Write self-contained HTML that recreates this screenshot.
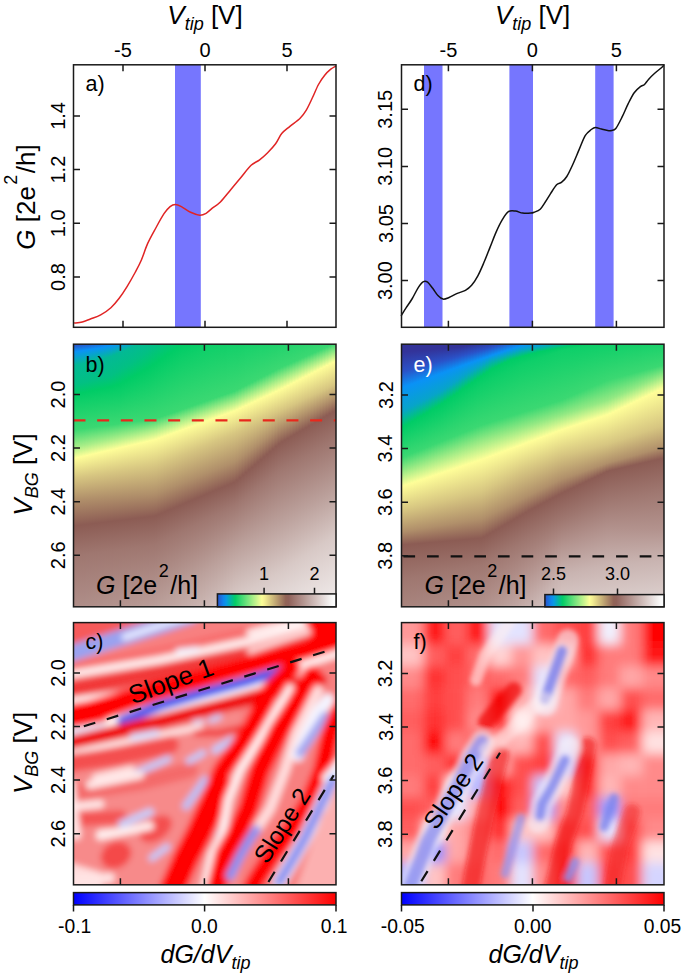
<!DOCTYPE html><html><head><meta charset="utf-8"><style>html,body{margin:0;padding:0;background:#fff;}svg{display:block;}</style></head><body><svg width="685" height="977" viewBox="0 0 685 977" font-family='"Liberation Sans", sans-serif'><defs><linearGradient id="g1" gradientUnits="userSpaceOnUse" x1="0" y1="344.2" x2="0" y2="606.8"><stop offset="0.0000" stop-color="#2a52c8"/><stop offset="0.0021" stop-color="#2a52c8"/><stop offset="0.0286" stop-color="#0a92f6"/><stop offset="0.0812" stop-color="#03b995"/><stop offset="0.1535" stop-color="#02c083"/><stop offset="0.1905" stop-color="#00cc66"/><stop offset="0.2188" stop-color="#0ecf69"/><stop offset="0.3257" stop-color="#3bd872"/><stop offset="0.3936" stop-color="#a9ee88"/><stop offset="0.4343" stop-color="#ffff99"/><stop offset="0.4354" stop-color="#fefd98"/><stop offset="0.5084" stop-color="#d7c681"/><stop offset="0.5927" stop-color="#b08f6a"/><stop offset="0.6914" stop-color="#8c5c54"/><stop offset="0.8055" stop-color="#9f7770"/><stop offset="1.0000" stop-color="#ae8d88"/></linearGradient><linearGradient id="g2" gradientUnits="userSpaceOnUse" x1="0" y1="344.2" x2="0" y2="606.8"><stop offset="0.0000" stop-color="#2a52c8"/><stop offset="0.0008" stop-color="#2a52c8"/><stop offset="0.0269" stop-color="#0a92f6"/><stop offset="0.0784" stop-color="#03b995"/><stop offset="0.1507" stop-color="#02c083"/><stop offset="0.1882" stop-color="#00cc66"/><stop offset="0.2169" stop-color="#0ecf69"/><stop offset="0.3242" stop-color="#3bd872"/><stop offset="0.3911" stop-color="#a9ee88"/><stop offset="0.4317" stop-color="#ffff99"/><stop offset="0.4327" stop-color="#fefd98"/><stop offset="0.5067" stop-color="#d7c681"/><stop offset="0.5919" stop-color="#b08f6a"/><stop offset="0.6900" stop-color="#8c5c54"/><stop offset="0.8040" stop-color="#9f7770"/><stop offset="1.0000" stop-color="#af8e88"/></linearGradient><linearGradient id="g3" gradientUnits="userSpaceOnUse" x1="0" y1="344.2" x2="0" y2="606.8"><stop offset="0.0000" stop-color="#2953c9"/><stop offset="0.0252" stop-color="#0a92f6"/><stop offset="0.0756" stop-color="#03b995"/><stop offset="0.1479" stop-color="#02c083"/><stop offset="0.1859" stop-color="#00cc66"/><stop offset="0.2149" stop-color="#0ecf69"/><stop offset="0.3227" stop-color="#3bd872"/><stop offset="0.3886" stop-color="#a9ee88"/><stop offset="0.4291" stop-color="#ffff99"/><stop offset="0.4301" stop-color="#fefd98"/><stop offset="0.5051" stop-color="#d7c681"/><stop offset="0.5911" stop-color="#b08f6a"/><stop offset="0.6886" stop-color="#8c5c54"/><stop offset="0.8025" stop-color="#9f7770"/><stop offset="1.0000" stop-color="#af8e89"/></linearGradient><linearGradient id="g4" gradientUnits="userSpaceOnUse" x1="0" y1="344.2" x2="0" y2="606.8"><stop offset="0.0000" stop-color="#2857cb"/><stop offset="0.0235" stop-color="#0a92f6"/><stop offset="0.0728" stop-color="#03b995"/><stop offset="0.1452" stop-color="#02c083"/><stop offset="0.1836" stop-color="#00cc66"/><stop offset="0.2130" stop-color="#0ecf69"/><stop offset="0.3211" stop-color="#3ad872"/><stop offset="0.3861" stop-color="#a9ee88"/><stop offset="0.4264" stop-color="#ffff99"/><stop offset="0.4275" stop-color="#fefd98"/><stop offset="0.5034" stop-color="#d7c681"/><stop offset="0.5903" stop-color="#b08f6a"/><stop offset="0.6872" stop-color="#8c5c54"/><stop offset="0.8009" stop-color="#9f7770"/><stop offset="1.0000" stop-color="#af8e89"/></linearGradient><linearGradient id="g5" gradientUnits="userSpaceOnUse" x1="0" y1="344.2" x2="0" y2="606.8"><stop offset="0.0000" stop-color="#265ace"/><stop offset="0.0218" stop-color="#0a92f6"/><stop offset="0.0700" stop-color="#03b995"/><stop offset="0.1424" stop-color="#02c083"/><stop offset="0.1813" stop-color="#00cc66"/><stop offset="0.2110" stop-color="#0ecf69"/><stop offset="0.3196" stop-color="#3bd872"/><stop offset="0.3836" stop-color="#a9ee88"/><stop offset="0.4238" stop-color="#ffff99"/><stop offset="0.4248" stop-color="#fefd98"/><stop offset="0.5017" stop-color="#d7c681"/><stop offset="0.5894" stop-color="#b08f6a"/><stop offset="0.6858" stop-color="#8c5c54"/><stop offset="0.7994" stop-color="#9f7770"/><stop offset="1.0000" stop-color="#af8f8a"/></linearGradient><linearGradient id="g6" gradientUnits="userSpaceOnUse" x1="0" y1="344.2" x2="0" y2="606.8"><stop offset="0.0000" stop-color="#245ed1"/><stop offset="0.0201" stop-color="#0a92f6"/><stop offset="0.0673" stop-color="#03b995"/><stop offset="0.1396" stop-color="#02c083"/><stop offset="0.1790" stop-color="#00cc66"/><stop offset="0.2091" stop-color="#0ecf69"/><stop offset="0.3181" stop-color="#3bd872"/><stop offset="0.3811" stop-color="#a9ee88"/><stop offset="0.4211" stop-color="#ffff99"/><stop offset="0.4222" stop-color="#fefd98"/><stop offset="0.5000" stop-color="#d7c681"/><stop offset="0.5886" stop-color="#b08f6a"/><stop offset="0.6844" stop-color="#8c5c54"/><stop offset="0.7979" stop-color="#9f7770"/><stop offset="1.0000" stop-color="#b08f8a"/></linearGradient><linearGradient id="g7" gradientUnits="userSpaceOnUse" x1="0" y1="344.2" x2="0" y2="606.8"><stop offset="0.0000" stop-color="#2164d5"/><stop offset="0.0184" stop-color="#0a92f6"/><stop offset="0.0645" stop-color="#03b995"/><stop offset="0.1369" stop-color="#02c083"/><stop offset="0.1767" stop-color="#00cc66"/><stop offset="0.2072" stop-color="#0ecf69"/><stop offset="0.3165" stop-color="#3bd872"/><stop offset="0.3786" stop-color="#a9ee88"/><stop offset="0.4185" stop-color="#ffff99"/><stop offset="0.4195" stop-color="#fefd98"/><stop offset="0.4984" stop-color="#d7c681"/><stop offset="0.5877" stop-color="#b08f6a"/><stop offset="0.6830" stop-color="#8c5c54"/><stop offset="0.7963" stop-color="#9f7770"/><stop offset="1.0000" stop-color="#b0908b"/></linearGradient><linearGradient id="g8" gradientUnits="userSpaceOnUse" x1="0" y1="344.2" x2="0" y2="606.8"><stop offset="0.0000" stop-color="#1e6ada"/><stop offset="0.0167" stop-color="#0a92f6"/><stop offset="0.0617" stop-color="#03b995"/><stop offset="0.1341" stop-color="#02c083"/><stop offset="0.1744" stop-color="#00cc66"/><stop offset="0.2052" stop-color="#0ecf69"/><stop offset="0.3150" stop-color="#3ad872"/><stop offset="0.3760" stop-color="#a9ee88"/><stop offset="0.4158" stop-color="#ffff99"/><stop offset="0.4169" stop-color="#fefd98"/><stop offset="0.4967" stop-color="#d7c681"/><stop offset="0.5869" stop-color="#b08f6a"/><stop offset="0.6816" stop-color="#8c5c54"/><stop offset="0.7948" stop-color="#9f7770"/><stop offset="1.0000" stop-color="#b1908b"/></linearGradient><linearGradient id="g9" gradientUnits="userSpaceOnUse" x1="0" y1="344.2" x2="0" y2="606.8"><stop offset="0.0000" stop-color="#1b70dd"/><stop offset="0.0150" stop-color="#0a92f6"/><stop offset="0.0589" stop-color="#03b995"/><stop offset="0.1313" stop-color="#02c083"/><stop offset="0.1720" stop-color="#00cc66"/><stop offset="0.2032" stop-color="#0ecf69"/><stop offset="0.3134" stop-color="#3bd872"/><stop offset="0.3735" stop-color="#a9ee88"/><stop offset="0.4132" stop-color="#ffff99"/><stop offset="0.4142" stop-color="#fefd98"/><stop offset="0.4950" stop-color="#d7c681"/><stop offset="0.5861" stop-color="#b08f6a"/><stop offset="0.6802" stop-color="#8c5c54"/><stop offset="0.7933" stop-color="#9f7770"/><stop offset="1.0000" stop-color="#b1918c"/></linearGradient><linearGradient id="g10" gradientUnits="userSpaceOnUse" x1="0" y1="344.2" x2="0" y2="606.8"><stop offset="0.0000" stop-color="#1876e2"/><stop offset="0.0125" stop-color="#0a92f6"/><stop offset="0.0562" stop-color="#03b995"/><stop offset="0.1285" stop-color="#02c083"/><stop offset="0.1698" stop-color="#00cc66"/><stop offset="0.2013" stop-color="#0ecf69"/><stop offset="0.3119" stop-color="#3bd872"/><stop offset="0.3710" stop-color="#a9ee88"/><stop offset="0.4105" stop-color="#ffff99"/><stop offset="0.4116" stop-color="#fefd98"/><stop offset="0.4934" stop-color="#d7c681"/><stop offset="0.5852" stop-color="#b08f6a"/><stop offset="0.6788" stop-color="#8c5c54"/><stop offset="0.7917" stop-color="#9f7770"/><stop offset="1.0000" stop-color="#b1918c"/></linearGradient><linearGradient id="g11" gradientUnits="userSpaceOnUse" x1="0" y1="344.2" x2="0" y2="606.8"><stop offset="0.0000" stop-color="#157de7"/><stop offset="0.0094" stop-color="#0a92f6"/><stop offset="0.0534" stop-color="#03b995"/><stop offset="0.1257" stop-color="#02c083"/><stop offset="0.1674" stop-color="#00cc66"/><stop offset="0.1994" stop-color="#0ecf69"/><stop offset="0.3104" stop-color="#3bd872"/><stop offset="0.3685" stop-color="#a9ee88"/><stop offset="0.4079" stop-color="#ffff99"/><stop offset="0.4089" stop-color="#fefd98"/><stop offset="0.4917" stop-color="#d7c681"/><stop offset="0.5844" stop-color="#b08f6a"/><stop offset="0.6775" stop-color="#8c5c54"/><stop offset="0.7902" stop-color="#9f7770"/><stop offset="1.0000" stop-color="#b2928d"/></linearGradient><linearGradient id="g12" gradientUnits="userSpaceOnUse" x1="0" y1="344.2" x2="0" y2="606.8"><stop offset="0.0000" stop-color="#1184ec"/><stop offset="0.0064" stop-color="#0a92f6"/><stop offset="0.0506" stop-color="#03b995"/><stop offset="0.1230" stop-color="#02c083"/><stop offset="0.1652" stop-color="#00cc66"/><stop offset="0.1974" stop-color="#0ecf69"/><stop offset="0.3088" stop-color="#3ad872"/><stop offset="0.3660" stop-color="#a9ee88"/><stop offset="0.4053" stop-color="#ffff99"/><stop offset="0.4063" stop-color="#fefd98"/><stop offset="0.4900" stop-color="#d7c681"/><stop offset="0.5835" stop-color="#b08f6a"/><stop offset="0.6760" stop-color="#8c5c54"/><stop offset="0.7887" stop-color="#9f7770"/><stop offset="1.0000" stop-color="#b2938d"/></linearGradient><linearGradient id="g13" gradientUnits="userSpaceOnUse" x1="0" y1="344.2" x2="0" y2="606.8"><stop offset="0.0000" stop-color="#0e8af1"/><stop offset="0.0033" stop-color="#0a92f6"/><stop offset="0.0470" stop-color="#03b995"/><stop offset="0.1188" stop-color="#02c083"/><stop offset="0.1623" stop-color="#00cc66"/><stop offset="0.1955" stop-color="#0ecf69"/><stop offset="0.3073" stop-color="#3bd872"/><stop offset="0.3635" stop-color="#a9ee88"/><stop offset="0.4026" stop-color="#ffff99"/><stop offset="0.4037" stop-color="#fefd98"/><stop offset="0.4883" stop-color="#d7c681"/><stop offset="0.5827" stop-color="#b08f6a"/><stop offset="0.6747" stop-color="#8c5c54"/><stop offset="0.7871" stop-color="#9f7770"/><stop offset="1.0000" stop-color="#b2938e"/></linearGradient><linearGradient id="g14" gradientUnits="userSpaceOnUse" x1="0" y1="344.2" x2="0" y2="606.8"><stop offset="0.0000" stop-color="#0a91f6"/><stop offset="0.0003" stop-color="#0a92f6"/><stop offset="0.0419" stop-color="#03b995"/><stop offset="0.1120" stop-color="#02c083"/><stop offset="0.1582" stop-color="#00cc66"/><stop offset="0.1935" stop-color="#0ecf69"/><stop offset="0.3058" stop-color="#3bd872"/><stop offset="0.3610" stop-color="#a9ee88"/><stop offset="0.4000" stop-color="#ffff99"/><stop offset="0.4010" stop-color="#fefd98"/><stop offset="0.4867" stop-color="#d7c681"/><stop offset="0.5819" stop-color="#b08f6a"/><stop offset="0.6733" stop-color="#8c5c54"/><stop offset="0.7856" stop-color="#9f7770"/><stop offset="1.0000" stop-color="#b3948f"/></linearGradient><linearGradient id="g15" gradientUnits="userSpaceOnUse" x1="0" y1="344.2" x2="0" y2="606.8"><stop offset="0.0000" stop-color="#0a95ef"/><stop offset="0.0367" stop-color="#03b995"/><stop offset="0.1051" stop-color="#02c083"/><stop offset="0.1541" stop-color="#00cc66"/><stop offset="0.1916" stop-color="#0ecf69"/><stop offset="0.3043" stop-color="#3bd872"/><stop offset="0.3585" stop-color="#a9ee88"/><stop offset="0.3973" stop-color="#ffff99"/><stop offset="0.3983" stop-color="#fefd98"/><stop offset="0.4850" stop-color="#d7c681"/><stop offset="0.5810" stop-color="#b08f6a"/><stop offset="0.6719" stop-color="#8c5c54"/><stop offset="0.7841" stop-color="#9f7770"/><stop offset="1.0000" stop-color="#b3948f"/></linearGradient><linearGradient id="g16" gradientUnits="userSpaceOnUse" x1="0" y1="344.2" x2="0" y2="606.8"><stop offset="0.0000" stop-color="#0998e7"/><stop offset="0.0316" stop-color="#03b995"/><stop offset="0.0982" stop-color="#02c083"/><stop offset="0.1500" stop-color="#00cc66"/><stop offset="0.1896" stop-color="#0ecf69"/><stop offset="0.3027" stop-color="#3bd872"/><stop offset="0.3560" stop-color="#a9ee88"/><stop offset="0.3947" stop-color="#ffff99"/><stop offset="0.3957" stop-color="#fefd98"/><stop offset="0.4833" stop-color="#d7c681"/><stop offset="0.5802" stop-color="#b08f6a"/><stop offset="0.6705" stop-color="#8c5c54"/><stop offset="0.7826" stop-color="#9f7770"/><stop offset="1.0000" stop-color="#b49590"/></linearGradient><linearGradient id="g17" gradientUnits="userSpaceOnUse" x1="0" y1="344.2" x2="0" y2="606.8"><stop offset="0.0000" stop-color="#089cde"/><stop offset="0.0265" stop-color="#03b995"/><stop offset="0.0914" stop-color="#02c083"/><stop offset="0.1441" stop-color="#00cc66"/><stop offset="0.1843" stop-color="#0ecf69"/><stop offset="0.3012" stop-color="#3bd872"/><stop offset="0.3535" stop-color="#a9ee88"/><stop offset="0.3920" stop-color="#ffff99"/><stop offset="0.3930" stop-color="#fefd98"/><stop offset="0.4816" stop-color="#d7c681"/><stop offset="0.5794" stop-color="#b08f6a"/><stop offset="0.6691" stop-color="#8c5c54"/><stop offset="0.7810" stop-color="#9f7770"/><stop offset="1.0000" stop-color="#b49691"/></linearGradient><linearGradient id="g18" gradientUnits="userSpaceOnUse" x1="0" y1="344.2" x2="0" y2="606.8"><stop offset="0.0000" stop-color="#08a0d3"/><stop offset="0.0213" stop-color="#03b995"/><stop offset="0.0845" stop-color="#02c083"/><stop offset="0.1380" stop-color="#00cc66"/><stop offset="0.1790" stop-color="#0ecf69"/><stop offset="0.2997" stop-color="#3bd872"/><stop offset="0.3510" stop-color="#a9ee88"/><stop offset="0.3894" stop-color="#ffff99"/><stop offset="0.3904" stop-color="#fefd98"/><stop offset="0.4800" stop-color="#d7c681"/><stop offset="0.5785" stop-color="#b08f6a"/><stop offset="0.6677" stop-color="#8c5c54"/><stop offset="0.7795" stop-color="#9f7770"/><stop offset="1.0000" stop-color="#b59691"/></linearGradient><linearGradient id="g19" gradientUnits="userSpaceOnUse" x1="0" y1="344.2" x2="0" y2="606.8"><stop offset="0.0000" stop-color="#07a5c7"/><stop offset="0.0162" stop-color="#03b995"/><stop offset="0.0777" stop-color="#02c083"/><stop offset="0.1321" stop-color="#00cc66"/><stop offset="0.1736" stop-color="#0ecf69"/><stop offset="0.2981" stop-color="#3bd872"/><stop offset="0.3485" stop-color="#a9ee88"/><stop offset="0.3868" stop-color="#ffff99"/><stop offset="0.3877" stop-color="#fefd98"/><stop offset="0.4783" stop-color="#d7c681"/><stop offset="0.5777" stop-color="#b08f6a"/><stop offset="0.6663" stop-color="#8c5c54"/><stop offset="0.7780" stop-color="#9f7770"/><stop offset="1.0000" stop-color="#b59792"/></linearGradient><linearGradient id="g20" gradientUnits="userSpaceOnUse" x1="0" y1="344.2" x2="0" y2="606.8"><stop offset="0.0000" stop-color="#06acb6"/><stop offset="0.0095" stop-color="#03b995"/><stop offset="0.0701" stop-color="#02c083"/><stop offset="0.1257" stop-color="#00cc66"/><stop offset="0.1683" stop-color="#0ecf69"/><stop offset="0.2966" stop-color="#3bd872"/><stop offset="0.3460" stop-color="#a9ee88"/><stop offset="0.3841" stop-color="#ffff99"/><stop offset="0.3851" stop-color="#fefd98"/><stop offset="0.4767" stop-color="#d7c681"/><stop offset="0.5768" stop-color="#b08f6a"/><stop offset="0.6649" stop-color="#8c5c54"/><stop offset="0.7764" stop-color="#9f7770"/><stop offset="1.0000" stop-color="#b69893"/></linearGradient><linearGradient id="g21" gradientUnits="userSpaceOnUse" x1="0" y1="344.2" x2="0" y2="606.8"><stop offset="0.0000" stop-color="#04b69e"/><stop offset="0.0021" stop-color="#03b995"/><stop offset="0.0621" stop-color="#02c083"/><stop offset="0.1193" stop-color="#00cc66"/><stop offset="0.1630" stop-color="#0ecf69"/><stop offset="0.2950" stop-color="#3bd872"/><stop offset="0.3435" stop-color="#a9ee88"/><stop offset="0.3815" stop-color="#ffff99"/><stop offset="0.3824" stop-color="#fefd98"/><stop offset="0.4750" stop-color="#d7c681"/><stop offset="0.5760" stop-color="#b08f6a"/><stop offset="0.6635" stop-color="#8c5c54"/><stop offset="0.7749" stop-color="#9f7770"/><stop offset="1.0000" stop-color="#b69893"/></linearGradient><linearGradient id="g22" gradientUnits="userSpaceOnUse" x1="0" y1="344.2" x2="0" y2="606.8"><stop offset="0.0000" stop-color="#03ba93"/><stop offset="0.0541" stop-color="#02c083"/><stop offset="0.1128" stop-color="#00cc66"/><stop offset="0.1577" stop-color="#0ecf69"/><stop offset="0.2935" stop-color="#3bd872"/><stop offset="0.3409" stop-color="#a9ee88"/><stop offset="0.3788" stop-color="#ffff99"/><stop offset="0.3798" stop-color="#fefd98"/><stop offset="0.4733" stop-color="#d7c681"/><stop offset="0.5752" stop-color="#b08f6a"/><stop offset="0.6621" stop-color="#8c5c54"/><stop offset="0.7733" stop-color="#9f7770"/><stop offset="1.0000" stop-color="#b79994"/></linearGradient><linearGradient id="g23" gradientUnits="userSpaceOnUse" x1="0" y1="344.2" x2="0" y2="606.8"><stop offset="0.0000" stop-color="#03bb91"/><stop offset="0.0461" stop-color="#02c083"/><stop offset="0.1063" stop-color="#00cc66"/><stop offset="0.1523" stop-color="#0ecf69"/><stop offset="0.2920" stop-color="#3bd872"/><stop offset="0.3384" stop-color="#a9ee88"/><stop offset="0.3762" stop-color="#ffff99"/><stop offset="0.3772" stop-color="#fefd98"/><stop offset="0.4716" stop-color="#d7c681"/><stop offset="0.5743" stop-color="#b08f6a"/><stop offset="0.6607" stop-color="#8c5c54"/><stop offset="0.7718" stop-color="#9f7770"/><stop offset="1.0000" stop-color="#b79a95"/></linearGradient><linearGradient id="g24" gradientUnits="userSpaceOnUse" x1="0" y1="344.2" x2="0" y2="606.8"><stop offset="0.0000" stop-color="#03bc8f"/><stop offset="0.0381" stop-color="#02c083"/><stop offset="0.0998" stop-color="#00cc66"/><stop offset="0.1470" stop-color="#0ecf69"/><stop offset="0.2905" stop-color="#3bd872"/><stop offset="0.3359" stop-color="#a9ee88"/><stop offset="0.3736" stop-color="#ffff99"/><stop offset="0.3745" stop-color="#fefd98"/><stop offset="0.4700" stop-color="#d7c681"/><stop offset="0.5735" stop-color="#b08f6a"/><stop offset="0.6593" stop-color="#8c5c54"/><stop offset="0.7703" stop-color="#9f7770"/><stop offset="1.0000" stop-color="#b89b96"/></linearGradient><linearGradient id="g25" gradientUnits="userSpaceOnUse" x1="0" y1="344.2" x2="0" y2="606.8"><stop offset="0.0000" stop-color="#03bc8d"/><stop offset="0.0301" stop-color="#02c083"/><stop offset="0.0933" stop-color="#00cc66"/><stop offset="0.1417" stop-color="#0ecf69"/><stop offset="0.2889" stop-color="#3bd872"/><stop offset="0.3334" stop-color="#a9ee88"/><stop offset="0.3709" stop-color="#ffff99"/><stop offset="0.3719" stop-color="#fefd98"/><stop offset="0.4683" stop-color="#d7c681"/><stop offset="0.5727" stop-color="#b08f6a"/><stop offset="0.6580" stop-color="#8c5c54"/><stop offset="0.7687" stop-color="#9f7770"/><stop offset="1.0000" stop-color="#b89b97"/></linearGradient><linearGradient id="g26" gradientUnits="userSpaceOnUse" x1="0" y1="344.2" x2="0" y2="606.8"><stop offset="0.0000" stop-color="#03bd8a"/><stop offset="0.0221" stop-color="#02c083"/><stop offset="0.0868" stop-color="#00cc66"/><stop offset="0.1363" stop-color="#0ecf69"/><stop offset="0.2874" stop-color="#3bd872"/><stop offset="0.3309" stop-color="#a9ee88"/><stop offset="0.3683" stop-color="#ffff99"/><stop offset="0.3692" stop-color="#fefd98"/><stop offset="0.4666" stop-color="#d7c681"/><stop offset="0.5719" stop-color="#b08f6a"/><stop offset="0.6565" stop-color="#8c5c54"/><stop offset="0.7672" stop-color="#9f7770"/><stop offset="1.0000" stop-color="#b99c98"/></linearGradient><linearGradient id="g27" gradientUnits="userSpaceOnUse" x1="0" y1="344.2" x2="0" y2="606.8"><stop offset="0.0000" stop-color="#02be88"/><stop offset="0.0135" stop-color="#02c083"/><stop offset="0.0788" stop-color="#00cc66"/><stop offset="0.1287" stop-color="#0ecf69"/><stop offset="0.2859" stop-color="#3bd872"/><stop offset="0.3284" stop-color="#a9ee88"/><stop offset="0.3656" stop-color="#ffff99"/><stop offset="0.3666" stop-color="#fefd98"/><stop offset="0.4649" stop-color="#d7c681"/><stop offset="0.5710" stop-color="#b08f6a"/><stop offset="0.6551" stop-color="#8c5c54"/><stop offset="0.7657" stop-color="#9f7770"/><stop offset="1.0000" stop-color="#b99d98"/></linearGradient><linearGradient id="g28" gradientUnits="userSpaceOnUse" x1="0" y1="344.2" x2="0" y2="606.8"><stop offset="0.0000" stop-color="#02bf85"/><stop offset="0.0050" stop-color="#02c083"/><stop offset="0.0708" stop-color="#00cc66"/><stop offset="0.1211" stop-color="#0ecf69"/><stop offset="0.2835" stop-color="#3bd872"/><stop offset="0.3254" stop-color="#a9ee88"/><stop offset="0.3625" stop-color="#ffff99"/><stop offset="0.3634" stop-color="#fefd98"/><stop offset="0.4623" stop-color="#d7c681"/><stop offset="0.5689" stop-color="#b08f6a"/><stop offset="0.6526" stop-color="#8c5c54"/><stop offset="0.7628" stop-color="#9f7770"/><stop offset="1.0000" stop-color="#ba9e9a"/></linearGradient><linearGradient id="g29" gradientUnits="userSpaceOnUse" x1="0" y1="344.2" x2="0" y2="606.8"><stop offset="0.0000" stop-color="#02c182"/><stop offset="0.0628" stop-color="#00cc66"/><stop offset="0.1135" stop-color="#0ecf69"/><stop offset="0.2795" stop-color="#3bd872"/><stop offset="0.3214" stop-color="#a9ee88"/><stop offset="0.3583" stop-color="#ffff99"/><stop offset="0.3593" stop-color="#fefd98"/><stop offset="0.4575" stop-color="#d7c681"/><stop offset="0.5644" stop-color="#b08f6a"/><stop offset="0.6478" stop-color="#8c5c54"/><stop offset="0.7570" stop-color="#9f7770"/><stop offset="1.0000" stop-color="#bba09b"/></linearGradient><linearGradient id="g30" gradientUnits="userSpaceOnUse" x1="0" y1="344.2" x2="0" y2="606.8"><stop offset="0.0000" stop-color="#02c27e"/><stop offset="0.0547" stop-color="#00cc66"/><stop offset="0.1059" stop-color="#0ecf69"/><stop offset="0.2755" stop-color="#3bd872"/><stop offset="0.3174" stop-color="#a9ee88"/><stop offset="0.3542" stop-color="#ffff99"/><stop offset="0.3551" stop-color="#fefd98"/><stop offset="0.4528" stop-color="#d7c681"/><stop offset="0.5598" stop-color="#b08f6a"/><stop offset="0.6429" stop-color="#8c5c54"/><stop offset="0.7513" stop-color="#9f7770"/><stop offset="0.9915" stop-color="#bba09b"/><stop offset="1.0000" stop-color="#bca19c"/></linearGradient><linearGradient id="g31" gradientUnits="userSpaceOnUse" x1="0" y1="344.2" x2="0" y2="606.8"><stop offset="0.0000" stop-color="#01c47a"/><stop offset="0.0467" stop-color="#00cc66"/><stop offset="0.0982" stop-color="#0ecf69"/><stop offset="0.2715" stop-color="#3bd872"/><stop offset="0.3134" stop-color="#a9ee88"/><stop offset="0.3501" stop-color="#ffff99"/><stop offset="0.3510" stop-color="#fefd98"/><stop offset="0.4481" stop-color="#d7c681"/><stop offset="0.5552" stop-color="#b08f6a"/><stop offset="0.6380" stop-color="#8c5c54"/><stop offset="0.7456" stop-color="#9f7770"/><stop offset="0.9827" stop-color="#bba09b"/><stop offset="1.0000" stop-color="#bda29e"/></linearGradient><linearGradient id="g32" gradientUnits="userSpaceOnUse" x1="0" y1="344.2" x2="0" y2="606.8"><stop offset="0.0000" stop-color="#01c577"/><stop offset="0.0387" stop-color="#00cc66"/><stop offset="0.0906" stop-color="#0ecf69"/><stop offset="0.2675" stop-color="#3bd872"/><stop offset="0.3094" stop-color="#a9ee88"/><stop offset="0.3459" stop-color="#ffff99"/><stop offset="0.3469" stop-color="#fefd98"/><stop offset="0.4434" stop-color="#d7c681"/><stop offset="0.5506" stop-color="#b08f6a"/><stop offset="0.6332" stop-color="#8c5c54"/><stop offset="0.7399" stop-color="#9f7770"/><stop offset="0.9738" stop-color="#bba09b"/><stop offset="1.0000" stop-color="#bea39f"/></linearGradient><linearGradient id="g33" gradientUnits="userSpaceOnUse" x1="0" y1="344.2" x2="0" y2="606.8"><stop offset="0.0000" stop-color="#01c773"/><stop offset="0.0306" stop-color="#00cc66"/><stop offset="0.0830" stop-color="#0ecf69"/><stop offset="0.2635" stop-color="#3bd872"/><stop offset="0.3054" stop-color="#a9ee88"/><stop offset="0.3418" stop-color="#ffff99"/><stop offset="0.3427" stop-color="#fefd98"/><stop offset="0.4387" stop-color="#d7c681"/><stop offset="0.5461" stop-color="#b08f6a"/><stop offset="0.6283" stop-color="#8c5c54"/><stop offset="0.7342" stop-color="#9f7770"/><stop offset="0.9650" stop-color="#bba09b"/><stop offset="1.0000" stop-color="#bfa5a1"/></linearGradient><linearGradient id="g34" gradientUnits="userSpaceOnUse" x1="0" y1="344.2" x2="0" y2="606.8"><stop offset="0.0000" stop-color="#01c870"/><stop offset="0.0226" stop-color="#00cc66"/><stop offset="0.0754" stop-color="#0ecf69"/><stop offset="0.2595" stop-color="#3bd872"/><stop offset="0.3014" stop-color="#a9ee88"/><stop offset="0.3377" stop-color="#ffff99"/><stop offset="0.3386" stop-color="#fefd98"/><stop offset="0.4340" stop-color="#d7c681"/><stop offset="0.5415" stop-color="#b08f6a"/><stop offset="0.6235" stop-color="#8c5c54"/><stop offset="0.7285" stop-color="#9f7770"/><stop offset="0.9561" stop-color="#bba09b"/><stop offset="1.0000" stop-color="#c0a6a2"/></linearGradient><linearGradient id="g35" gradientUnits="userSpaceOnUse" x1="0" y1="344.2" x2="0" y2="606.8"><stop offset="0.0000" stop-color="#00ca6c"/><stop offset="0.0145" stop-color="#00cc66"/><stop offset="0.0678" stop-color="#0ecf69"/><stop offset="0.2555" stop-color="#3bd872"/><stop offset="0.2974" stop-color="#a9ee88"/><stop offset="0.3335" stop-color="#ffff99"/><stop offset="0.3344" stop-color="#fefd98"/><stop offset="0.4293" stop-color="#d7c681"/><stop offset="0.5369" stop-color="#b08f6a"/><stop offset="0.6186" stop-color="#8c5c54"/><stop offset="0.7228" stop-color="#9f7770"/><stop offset="0.9473" stop-color="#bba09b"/><stop offset="1.0000" stop-color="#c1a8a3"/></linearGradient><linearGradient id="g36" gradientUnits="userSpaceOnUse" x1="0" y1="344.2" x2="0" y2="606.8"><stop offset="0.0000" stop-color="#00cb69"/><stop offset="0.0065" stop-color="#00cc66"/><stop offset="0.0602" stop-color="#0ecf69"/><stop offset="0.2515" stop-color="#3bd872"/><stop offset="0.2934" stop-color="#a9ee88"/><stop offset="0.3294" stop-color="#ffff99"/><stop offset="0.3303" stop-color="#fefd98"/><stop offset="0.4246" stop-color="#d7c681"/><stop offset="0.5324" stop-color="#b08f6a"/><stop offset="0.6138" stop-color="#8c5c54"/><stop offset="0.7171" stop-color="#9f7770"/><stop offset="0.9384" stop-color="#bba09b"/><stop offset="1.0000" stop-color="#c2a9a5"/></linearGradient><linearGradient id="g37" gradientUnits="userSpaceOnUse" x1="0" y1="344.2" x2="0" y2="606.8"><stop offset="0.0000" stop-color="#00cc66"/><stop offset="0.0006" stop-color="#00cc66"/><stop offset="0.0545" stop-color="#0ecf69"/><stop offset="0.2475" stop-color="#3bd872"/><stop offset="0.2894" stop-color="#a9ee88"/><stop offset="0.3252" stop-color="#ffff99"/><stop offset="0.3262" stop-color="#fefd98"/><stop offset="0.4198" stop-color="#d7c681"/><stop offset="0.5278" stop-color="#b08f6a"/><stop offset="0.6089" stop-color="#8c5c54"/><stop offset="0.7113" stop-color="#9f7770"/><stop offset="0.9296" stop-color="#bba09b"/><stop offset="1.0000" stop-color="#c3aba7"/></linearGradient><linearGradient id="g38" gradientUnits="userSpaceOnUse" x1="0" y1="344.2" x2="0" y2="606.8"><stop offset="0.0000" stop-color="#01cc66"/><stop offset="0.0487" stop-color="#0ecf69"/><stop offset="0.2435" stop-color="#3bd872"/><stop offset="0.2854" stop-color="#a9ee88"/><stop offset="0.3211" stop-color="#ffff99"/><stop offset="0.3220" stop-color="#fefd98"/><stop offset="0.4151" stop-color="#d7c681"/><stop offset="0.5232" stop-color="#b08f6a"/><stop offset="0.6040" stop-color="#8c5c54"/><stop offset="0.7056" stop-color="#9f7770"/><stop offset="0.9207" stop-color="#bba09b"/><stop offset="1.0000" stop-color="#c4aca8"/></linearGradient><linearGradient id="g39" gradientUnits="userSpaceOnUse" x1="0" y1="344.2" x2="0" y2="606.8"><stop offset="0.0000" stop-color="#02cc66"/><stop offset="0.0430" stop-color="#0ecf69"/><stop offset="0.2395" stop-color="#3bd872"/><stop offset="0.2814" stop-color="#a9ee88"/><stop offset="0.3170" stop-color="#ffff99"/><stop offset="0.3179" stop-color="#fefd98"/><stop offset="0.4104" stop-color="#d7c681"/><stop offset="0.5187" stop-color="#b08f6a"/><stop offset="0.5992" stop-color="#8c5c54"/><stop offset="0.6999" stop-color="#9f7770"/><stop offset="0.9118" stop-color="#bba09b"/><stop offset="1.0000" stop-color="#c5aeaa"/></linearGradient><linearGradient id="g40" gradientUnits="userSpaceOnUse" x1="0" y1="344.2" x2="0" y2="606.8"><stop offset="0.0000" stop-color="#04cd67"/><stop offset="0.0373" stop-color="#0ecf69"/><stop offset="0.2355" stop-color="#3bd872"/><stop offset="0.2774" stop-color="#a9ee88"/><stop offset="0.3128" stop-color="#ffff99"/><stop offset="0.3137" stop-color="#fefd98"/><stop offset="0.4057" stop-color="#d7c681"/><stop offset="0.5141" stop-color="#b08f6a"/><stop offset="0.5943" stop-color="#8c5c54"/><stop offset="0.6942" stop-color="#9f7770"/><stop offset="0.9030" stop-color="#bba09b"/><stop offset="1.0000" stop-color="#c6b0ac"/></linearGradient><linearGradient id="g41" gradientUnits="userSpaceOnUse" x1="0" y1="344.2" x2="0" y2="606.8"><stop offset="0.0000" stop-color="#05cd67"/><stop offset="0.0316" stop-color="#0ecf69"/><stop offset="0.2315" stop-color="#3bd872"/><stop offset="0.2734" stop-color="#a9ee88"/><stop offset="0.3087" stop-color="#ffff99"/><stop offset="0.3096" stop-color="#fefd98"/><stop offset="0.4010" stop-color="#d7c681"/><stop offset="0.5095" stop-color="#b08f6a"/><stop offset="0.5895" stop-color="#8c5c54"/><stop offset="0.6885" stop-color="#9f7770"/><stop offset="0.8941" stop-color="#bba09b"/><stop offset="1.0000" stop-color="#c7b1ae"/></linearGradient><linearGradient id="g42" gradientUnits="userSpaceOnUse" x1="0" y1="344.2" x2="0" y2="606.8"><stop offset="0.0000" stop-color="#07cd67"/><stop offset="0.0259" stop-color="#0ecf69"/><stop offset="0.2275" stop-color="#3bd872"/><stop offset="0.2694" stop-color="#a9ee88"/><stop offset="0.3046" stop-color="#ffff99"/><stop offset="0.3054" stop-color="#fefd98"/><stop offset="0.3963" stop-color="#d7c681"/><stop offset="0.5050" stop-color="#b08f6a"/><stop offset="0.5847" stop-color="#8c5c54"/><stop offset="0.6828" stop-color="#9f7770"/><stop offset="0.8853" stop-color="#bba09b"/><stop offset="1.0000" stop-color="#c9b3af"/></linearGradient><linearGradient id="g43" gradientUnits="userSpaceOnUse" x1="0" y1="344.2" x2="0" y2="606.8"><stop offset="0.0000" stop-color="#08ce68"/><stop offset="0.0202" stop-color="#0ecf69"/><stop offset="0.2235" stop-color="#3bd872"/><stop offset="0.2654" stop-color="#a9ee88"/><stop offset="0.3004" stop-color="#ffff99"/><stop offset="0.3013" stop-color="#fefd98"/><stop offset="0.3915" stop-color="#d7c681"/><stop offset="0.5004" stop-color="#b08f6a"/><stop offset="0.5798" stop-color="#8c5c54"/><stop offset="0.6771" stop-color="#9f7770"/><stop offset="0.8764" stop-color="#bba09b"/><stop offset="1.0000" stop-color="#cab5b1"/></linearGradient><linearGradient id="g44" gradientUnits="userSpaceOnUse" x1="0" y1="344.2" x2="0" y2="606.8"><stop offset="0.0000" stop-color="#0ace68"/><stop offset="0.0145" stop-color="#0ecf69"/><stop offset="0.2195" stop-color="#3bd872"/><stop offset="0.2614" stop-color="#a9ee88"/><stop offset="0.2963" stop-color="#ffff99"/><stop offset="0.2972" stop-color="#fefd98"/><stop offset="0.3869" stop-color="#d7c681"/><stop offset="0.4958" stop-color="#b08f6a"/><stop offset="0.5749" stop-color="#8c5c54"/><stop offset="0.6714" stop-color="#9f7770"/><stop offset="0.8676" stop-color="#bba09b"/><stop offset="1.0000" stop-color="#cbb7b3"/></linearGradient><linearGradient id="g45" gradientUnits="userSpaceOnUse" x1="0" y1="344.2" x2="0" y2="606.8"><stop offset="0.0000" stop-color="#0cce68"/><stop offset="0.0088" stop-color="#0ecf69"/><stop offset="0.2155" stop-color="#3bd872"/><stop offset="0.2574" stop-color="#a9ee88"/><stop offset="0.2922" stop-color="#ffff99"/><stop offset="0.2930" stop-color="#fefd98"/><stop offset="0.3821" stop-color="#d7c681"/><stop offset="0.4912" stop-color="#b08f6a"/><stop offset="0.5701" stop-color="#8c5c54"/><stop offset="0.6657" stop-color="#9f7770"/><stop offset="0.8587" stop-color="#bba09b"/><stop offset="1.0000" stop-color="#cdb9b6"/></linearGradient><linearGradient id="g46" gradientUnits="userSpaceOnUse" x1="0" y1="344.2" x2="0" y2="606.8"><stop offset="0.0000" stop-color="#0dcf69"/><stop offset="0.0030" stop-color="#0ecf69"/><stop offset="0.2115" stop-color="#3bd872"/><stop offset="0.2534" stop-color="#a9ee88"/><stop offset="0.2880" stop-color="#ffff99"/><stop offset="0.2889" stop-color="#fefd98"/><stop offset="0.3774" stop-color="#d7c681"/><stop offset="0.4867" stop-color="#b08f6a"/><stop offset="0.5652" stop-color="#8c5c54"/><stop offset="0.6599" stop-color="#9f7770"/><stop offset="0.8499" stop-color="#bba09b"/><stop offset="1.0000" stop-color="#cebbb8"/></linearGradient><linearGradient id="g47" gradientUnits="userSpaceOnUse" x1="0" y1="344.2" x2="0" y2="606.8"><stop offset="0.0000" stop-color="#0ecf69"/><stop offset="0.2075" stop-color="#3bd872"/><stop offset="0.2494" stop-color="#a9ee88"/><stop offset="0.2839" stop-color="#ffff99"/><stop offset="0.2848" stop-color="#fefd98"/><stop offset="0.3727" stop-color="#d7c681"/><stop offset="0.4821" stop-color="#b08f6a"/><stop offset="0.5604" stop-color="#8c5c54"/><stop offset="0.6542" stop-color="#9f7770"/><stop offset="0.8410" stop-color="#bba09b"/><stop offset="1.0000" stop-color="#d0bdba"/></linearGradient><linearGradient id="g48" gradientUnits="userSpaceOnUse" x1="0" y1="344.2" x2="0" y2="606.8"><stop offset="0.0000" stop-color="#0fcf69"/><stop offset="0.2035" stop-color="#3bd872"/><stop offset="0.2454" stop-color="#a9ee88"/><stop offset="0.2797" stop-color="#ffff99"/><stop offset="0.2806" stop-color="#fefd98"/><stop offset="0.3680" stop-color="#d7c681"/><stop offset="0.4775" stop-color="#b08f6a"/><stop offset="0.5555" stop-color="#8c5c54"/><stop offset="0.6485" stop-color="#9f7770"/><stop offset="0.8322" stop-color="#bba09b"/><stop offset="1.0000" stop-color="#d1bfbc"/></linearGradient><linearGradient id="g49" gradientUnits="userSpaceOnUse" x1="0" y1="344.2" x2="0" y2="606.8"><stop offset="0.0000" stop-color="#10cf69"/><stop offset="0.1995" stop-color="#3bd872"/><stop offset="0.2414" stop-color="#a9ee88"/><stop offset="0.2756" stop-color="#ffff99"/><stop offset="0.2765" stop-color="#fefd98"/><stop offset="0.3633" stop-color="#d7c681"/><stop offset="0.4730" stop-color="#b08f6a"/><stop offset="0.5506" stop-color="#8c5c54"/><stop offset="0.6428" stop-color="#9f7770"/><stop offset="0.8233" stop-color="#bba09b"/><stop offset="1.0000" stop-color="#d3c2bf"/></linearGradient><linearGradient id="g50" gradientUnits="userSpaceOnUse" x1="0" y1="344.2" x2="0" y2="606.8"><stop offset="0.0000" stop-color="#11cf69"/><stop offset="0.1955" stop-color="#3bd872"/><stop offset="0.2374" stop-color="#a9ee88"/><stop offset="0.2714" stop-color="#ffff99"/><stop offset="0.2723" stop-color="#fefd98"/><stop offset="0.3586" stop-color="#d7c681"/><stop offset="0.4684" stop-color="#b08f6a"/><stop offset="0.5458" stop-color="#8c5c54"/><stop offset="0.6371" stop-color="#9f7770"/><stop offset="0.8145" stop-color="#bba09b"/><stop offset="1.0000" stop-color="#d5c4c1"/></linearGradient><linearGradient id="g51" gradientUnits="userSpaceOnUse" x1="0" y1="344.2" x2="0" y2="606.8"><stop offset="0.0000" stop-color="#11cf69"/><stop offset="0.1915" stop-color="#3bd872"/><stop offset="0.2334" stop-color="#a9ee88"/><stop offset="0.2673" stop-color="#ffff99"/><stop offset="0.2682" stop-color="#fefd98"/><stop offset="0.3538" stop-color="#d7c681"/><stop offset="0.4638" stop-color="#b08f6a"/><stop offset="0.5409" stop-color="#8c5c54"/><stop offset="0.6314" stop-color="#9f7770"/><stop offset="0.8056" stop-color="#bba09b"/><stop offset="1.0000" stop-color="#d6c7c4"/></linearGradient><linearGradient id="g52" gradientUnits="userSpaceOnUse" x1="0" y1="344.2" x2="0" y2="606.8"><stop offset="0.0000" stop-color="#12d06a"/><stop offset="0.1875" stop-color="#3bd872"/><stop offset="0.2294" stop-color="#a9ee88"/><stop offset="0.2632" stop-color="#ffff99"/><stop offset="0.2641" stop-color="#fefd98"/><stop offset="0.3492" stop-color="#d7c681"/><stop offset="0.4593" stop-color="#b08f6a"/><stop offset="0.5361" stop-color="#8c5c54"/><stop offset="0.6257" stop-color="#9f7770"/><stop offset="0.7967" stop-color="#bba09b"/><stop offset="0.9971" stop-color="#d8c9c6"/><stop offset="1.0000" stop-color="#d8c9c7"/></linearGradient><linearGradient id="g53" gradientUnits="userSpaceOnUse" x1="0" y1="344.2" x2="0" y2="606.8"><stop offset="0.0000" stop-color="#13d06a"/><stop offset="0.1835" stop-color="#3bd872"/><stop offset="0.2254" stop-color="#a9ee88"/><stop offset="0.2590" stop-color="#ffff99"/><stop offset="0.2599" stop-color="#fefd98"/><stop offset="0.3444" stop-color="#d7c681"/><stop offset="0.4547" stop-color="#b08f6a"/><stop offset="0.5312" stop-color="#8c5c54"/><stop offset="0.6200" stop-color="#9f7770"/><stop offset="0.7879" stop-color="#bba09b"/><stop offset="0.9840" stop-color="#d8c9c6"/><stop offset="1.0000" stop-color="#d9cbc9"/></linearGradient><linearGradient id="g54" gradientUnits="userSpaceOnUse" x1="0" y1="344.2" x2="0" y2="606.8"><stop offset="0.0000" stop-color="#14d06a"/><stop offset="0.1796" stop-color="#3bd872"/><stop offset="0.2214" stop-color="#a9ee88"/><stop offset="0.2549" stop-color="#ffff99"/><stop offset="0.2558" stop-color="#fefd98"/><stop offset="0.3397" stop-color="#d7c681"/><stop offset="0.4501" stop-color="#b08f6a"/><stop offset="0.5264" stop-color="#8c5c54"/><stop offset="0.6142" stop-color="#9f7770"/><stop offset="0.7790" stop-color="#bba09b"/><stop offset="0.9709" stop-color="#d8c9c6"/><stop offset="1.0000" stop-color="#dbcdcb"/></linearGradient><linearGradient id="g55" gradientUnits="userSpaceOnUse" x1="0" y1="344.2" x2="0" y2="606.8"><stop offset="0.0000" stop-color="#14d06a"/><stop offset="0.1743" stop-color="#3bd872"/><stop offset="0.2164" stop-color="#a9ee88"/><stop offset="0.2500" stop-color="#ffff99"/><stop offset="0.2508" stop-color="#fefd98"/><stop offset="0.3344" stop-color="#d7c681"/><stop offset="0.4428" stop-color="#b08f6a"/><stop offset="0.5182" stop-color="#8c5c54"/><stop offset="0.6064" stop-color="#9f7770"/><stop offset="0.7717" stop-color="#bba09b"/><stop offset="0.9621" stop-color="#d8c9c6"/><stop offset="1.0000" stop-color="#dccfcd"/></linearGradient><linearGradient id="g56" gradientUnits="userSpaceOnUse" x1="0" y1="344.2" x2="0" y2="606.8"><stop offset="0.0000" stop-color="#15d06a"/><stop offset="0.1685" stop-color="#3bd872"/><stop offset="0.2108" stop-color="#a9ee88"/><stop offset="0.2446" stop-color="#ffff99"/><stop offset="0.2455" stop-color="#fefd98"/><stop offset="0.3289" stop-color="#d7c681"/><stop offset="0.4342" stop-color="#b08f6a"/><stop offset="0.5083" stop-color="#8c5c54"/><stop offset="0.5975" stop-color="#9f7770"/><stop offset="0.7651" stop-color="#bba09b"/><stop offset="0.9555" stop-color="#d8c9c6"/><stop offset="1.0000" stop-color="#ddd0ce"/></linearGradient><linearGradient id="g57" gradientUnits="userSpaceOnUse" x1="0" y1="344.2" x2="0" y2="606.8"><stop offset="0.0000" stop-color="#16d06a"/><stop offset="0.1626" stop-color="#3bd872"/><stop offset="0.2052" stop-color="#a9ee88"/><stop offset="0.2393" stop-color="#ffff99"/><stop offset="0.2402" stop-color="#fefd98"/><stop offset="0.3233" stop-color="#d7c681"/><stop offset="0.4256" stop-color="#b08f6a"/><stop offset="0.4984" stop-color="#8c5c54"/><stop offset="0.5887" stop-color="#9f7770"/><stop offset="0.7585" stop-color="#bba09b"/><stop offset="0.9489" stop-color="#d8c9c6"/><stop offset="1.0000" stop-color="#ddd1cf"/></linearGradient><linearGradient id="g58" gradientUnits="userSpaceOnUse" x1="0" y1="344.2" x2="0" y2="606.8"><stop offset="0.0000" stop-color="#17d16b"/><stop offset="0.1568" stop-color="#3bd872"/><stop offset="0.1996" stop-color="#a9ee88"/><stop offset="0.2340" stop-color="#ffff99"/><stop offset="0.2348" stop-color="#fefd98"/><stop offset="0.3177" stop-color="#d7c681"/><stop offset="0.4169" stop-color="#b08f6a"/><stop offset="0.4885" stop-color="#8c5c54"/><stop offset="0.5797" stop-color="#9f7770"/><stop offset="0.7519" stop-color="#bba09b"/><stop offset="0.9423" stop-color="#d8c9c6"/><stop offset="1.0000" stop-color="#ded2d0"/></linearGradient><linearGradient id="g59" gradientUnits="userSpaceOnUse" x1="0" y1="344.2" x2="0" y2="606.8"><stop offset="0.0000" stop-color="#18d16b"/><stop offset="0.1510" stop-color="#3bd872"/><stop offset="0.1941" stop-color="#a9ee88"/><stop offset="0.2286" stop-color="#ffff99"/><stop offset="0.2295" stop-color="#fefd98"/><stop offset="0.3121" stop-color="#d7c681"/><stop offset="0.4083" stop-color="#b08f6a"/><stop offset="0.4786" stop-color="#8c5c54"/><stop offset="0.5709" stop-color="#9f7770"/><stop offset="0.7453" stop-color="#bba09b"/><stop offset="0.9357" stop-color="#d8c9c6"/><stop offset="1.0000" stop-color="#dfd3d1"/></linearGradient><linearGradient id="g60" gradientUnits="userSpaceOnUse" x1="0" y1="344.2" x2="0" y2="606.8"><stop offset="0.0000" stop-color="#19d16b"/><stop offset="0.1451" stop-color="#3bd872"/><stop offset="0.1885" stop-color="#a9ee88"/><stop offset="0.2233" stop-color="#ffff99"/><stop offset="0.2242" stop-color="#fefd98"/><stop offset="0.3065" stop-color="#d7c681"/><stop offset="0.3997" stop-color="#b08f6a"/><stop offset="0.4687" stop-color="#8c5c54"/><stop offset="0.5620" stop-color="#9f7770"/><stop offset="0.7387" stop-color="#bba09b"/><stop offset="0.9291" stop-color="#d8c9c6"/><stop offset="1.0000" stop-color="#e0d4d2"/></linearGradient><linearGradient id="g61" gradientUnits="userSpaceOnUse" x1="0" y1="344.2" x2="0" y2="606.8"><stop offset="0.0000" stop-color="#1ad16b"/><stop offset="0.1393" stop-color="#3bd872"/><stop offset="0.1829" stop-color="#a9ee88"/><stop offset="0.2179" stop-color="#ffff99"/><stop offset="0.2188" stop-color="#fefd98"/><stop offset="0.3009" stop-color="#d7c681"/><stop offset="0.3911" stop-color="#b08f6a"/><stop offset="0.4588" stop-color="#8c5c54"/><stop offset="0.5531" stop-color="#9f7770"/><stop offset="0.7321" stop-color="#bba09b"/><stop offset="0.9225" stop-color="#d8c9c6"/><stop offset="1.0000" stop-color="#e0d5d3"/></linearGradient><linearGradient id="g62" gradientUnits="userSpaceOnUse" x1="0" y1="344.2" x2="0" y2="606.8"><stop offset="0.0000" stop-color="#1bd16b"/><stop offset="0.1334" stop-color="#3bd872"/><stop offset="0.1773" stop-color="#a9ee88"/><stop offset="0.2126" stop-color="#ffff99"/><stop offset="0.2135" stop-color="#fefd98"/><stop offset="0.2954" stop-color="#d7c681"/><stop offset="0.3824" stop-color="#b08f6a"/><stop offset="0.4489" stop-color="#8c5c54"/><stop offset="0.5442" stop-color="#9f7770"/><stop offset="0.7255" stop-color="#bba09b"/><stop offset="0.9159" stop-color="#d8c9c6"/><stop offset="1.0000" stop-color="#e1d6d4"/></linearGradient><linearGradient id="g63" gradientUnits="userSpaceOnUse" x1="0" y1="344.2" x2="0" y2="606.8"><stop offset="0.0000" stop-color="#1cd26c"/><stop offset="0.1276" stop-color="#3bd872"/><stop offset="0.1717" stop-color="#a9ee88"/><stop offset="0.2073" stop-color="#ffff99"/><stop offset="0.2082" stop-color="#fefd98"/><stop offset="0.2898" stop-color="#d7c681"/><stop offset="0.3738" stop-color="#b08f6a"/><stop offset="0.4390" stop-color="#8c5c54"/><stop offset="0.5353" stop-color="#9f7770"/><stop offset="0.7189" stop-color="#bba09b"/><stop offset="0.9093" stop-color="#d8c9c6"/><stop offset="1.0000" stop-color="#e2d7d5"/></linearGradient><linearGradient id="g64" gradientUnits="userSpaceOnUse" x1="0" y1="344.2" x2="0" y2="606.8"><stop offset="0.0000" stop-color="#1cd26c"/><stop offset="0.1218" stop-color="#3bd872"/><stop offset="0.1661" stop-color="#a9ee88"/><stop offset="0.2019" stop-color="#ffff99"/><stop offset="0.2029" stop-color="#fefd98"/><stop offset="0.2842" stop-color="#d7c681"/><stop offset="0.3652" stop-color="#b08f6a"/><stop offset="0.4291" stop-color="#8c5c54"/><stop offset="0.5264" stop-color="#9f7770"/><stop offset="0.7123" stop-color="#bba09b"/><stop offset="0.9027" stop-color="#d8c9c6"/><stop offset="1.0000" stop-color="#e2d8d6"/></linearGradient><linearGradient id="g65" gradientUnits="userSpaceOnUse" x1="0" y1="344.2" x2="0" y2="606.8"><stop offset="0.0000" stop-color="#1dd26c"/><stop offset="0.1159" stop-color="#3bd872"/><stop offset="0.1605" stop-color="#a9ee88"/><stop offset="0.1966" stop-color="#ffff99"/><stop offset="0.1975" stop-color="#fefd98"/><stop offset="0.2786" stop-color="#d7c681"/><stop offset="0.3565" stop-color="#b08f6a"/><stop offset="0.4192" stop-color="#8c5c54"/><stop offset="0.5176" stop-color="#9f7770"/><stop offset="0.7057" stop-color="#bba09b"/><stop offset="0.8961" stop-color="#d8c9c6"/><stop offset="1.0000" stop-color="#e3d9d8"/></linearGradient><linearGradient id="g66" gradientUnits="userSpaceOnUse" x1="0" y1="344.2" x2="0" y2="606.8"><stop offset="0.0000" stop-color="#1ed26c"/><stop offset="0.1101" stop-color="#3bd872"/><stop offset="0.1550" stop-color="#a9ee88"/><stop offset="0.1912" stop-color="#ffff99"/><stop offset="0.1922" stop-color="#fefd98"/><stop offset="0.2730" stop-color="#d7c681"/><stop offset="0.3479" stop-color="#b08f6a"/><stop offset="0.4093" stop-color="#8c5c54"/><stop offset="0.5087" stop-color="#9f7770"/><stop offset="0.6991" stop-color="#bba09b"/><stop offset="0.8895" stop-color="#d8c9c6"/><stop offset="1.0000" stop-color="#e4dad9"/></linearGradient><linearGradient id="g67" gradientUnits="userSpaceOnUse" x1="0" y1="344.2" x2="0" y2="606.8"><stop offset="0.0000" stop-color="#1fd26c"/><stop offset="0.1043" stop-color="#3bd872"/><stop offset="0.1494" stop-color="#a9ee88"/><stop offset="0.1859" stop-color="#ffff99"/><stop offset="0.1869" stop-color="#fefd98"/><stop offset="0.2674" stop-color="#d7c681"/><stop offset="0.3393" stop-color="#b08f6a"/><stop offset="0.3994" stop-color="#8c5c54"/><stop offset="0.4998" stop-color="#9f7770"/><stop offset="0.6925" stop-color="#bba09b"/><stop offset="0.8829" stop-color="#d8c9c6"/><stop offset="1.0000" stop-color="#e5dbda"/></linearGradient><linearGradient id="g68" gradientUnits="userSpaceOnUse" x1="0" y1="344.2" x2="0" y2="606.8"><stop offset="0.0000" stop-color="#20d26c"/><stop offset="0.0984" stop-color="#3bd872"/><stop offset="0.1438" stop-color="#a9ee88"/><stop offset="0.1806" stop-color="#ffff99"/><stop offset="0.1815" stop-color="#fefd98"/><stop offset="0.2618" stop-color="#d7c681"/><stop offset="0.3306" stop-color="#b08f6a"/><stop offset="0.3895" stop-color="#8c5c54"/><stop offset="0.4909" stop-color="#9f7770"/><stop offset="0.6859" stop-color="#bba09b"/><stop offset="0.8763" stop-color="#d8c9c6"/><stop offset="1.0000" stop-color="#e5dcdb"/></linearGradient><linearGradient id="g69" gradientUnits="userSpaceOnUse" x1="0" y1="344.2" x2="0" y2="606.8"><stop offset="0.0000" stop-color="#21d36d"/><stop offset="0.0926" stop-color="#3bd872"/><stop offset="0.1382" stop-color="#a9ee88"/><stop offset="0.1752" stop-color="#ffff99"/><stop offset="0.1762" stop-color="#fefd98"/><stop offset="0.2562" stop-color="#d7c681"/><stop offset="0.3220" stop-color="#b08f6a"/><stop offset="0.3796" stop-color="#8c5c54"/><stop offset="0.4820" stop-color="#9f7770"/><stop offset="0.6793" stop-color="#bba09b"/><stop offset="0.8697" stop-color="#d8c9c6"/><stop offset="1.0000" stop-color="#e6dddc"/></linearGradient><linearGradient id="g70" gradientUnits="userSpaceOnUse" x1="0" y1="344.2" x2="0" y2="606.8"><stop offset="0.0000" stop-color="#22d36d"/><stop offset="0.0872" stop-color="#3bd872"/><stop offset="0.1327" stop-color="#a9ee88"/><stop offset="0.1695" stop-color="#ffff99"/><stop offset="0.1704" stop-color="#fefd98"/><stop offset="0.2507" stop-color="#d7c681"/><stop offset="0.3150" stop-color="#b08f6a"/><stop offset="0.3717" stop-color="#8c5c54"/><stop offset="0.4750" stop-color="#9f7770"/><stop offset="0.6727" stop-color="#bba09b"/><stop offset="0.8625" stop-color="#d8c9c6"/><stop offset="1.0000" stop-color="#e7dedd"/></linearGradient><linearGradient id="g71" gradientUnits="userSpaceOnUse" x1="0" y1="344.2" x2="0" y2="606.8"><stop offset="0.0000" stop-color="#23d36d"/><stop offset="0.0821" stop-color="#3bd872"/><stop offset="0.1272" stop-color="#a9ee88"/><stop offset="0.1636" stop-color="#ffff99"/><stop offset="0.1645" stop-color="#fefd98"/><stop offset="0.2452" stop-color="#d7c681"/><stop offset="0.3089" stop-color="#b08f6a"/><stop offset="0.3650" stop-color="#8c5c54"/><stop offset="0.4688" stop-color="#9f7770"/><stop offset="0.6662" stop-color="#bba09b"/><stop offset="0.8549" stop-color="#d8c9c6"/><stop offset="1.0000" stop-color="#e7dfde"/></linearGradient><linearGradient id="g72" gradientUnits="userSpaceOnUse" x1="0" y1="344.2" x2="0" y2="606.8"><stop offset="0.0000" stop-color="#24d36d"/><stop offset="0.0770" stop-color="#3bd872"/><stop offset="0.1216" stop-color="#a9ee88"/><stop offset="0.1577" stop-color="#ffff99"/><stop offset="0.1586" stop-color="#fefd98"/><stop offset="0.2397" stop-color="#d7c681"/><stop offset="0.3028" stop-color="#b08f6a"/><stop offset="0.3583" stop-color="#8c5c54"/><stop offset="0.4627" stop-color="#9f7770"/><stop offset="0.6597" stop-color="#bba09b"/><stop offset="0.8473" stop-color="#d8c9c6"/><stop offset="1.0000" stop-color="#e8e0df"/></linearGradient><linearGradient id="g73" gradientUnits="userSpaceOnUse" x1="0" y1="344.2" x2="0" y2="606.8"><stop offset="0.0000" stop-color="#25d36d"/><stop offset="0.0719" stop-color="#3bd872"/><stop offset="0.1161" stop-color="#a9ee88"/><stop offset="0.1518" stop-color="#ffff99"/><stop offset="0.1527" stop-color="#fefd98"/><stop offset="0.2342" stop-color="#d7c681"/><stop offset="0.2967" stop-color="#b08f6a"/><stop offset="0.3516" stop-color="#8c5c54"/><stop offset="0.4566" stop-color="#9f7770"/><stop offset="0.6531" stop-color="#bba09b"/><stop offset="0.8398" stop-color="#d8c9c6"/><stop offset="1.0000" stop-color="#e9e1e0"/></linearGradient><linearGradient id="g74" gradientUnits="userSpaceOnUse" x1="0" y1="344.2" x2="0" y2="606.8"><stop offset="0.0000" stop-color="#26d46e"/><stop offset="0.0668" stop-color="#3bd872"/><stop offset="0.1106" stop-color="#a9ee88"/><stop offset="0.1459" stop-color="#ffff99"/><stop offset="0.1468" stop-color="#fefd98"/><stop offset="0.2287" stop-color="#d7c681"/><stop offset="0.2906" stop-color="#b08f6a"/><stop offset="0.3448" stop-color="#8c5c54"/><stop offset="0.4505" stop-color="#9f7770"/><stop offset="0.6466" stop-color="#bba09b"/><stop offset="0.8323" stop-color="#d8c9c6"/><stop offset="1.0000" stop-color="#e9e2e1"/></linearGradient><linearGradient id="g75" gradientUnits="userSpaceOnUse" x1="0" y1="344.2" x2="0" y2="606.8"><stop offset="0.0000" stop-color="#28d46e"/><stop offset="0.0617" stop-color="#3bd872"/><stop offset="0.1051" stop-color="#a9ee88"/><stop offset="0.1400" stop-color="#ffff99"/><stop offset="0.1409" stop-color="#fefd98"/><stop offset="0.2232" stop-color="#d7c681"/><stop offset="0.2844" stop-color="#b08f6a"/><stop offset="0.3381" stop-color="#8c5c54"/><stop offset="0.4444" stop-color="#9f7770"/><stop offset="0.6401" stop-color="#bba09b"/><stop offset="0.8247" stop-color="#d8c9c6"/><stop offset="1.0000" stop-color="#eae3e2"/></linearGradient><linearGradient id="g76" gradientUnits="userSpaceOnUse" x1="0" y1="344.2" x2="0" y2="606.8"><stop offset="0.0000" stop-color="#29d46e"/><stop offset="0.0566" stop-color="#3bd872"/><stop offset="0.0996" stop-color="#a9ee88"/><stop offset="0.1341" stop-color="#ffff99"/><stop offset="0.1350" stop-color="#fefd98"/><stop offset="0.2177" stop-color="#d7c681"/><stop offset="0.2783" stop-color="#b08f6a"/><stop offset="0.3313" stop-color="#8c5c54"/><stop offset="0.4383" stop-color="#9f7770"/><stop offset="0.6335" stop-color="#bba09b"/><stop offset="0.8172" stop-color="#d8c9c6"/><stop offset="1.0000" stop-color="#ebe4e3"/></linearGradient><linearGradient id="g77" gradientUnits="userSpaceOnUse" x1="0" y1="344.2" x2="0" y2="606.8"><stop offset="0.0000" stop-color="#2ad46e"/><stop offset="0.0515" stop-color="#3bd872"/><stop offset="0.0941" stop-color="#a9ee88"/><stop offset="0.1282" stop-color="#ffff99"/><stop offset="0.1291" stop-color="#fefd98"/><stop offset="0.2121" stop-color="#d7c681"/><stop offset="0.2722" stop-color="#b08f6a"/><stop offset="0.3246" stop-color="#8c5c54"/><stop offset="0.4321" stop-color="#9f7770"/><stop offset="0.6270" stop-color="#bba09b"/><stop offset="0.8096" stop-color="#d8c9c6"/><stop offset="1.0000" stop-color="#ebe5e4"/></linearGradient><linearGradient id="g78" gradientUnits="userSpaceOnUse" x1="0" y1="344.2" x2="0" y2="606.8"><stop offset="0.0000" stop-color="#2bd56f"/><stop offset="0.0464" stop-color="#3bd872"/><stop offset="0.0886" stop-color="#a9ee88"/><stop offset="0.1223" stop-color="#ffff99"/><stop offset="0.1232" stop-color="#fefd98"/><stop offset="0.2066" stop-color="#d7c681"/><stop offset="0.2661" stop-color="#b08f6a"/><stop offset="0.3179" stop-color="#8c5c54"/><stop offset="0.4260" stop-color="#9f7770"/><stop offset="0.6205" stop-color="#bba09b"/><stop offset="0.8021" stop-color="#d8c9c6"/><stop offset="0.9972" stop-color="#ece5e4"/><stop offset="1.0000" stop-color="#ece5e4"/></linearGradient><linearGradient id="g79" gradientUnits="userSpaceOnUse" x1="0" y1="344.2" x2="0" y2="606.8"><stop offset="0.0000" stop-color="#2dd56f"/><stop offset="0.0413" stop-color="#3bd872"/><stop offset="0.0831" stop-color="#a9ee88"/><stop offset="0.1164" stop-color="#ffff99"/><stop offset="0.1172" stop-color="#fefd98"/><stop offset="0.2011" stop-color="#d7c681"/><stop offset="0.2599" stop-color="#b08f6a"/><stop offset="0.3112" stop-color="#8c5c54"/><stop offset="0.4199" stop-color="#9f7770"/><stop offset="0.6140" stop-color="#bba09b"/><stop offset="0.7945" stop-color="#d8c9c6"/><stop offset="0.9911" stop-color="#ece5e4"/><stop offset="1.0000" stop-color="#ece5e4"/></linearGradient><linearGradient id="g80" gradientUnits="userSpaceOnUse" x1="0" y1="344.2" x2="0" y2="606.8"><stop offset="0.0000" stop-color="#2ed56f"/><stop offset="0.0362" stop-color="#3bd872"/><stop offset="0.0776" stop-color="#a9ee88"/><stop offset="0.1105" stop-color="#ffff99"/><stop offset="0.1113" stop-color="#fefd98"/><stop offset="0.1956" stop-color="#d7c681"/><stop offset="0.2538" stop-color="#b08f6a"/><stop offset="0.3044" stop-color="#8c5c54"/><stop offset="0.4138" stop-color="#9f7770"/><stop offset="0.6074" stop-color="#bba09b"/><stop offset="0.7870" stop-color="#d8c9c6"/><stop offset="0.9850" stop-color="#ece5e4"/><stop offset="1.0000" stop-color="#ece5e4"/></linearGradient><linearGradient id="g81" gradientUnits="userSpaceOnUse" x1="0" y1="344.2" x2="0" y2="606.8"><stop offset="0.0000" stop-color="#30d670"/><stop offset="0.0312" stop-color="#3bd872"/><stop offset="0.0720" stop-color="#a9ee88"/><stop offset="0.1046" stop-color="#ffff99"/><stop offset="0.1054" stop-color="#fefd98"/><stop offset="0.1901" stop-color="#d7c681"/><stop offset="0.2477" stop-color="#b08f6a"/><stop offset="0.2977" stop-color="#8c5c54"/><stop offset="0.4077" stop-color="#9f7770"/><stop offset="0.6009" stop-color="#bba09b"/><stop offset="0.7794" stop-color="#d8c9c6"/><stop offset="0.9789" stop-color="#ece5e4"/><stop offset="1.0000" stop-color="#ece5e4"/></linearGradient><linearGradient id="g82" gradientUnits="userSpaceOnUse" x1="0" y1="344.2" x2="0" y2="606.8"><stop offset="0.0000" stop-color="#31d670"/><stop offset="0.0260" stop-color="#3bd872"/><stop offset="0.0666" stop-color="#a9ee88"/><stop offset="0.0987" stop-color="#ffff99"/><stop offset="0.0995" stop-color="#fefd98"/><stop offset="0.1846" stop-color="#d7c681"/><stop offset="0.2416" stop-color="#b08f6a"/><stop offset="0.2910" stop-color="#8c5c54"/><stop offset="0.4015" stop-color="#9f7770"/><stop offset="0.5944" stop-color="#bba09b"/><stop offset="0.7719" stop-color="#d8c9c6"/><stop offset="0.9727" stop-color="#ece5e4"/><stop offset="1.0000" stop-color="#ece5e4"/></linearGradient><linearGradient id="g83" gradientUnits="userSpaceOnUse" x1="0" y1="344.2" x2="0" y2="606.8"><stop offset="0.0000" stop-color="#33d670"/><stop offset="0.0209" stop-color="#3bd872"/><stop offset="0.0610" stop-color="#a9ee88"/><stop offset="0.0927" stop-color="#ffff99"/><stop offset="0.0936" stop-color="#fefd98"/><stop offset="0.1791" stop-color="#d7c681"/><stop offset="0.2355" stop-color="#b08f6a"/><stop offset="0.2842" stop-color="#8c5c54"/><stop offset="0.3954" stop-color="#9f7770"/><stop offset="0.5879" stop-color="#bba09b"/><stop offset="0.7643" stop-color="#d8c9c6"/><stop offset="0.9666" stop-color="#ece5e4"/><stop offset="1.0000" stop-color="#ece5e4"/></linearGradient><linearGradient id="g84" gradientUnits="userSpaceOnUse" x1="0" y1="344.2" x2="0" y2="606.8"><stop offset="0.0000" stop-color="#35d771"/><stop offset="0.0158" stop-color="#3bd872"/><stop offset="0.0556" stop-color="#a9ee88"/><stop offset="0.0868" stop-color="#ffff99"/><stop offset="0.0876" stop-color="#fefd98"/><stop offset="0.1736" stop-color="#d7c681"/><stop offset="0.2294" stop-color="#b08f6a"/><stop offset="0.2775" stop-color="#8c5c54"/><stop offset="0.3893" stop-color="#9f7770"/><stop offset="0.5813" stop-color="#bba09b"/><stop offset="0.7568" stop-color="#d8c9c6"/><stop offset="0.9605" stop-color="#ece5e4"/><stop offset="1.0000" stop-color="#ece5e4"/></linearGradient><linearGradient id="g85" gradientUnits="userSpaceOnUse" x1="0" y1="344.2" x2="0" y2="606.8"><stop offset="0.0000" stop-color="#36d771"/><stop offset="0.0107" stop-color="#3bd872"/><stop offset="0.0500" stop-color="#a9ee88"/><stop offset="0.0809" stop-color="#ffff99"/><stop offset="0.0817" stop-color="#fefd98"/><stop offset="0.1681" stop-color="#d7c681"/><stop offset="0.2232" stop-color="#b08f6a"/><stop offset="0.2708" stop-color="#8c5c54"/><stop offset="0.3832" stop-color="#9f7770"/><stop offset="0.5748" stop-color="#bba09b"/><stop offset="0.7492" stop-color="#d8c9c6"/><stop offset="0.9544" stop-color="#ece5e4"/><stop offset="1.0000" stop-color="#ece5e4"/></linearGradient><linearGradient id="g86" gradientUnits="userSpaceOnUse" x1="0" y1="344.2" x2="0" y2="606.8"><stop offset="0.0000" stop-color="#38d771"/><stop offset="0.0056" stop-color="#3bd872"/><stop offset="0.0445" stop-color="#a9ee88"/><stop offset="0.0750" stop-color="#ffff99"/><stop offset="0.0758" stop-color="#fefd98"/><stop offset="0.1626" stop-color="#d7c681"/><stop offset="0.2171" stop-color="#b08f6a"/><stop offset="0.2641" stop-color="#8c5c54"/><stop offset="0.3770" stop-color="#9f7770"/><stop offset="0.5683" stop-color="#bba09b"/><stop offset="0.7417" stop-color="#d8c9c6"/><stop offset="0.9482" stop-color="#ece5e4"/><stop offset="1.0000" stop-color="#ece5e4"/></linearGradient><linearGradient id="g87" gradientUnits="userSpaceOnUse" x1="0" y1="344.2" x2="0" y2="606.8"><stop offset="0.0000" stop-color="#3ad872"/><stop offset="0.0005" stop-color="#3bd872"/><stop offset="0.0390" stop-color="#a9ee88"/><stop offset="0.0691" stop-color="#ffff99"/><stop offset="0.0699" stop-color="#fefd98"/><stop offset="0.1571" stop-color="#d7c681"/><stop offset="0.2110" stop-color="#b08f6a"/><stop offset="0.2573" stop-color="#8c5c54"/><stop offset="0.3709" stop-color="#9f7770"/><stop offset="0.5617" stop-color="#bba09b"/><stop offset="0.7341" stop-color="#d8c9c6"/><stop offset="0.9422" stop-color="#ece5e4"/><stop offset="1.0000" stop-color="#ece5e4"/></linearGradient><linearGradient id="g88" gradientUnits="userSpaceOnUse" x1="0" y1="344.2" x2="0" y2="606.8"><stop offset="0.0000" stop-color="#44da74"/><stop offset="0.0349" stop-color="#a9ee88"/><stop offset="0.0647" stop-color="#ffff99"/><stop offset="0.0655" stop-color="#fefd98"/><stop offset="0.1529" stop-color="#d7c681"/><stop offset="0.2064" stop-color="#b08f6a"/><stop offset="0.2522" stop-color="#8c5c54"/><stop offset="0.3663" stop-color="#9f7770"/><stop offset="0.5569" stop-color="#bba09b"/><stop offset="0.7285" stop-color="#d8c9c6"/><stop offset="0.9375" stop-color="#ece5e4"/><stop offset="1.0000" stop-color="#ece5e4"/></linearGradient><linearGradient id="g89" gradientUnits="userSpaceOnUse" x1="0" y1="344.2" x2="0" y2="606.8"><stop offset="0.0000" stop-color="#333399"/><stop offset="0.0291" stop-color="#333399"/><stop offset="0.1038" stop-color="#2a52c8"/><stop offset="0.1640" stop-color="#0a92f6"/><stop offset="0.2543" stop-color="#07a4c9"/><stop offset="0.3146" stop-color="#00cc66"/><stop offset="0.3419" stop-color="#0ecf69"/><stop offset="0.4303" stop-color="#3bd872"/><stop offset="0.4799" stop-color="#93e983"/><stop offset="0.5400" stop-color="#ffff99"/><stop offset="0.5412" stop-color="#fefd98"/><stop offset="0.6334" stop-color="#d7c681"/><stop offset="0.7139" stop-color="#b08f6a"/><stop offset="0.7640" stop-color="#8c5c54"/><stop offset="0.8965" stop-color="#9f7770"/><stop offset="1.0000" stop-color="#a8847e"/></linearGradient><linearGradient id="g90" gradientUnits="userSpaceOnUse" x1="0" y1="344.2" x2="0" y2="606.8"><stop offset="0.0000" stop-color="#333399"/><stop offset="0.0281" stop-color="#333399"/><stop offset="0.1008" stop-color="#2a52c8"/><stop offset="0.1598" stop-color="#0a92f6"/><stop offset="0.2484" stop-color="#07a4c9"/><stop offset="0.3079" stop-color="#00cc66"/><stop offset="0.3360" stop-color="#0ecf69"/><stop offset="0.4256" stop-color="#3bd872"/><stop offset="0.4756" stop-color="#93e983"/><stop offset="0.5362" stop-color="#ffff99"/><stop offset="0.5374" stop-color="#fefd98"/><stop offset="0.6307" stop-color="#d7c681"/><stop offset="0.7121" stop-color="#b08f6a"/><stop offset="0.7630" stop-color="#8c5c54"/><stop offset="0.8944" stop-color="#9f7770"/><stop offset="1.0000" stop-color="#a8847e"/></linearGradient><linearGradient id="g91" gradientUnits="userSpaceOnUse" x1="0" y1="344.2" x2="0" y2="606.8"><stop offset="0.0000" stop-color="#333399"/><stop offset="0.0272" stop-color="#333399"/><stop offset="0.0978" stop-color="#2a52c8"/><stop offset="0.1556" stop-color="#0a92f6"/><stop offset="0.2426" stop-color="#07a4c9"/><stop offset="0.3011" stop-color="#00cc66"/><stop offset="0.3302" stop-color="#0ecf69"/><stop offset="0.4209" stop-color="#3bd872"/><stop offset="0.4712" stop-color="#93e983"/><stop offset="0.5324" stop-color="#ffff99"/><stop offset="0.5336" stop-color="#fefd98"/><stop offset="0.6280" stop-color="#d7c681"/><stop offset="0.7103" stop-color="#b08f6a"/><stop offset="0.7620" stop-color="#8c5c54"/><stop offset="0.8923" stop-color="#9f7770"/><stop offset="1.0000" stop-color="#a8857f"/></linearGradient><linearGradient id="g92" gradientUnits="userSpaceOnUse" x1="0" y1="344.2" x2="0" y2="606.8"><stop offset="0.0000" stop-color="#333399"/><stop offset="0.0262" stop-color="#333399"/><stop offset="0.0947" stop-color="#2a52c8"/><stop offset="0.1514" stop-color="#0a92f6"/><stop offset="0.2367" stop-color="#07a4c9"/><stop offset="0.2944" stop-color="#00cc66"/><stop offset="0.3243" stop-color="#0ecf69"/><stop offset="0.4163" stop-color="#3bd872"/><stop offset="0.4668" stop-color="#93e983"/><stop offset="0.5286" stop-color="#ffff99"/><stop offset="0.5298" stop-color="#fefd98"/><stop offset="0.6254" stop-color="#d7c681"/><stop offset="0.7084" stop-color="#b08f6a"/><stop offset="0.7610" stop-color="#8c5c54"/><stop offset="0.8902" stop-color="#9f7770"/><stop offset="1.0000" stop-color="#a9857f"/></linearGradient><linearGradient id="g93" gradientUnits="userSpaceOnUse" x1="0" y1="344.2" x2="0" y2="606.8"><stop offset="0.0000" stop-color="#333399"/><stop offset="0.0252" stop-color="#333399"/><stop offset="0.0917" stop-color="#2a52c8"/><stop offset="0.1473" stop-color="#0a92f6"/><stop offset="0.2308" stop-color="#07a4c9"/><stop offset="0.2877" stop-color="#00cc66"/><stop offset="0.3184" stop-color="#0ecf69"/><stop offset="0.4117" stop-color="#3bd872"/><stop offset="0.4625" stop-color="#93e983"/><stop offset="0.5248" stop-color="#ffff99"/><stop offset="0.5260" stop-color="#fefd98"/><stop offset="0.6227" stop-color="#d7c681"/><stop offset="0.7066" stop-color="#b08f6a"/><stop offset="0.7601" stop-color="#8c5c54"/><stop offset="0.8881" stop-color="#9f7770"/><stop offset="1.0000" stop-color="#a9857f"/></linearGradient><linearGradient id="g94" gradientUnits="userSpaceOnUse" x1="0" y1="344.2" x2="0" y2="606.8"><stop offset="0.0000" stop-color="#333399"/><stop offset="0.0243" stop-color="#333399"/><stop offset="0.0886" stop-color="#2a52c8"/><stop offset="0.1431" stop-color="#0a92f6"/><stop offset="0.2250" stop-color="#07a4c9"/><stop offset="0.2809" stop-color="#00cc66"/><stop offset="0.3126" stop-color="#0ecf69"/><stop offset="0.4070" stop-color="#3ad872"/><stop offset="0.4581" stop-color="#93e983"/><stop offset="0.5209" stop-color="#ffff99"/><stop offset="0.5222" stop-color="#fefd98"/><stop offset="0.6200" stop-color="#d7c681"/><stop offset="0.7048" stop-color="#b08f6a"/><stop offset="0.7591" stop-color="#8c5c54"/><stop offset="0.8859" stop-color="#9f7770"/><stop offset="1.0000" stop-color="#a98680"/></linearGradient><linearGradient id="g95" gradientUnits="userSpaceOnUse" x1="0" y1="344.2" x2="0" y2="606.8"><stop offset="0.0000" stop-color="#333399"/><stop offset="0.0233" stop-color="#333399"/><stop offset="0.0856" stop-color="#2a52c8"/><stop offset="0.1389" stop-color="#0a92f6"/><stop offset="0.2191" stop-color="#07a4c9"/><stop offset="0.2742" stop-color="#00cc66"/><stop offset="0.3067" stop-color="#0ecf69"/><stop offset="0.4023" stop-color="#3bd872"/><stop offset="0.4537" stop-color="#93e983"/><stop offset="0.5171" stop-color="#ffff99"/><stop offset="0.5184" stop-color="#fefd98"/><stop offset="0.6173" stop-color="#d7c681"/><stop offset="0.7029" stop-color="#b08f6a"/><stop offset="0.7581" stop-color="#8c5c54"/><stop offset="0.8839" stop-color="#9f7770"/><stop offset="1.0000" stop-color="#a98680"/></linearGradient><linearGradient id="g96" gradientUnits="userSpaceOnUse" x1="0" y1="344.2" x2="0" y2="606.8"><stop offset="0.0000" stop-color="#333399"/><stop offset="0.0224" stop-color="#333399"/><stop offset="0.0825" stop-color="#2a52c8"/><stop offset="0.1347" stop-color="#0a92f6"/><stop offset="0.2133" stop-color="#07a4c9"/><stop offset="0.2675" stop-color="#00cc66"/><stop offset="0.3009" stop-color="#0ecf69"/><stop offset="0.3977" stop-color="#3bd872"/><stop offset="0.4494" stop-color="#93e983"/><stop offset="0.5133" stop-color="#ffff99"/><stop offset="0.5146" stop-color="#fefd98"/><stop offset="0.6146" stop-color="#d7c681"/><stop offset="0.7011" stop-color="#b08f6a"/><stop offset="0.7571" stop-color="#8c5c54"/><stop offset="0.8817" stop-color="#9f7770"/><stop offset="1.0000" stop-color="#aa8781"/></linearGradient><linearGradient id="g97" gradientUnits="userSpaceOnUse" x1="0" y1="344.2" x2="0" y2="606.8"><stop offset="0.0000" stop-color="#333399"/><stop offset="0.0214" stop-color="#333399"/><stop offset="0.0795" stop-color="#2a52c8"/><stop offset="0.1305" stop-color="#0a92f6"/><stop offset="0.2074" stop-color="#07a4c9"/><stop offset="0.2607" stop-color="#00cc66"/><stop offset="0.2950" stop-color="#0ecf69"/><stop offset="0.3930" stop-color="#3bd872"/><stop offset="0.4450" stop-color="#93e983"/><stop offset="0.5095" stop-color="#ffff99"/><stop offset="0.5108" stop-color="#fefd98"/><stop offset="0.6120" stop-color="#d7c681"/><stop offset="0.6993" stop-color="#b08f6a"/><stop offset="0.7561" stop-color="#8c5c54"/><stop offset="0.8796" stop-color="#9f7770"/><stop offset="1.0000" stop-color="#aa8781"/></linearGradient><linearGradient id="g98" gradientUnits="userSpaceOnUse" x1="0" y1="344.2" x2="0" y2="606.8"><stop offset="0.0000" stop-color="#333399"/><stop offset="0.0205" stop-color="#333399"/><stop offset="0.0764" stop-color="#2a52c8"/><stop offset="0.1263" stop-color="#0a92f6"/><stop offset="0.2016" stop-color="#07a4c9"/><stop offset="0.2540" stop-color="#00cc66"/><stop offset="0.2891" stop-color="#0ecf69"/><stop offset="0.3884" stop-color="#3bd872"/><stop offset="0.4406" stop-color="#93e983"/><stop offset="0.5056" stop-color="#ffff99"/><stop offset="0.5070" stop-color="#fefd98"/><stop offset="0.6093" stop-color="#d7c681"/><stop offset="0.6974" stop-color="#b08f6a"/><stop offset="0.7551" stop-color="#8c5c54"/><stop offset="0.8775" stop-color="#9f7770"/><stop offset="1.0000" stop-color="#aa8882"/></linearGradient><linearGradient id="g99" gradientUnits="userSpaceOnUse" x1="0" y1="344.2" x2="0" y2="606.8"><stop offset="0.0000" stop-color="#333399"/><stop offset="0.0195" stop-color="#333399"/><stop offset="0.0734" stop-color="#2a52c8"/><stop offset="0.1221" stop-color="#0a92f6"/><stop offset="0.1957" stop-color="#07a4c9"/><stop offset="0.2473" stop-color="#00cc66"/><stop offset="0.2833" stop-color="#0ecf69"/><stop offset="0.3837" stop-color="#3bd872"/><stop offset="0.4362" stop-color="#93e983"/><stop offset="0.5018" stop-color="#ffff99"/><stop offset="0.5032" stop-color="#fefd98"/><stop offset="0.6066" stop-color="#d7c681"/><stop offset="0.6956" stop-color="#b08f6a"/><stop offset="0.7541" stop-color="#8c5c54"/><stop offset="0.8754" stop-color="#9f7770"/><stop offset="1.0000" stop-color="#ab8882"/></linearGradient><linearGradient id="g100" gradientUnits="userSpaceOnUse" x1="0" y1="344.2" x2="0" y2="606.8"><stop offset="0.0000" stop-color="#333399"/><stop offset="0.0186" stop-color="#333399"/><stop offset="0.0703" stop-color="#2a52c8"/><stop offset="0.1179" stop-color="#0a92f6"/><stop offset="0.1898" stop-color="#07a4c9"/><stop offset="0.2405" stop-color="#00cc66"/><stop offset="0.2774" stop-color="#0ecf69"/><stop offset="0.3791" stop-color="#3bd872"/><stop offset="0.4318" stop-color="#93e983"/><stop offset="0.4980" stop-color="#ffff99"/><stop offset="0.4994" stop-color="#fefd98"/><stop offset="0.6039" stop-color="#d7c681"/><stop offset="0.6938" stop-color="#b08f6a"/><stop offset="0.7532" stop-color="#8c5c54"/><stop offset="0.8733" stop-color="#9f7770"/><stop offset="1.0000" stop-color="#ab8983"/></linearGradient><linearGradient id="g101" gradientUnits="userSpaceOnUse" x1="0" y1="344.2" x2="0" y2="606.8"><stop offset="0.0000" stop-color="#333399"/><stop offset="0.0176" stop-color="#333399"/><stop offset="0.0673" stop-color="#2a52c8"/><stop offset="0.1137" stop-color="#0a92f6"/><stop offset="0.1840" stop-color="#07a4c9"/><stop offset="0.2338" stop-color="#00cc66"/><stop offset="0.2716" stop-color="#0ecf69"/><stop offset="0.3744" stop-color="#3bd872"/><stop offset="0.4275" stop-color="#93e983"/><stop offset="0.4942" stop-color="#ffff99"/><stop offset="0.4955" stop-color="#fefd98"/><stop offset="0.6013" stop-color="#d7c681"/><stop offset="0.6919" stop-color="#b08f6a"/><stop offset="0.7522" stop-color="#8c5c54"/><stop offset="0.8711" stop-color="#9f7770"/><stop offset="1.0000" stop-color="#ab8983"/></linearGradient><linearGradient id="g102" gradientUnits="userSpaceOnUse" x1="0" y1="344.2" x2="0" y2="606.8"><stop offset="0.0000" stop-color="#333399"/><stop offset="0.0167" stop-color="#333399"/><stop offset="0.0642" stop-color="#2a52c8"/><stop offset="0.1096" stop-color="#0a92f6"/><stop offset="0.1770" stop-color="#07a4c9"/><stop offset="0.2262" stop-color="#00cc66"/><stop offset="0.2642" stop-color="#0ecf69"/><stop offset="0.3698" stop-color="#3bd872"/><stop offset="0.4231" stop-color="#93e983"/><stop offset="0.4904" stop-color="#ffff99"/><stop offset="0.4917" stop-color="#fefd98"/><stop offset="0.5986" stop-color="#d7c681"/><stop offset="0.6901" stop-color="#b08f6a"/><stop offset="0.7512" stop-color="#8c5c54"/><stop offset="0.8690" stop-color="#9f7770"/><stop offset="1.0000" stop-color="#ac8a84"/></linearGradient><linearGradient id="g103" gradientUnits="userSpaceOnUse" x1="0" y1="344.2" x2="0" y2="606.8"><stop offset="0.0000" stop-color="#333399"/><stop offset="0.0157" stop-color="#333399"/><stop offset="0.0612" stop-color="#2a52c8"/><stop offset="0.1054" stop-color="#0a92f6"/><stop offset="0.1693" stop-color="#07a4c9"/><stop offset="0.2182" stop-color="#00cc66"/><stop offset="0.2560" stop-color="#0ecf69"/><stop offset="0.3651" stop-color="#3bd872"/><stop offset="0.4187" stop-color="#93e983"/><stop offset="0.4866" stop-color="#ffff99"/><stop offset="0.4879" stop-color="#fefd98"/><stop offset="0.5959" stop-color="#d7c681"/><stop offset="0.6883" stop-color="#b08f6a"/><stop offset="0.7502" stop-color="#8c5c54"/><stop offset="0.8669" stop-color="#9f7770"/><stop offset="1.0000" stop-color="#ac8a84"/></linearGradient><linearGradient id="g104" gradientUnits="userSpaceOnUse" x1="0" y1="344.2" x2="0" y2="606.8"><stop offset="0.0000" stop-color="#333399"/><stop offset="0.0148" stop-color="#333399"/><stop offset="0.0581" stop-color="#2a52c8"/><stop offset="0.1012" stop-color="#0a92f6"/><stop offset="0.1617" stop-color="#07a4c9"/><stop offset="0.2102" stop-color="#00cc66"/><stop offset="0.2479" stop-color="#0ecf69"/><stop offset="0.3604" stop-color="#3bd872"/><stop offset="0.4144" stop-color="#93e983"/><stop offset="0.4827" stop-color="#ffff99"/><stop offset="0.4841" stop-color="#fefd98"/><stop offset="0.5932" stop-color="#d7c681"/><stop offset="0.6864" stop-color="#b08f6a"/><stop offset="0.7492" stop-color="#8c5c54"/><stop offset="0.8648" stop-color="#9f7770"/><stop offset="1.0000" stop-color="#ac8b85"/></linearGradient><linearGradient id="g105" gradientUnits="userSpaceOnUse" x1="0" y1="344.2" x2="0" y2="606.8"><stop offset="0.0000" stop-color="#333399"/><stop offset="0.0138" stop-color="#333399"/><stop offset="0.0551" stop-color="#2a52c8"/><stop offset="0.0970" stop-color="#0a92f6"/><stop offset="0.1541" stop-color="#07a4c9"/><stop offset="0.2022" stop-color="#00cc66"/><stop offset="0.2397" stop-color="#0ecf69"/><stop offset="0.3558" stop-color="#3bd872"/><stop offset="0.4100" stop-color="#93e983"/><stop offset="0.4789" stop-color="#ffff99"/><stop offset="0.4803" stop-color="#fefd98"/><stop offset="0.5905" stop-color="#d7c681"/><stop offset="0.6846" stop-color="#b08f6a"/><stop offset="0.7482" stop-color="#8c5c54"/><stop offset="0.8627" stop-color="#9f7770"/><stop offset="1.0000" stop-color="#ad8b85"/></linearGradient><linearGradient id="g106" gradientUnits="userSpaceOnUse" x1="0" y1="344.2" x2="0" y2="606.8"><stop offset="0.0000" stop-color="#333399"/><stop offset="0.0129" stop-color="#333399"/><stop offset="0.0521" stop-color="#2a52c8"/><stop offset="0.0928" stop-color="#0a92f6"/><stop offset="0.1465" stop-color="#07a4c9"/><stop offset="0.1942" stop-color="#00cc66"/><stop offset="0.2315" stop-color="#0ecf69"/><stop offset="0.3511" stop-color="#3bd872"/><stop offset="0.4056" stop-color="#93e983"/><stop offset="0.4751" stop-color="#ffff99"/><stop offset="0.4765" stop-color="#fefd98"/><stop offset="0.5879" stop-color="#d7c681"/><stop offset="0.6827" stop-color="#b08f6a"/><stop offset="0.7472" stop-color="#8c5c54"/><stop offset="0.8606" stop-color="#9f7770"/><stop offset="1.0000" stop-color="#ad8c86"/></linearGradient><linearGradient id="g107" gradientUnits="userSpaceOnUse" x1="0" y1="344.2" x2="0" y2="606.8"><stop offset="0.0000" stop-color="#333399"/><stop offset="0.0119" stop-color="#333399"/><stop offset="0.0490" stop-color="#2a52c8"/><stop offset="0.0886" stop-color="#0a92f6"/><stop offset="0.1389" stop-color="#07a4c9"/><stop offset="0.1862" stop-color="#00cc66"/><stop offset="0.2234" stop-color="#0ecf69"/><stop offset="0.3465" stop-color="#3bd872"/><stop offset="0.4013" stop-color="#93e983"/><stop offset="0.4713" stop-color="#ffff99"/><stop offset="0.4727" stop-color="#fefd98"/><stop offset="0.5851" stop-color="#d7c681"/><stop offset="0.6809" stop-color="#b08f6a"/><stop offset="0.7462" stop-color="#8c5c54"/><stop offset="0.8585" stop-color="#9f7770"/><stop offset="1.0000" stop-color="#ae8c87"/></linearGradient><linearGradient id="g108" gradientUnits="userSpaceOnUse" x1="0" y1="344.2" x2="0" y2="606.8"><stop offset="0.0000" stop-color="#333399"/><stop offset="0.0110" stop-color="#333399"/><stop offset="0.0460" stop-color="#2a52c8"/><stop offset="0.0844" stop-color="#0a92f6"/><stop offset="0.1313" stop-color="#07a4c9"/><stop offset="0.1782" stop-color="#00cc66"/><stop offset="0.2152" stop-color="#0ecf69"/><stop offset="0.3418" stop-color="#3bd872"/><stop offset="0.3969" stop-color="#93e983"/><stop offset="0.4675" stop-color="#ffff99"/><stop offset="0.4689" stop-color="#fefd98"/><stop offset="0.5825" stop-color="#d7c681"/><stop offset="0.6791" stop-color="#b08f6a"/><stop offset="0.7452" stop-color="#8c5c54"/><stop offset="0.8563" stop-color="#9f7770"/><stop offset="1.0000" stop-color="#ae8d87"/></linearGradient><linearGradient id="g109" gradientUnits="userSpaceOnUse" x1="0" y1="344.2" x2="0" y2="606.8"><stop offset="0.0000" stop-color="#333399"/><stop offset="0.0088" stop-color="#333399"/><stop offset="0.0428" stop-color="#2a52c8"/><stop offset="0.0804" stop-color="#0a92f6"/><stop offset="0.1236" stop-color="#07a4c9"/><stop offset="0.1702" stop-color="#00cc66"/><stop offset="0.2070" stop-color="#0ecf69"/><stop offset="0.3372" stop-color="#3bd872"/><stop offset="0.3925" stop-color="#93e983"/><stop offset="0.4636" stop-color="#ffff99"/><stop offset="0.4651" stop-color="#fefd98"/><stop offset="0.5798" stop-color="#d7c681"/><stop offset="0.6773" stop-color="#b08f6a"/><stop offset="0.7442" stop-color="#8c5c54"/><stop offset="0.8542" stop-color="#9f7770"/><stop offset="1.0000" stop-color="#ae8d88"/></linearGradient><linearGradient id="g110" gradientUnits="userSpaceOnUse" x1="0" y1="344.2" x2="0" y2="606.8"><stop offset="0.0000" stop-color="#333399"/><stop offset="0.0061" stop-color="#333399"/><stop offset="0.0397" stop-color="#2a52c8"/><stop offset="0.0765" stop-color="#0a92f6"/><stop offset="0.1160" stop-color="#07a4c9"/><stop offset="0.1622" stop-color="#00cc66"/><stop offset="0.1989" stop-color="#0ecf69"/><stop offset="0.3325" stop-color="#3bd872"/><stop offset="0.3881" stop-color="#93e983"/><stop offset="0.4598" stop-color="#ffff99"/><stop offset="0.4613" stop-color="#fefd98"/><stop offset="0.5771" stop-color="#d7c681"/><stop offset="0.6754" stop-color="#b08f6a"/><stop offset="0.7433" stop-color="#8c5c54"/><stop offset="0.8521" stop-color="#9f7770"/><stop offset="1.0000" stop-color="#af8e88"/></linearGradient><linearGradient id="g111" gradientUnits="userSpaceOnUse" x1="0" y1="344.2" x2="0" y2="606.8"><stop offset="0.0000" stop-color="#333399"/><stop offset="0.0033" stop-color="#333399"/><stop offset="0.0365" stop-color="#2a52c8"/><stop offset="0.0725" stop-color="#0a92f6"/><stop offset="0.1084" stop-color="#07a4c9"/><stop offset="0.1542" stop-color="#00cc66"/><stop offset="0.1907" stop-color="#0ecf69"/><stop offset="0.3279" stop-color="#3bd872"/><stop offset="0.3838" stop-color="#93e983"/><stop offset="0.4560" stop-color="#ffff99"/><stop offset="0.4575" stop-color="#fefd98"/><stop offset="0.5744" stop-color="#d7c681"/><stop offset="0.6736" stop-color="#b08f6a"/><stop offset="0.7423" stop-color="#8c5c54"/><stop offset="0.8500" stop-color="#9f7770"/><stop offset="1.0000" stop-color="#af8f89"/></linearGradient><linearGradient id="g112" gradientUnits="userSpaceOnUse" x1="0" y1="344.2" x2="0" y2="606.8"><stop offset="0.0000" stop-color="#333399"/><stop offset="0.0005" stop-color="#333399"/><stop offset="0.0334" stop-color="#2a52c8"/><stop offset="0.0686" stop-color="#0a92f6"/><stop offset="0.1013" stop-color="#07a4c9"/><stop offset="0.1462" stop-color="#00cc66"/><stop offset="0.1826" stop-color="#0ecf69"/><stop offset="0.3232" stop-color="#3bd872"/><stop offset="0.3794" stop-color="#93e983"/><stop offset="0.4522" stop-color="#ffff99"/><stop offset="0.4537" stop-color="#fefd98"/><stop offset="0.5718" stop-color="#d7c681"/><stop offset="0.6717" stop-color="#b08f6a"/><stop offset="0.7413" stop-color="#8c5c54"/><stop offset="0.8479" stop-color="#9f7770"/><stop offset="1.0000" stop-color="#b08f8a"/></linearGradient><linearGradient id="g113" gradientUnits="userSpaceOnUse" x1="0" y1="344.2" x2="0" y2="606.8"><stop offset="0.0000" stop-color="#32359c"/><stop offset="0.0302" stop-color="#2a52c8"/><stop offset="0.0646" stop-color="#0a92f6"/><stop offset="0.0944" stop-color="#07a4c9"/><stop offset="0.1382" stop-color="#00cc66"/><stop offset="0.1744" stop-color="#0ecf69"/><stop offset="0.3185" stop-color="#3bd872"/><stop offset="0.3750" stop-color="#93e983"/><stop offset="0.4484" stop-color="#ffff99"/><stop offset="0.4498" stop-color="#fefd98"/><stop offset="0.5691" stop-color="#d7c681"/><stop offset="0.6699" stop-color="#b08f6a"/><stop offset="0.7403" stop-color="#8c5c54"/><stop offset="0.8458" stop-color="#9f7770"/><stop offset="1.0000" stop-color="#b0908a"/></linearGradient><linearGradient id="g114" gradientUnits="userSpaceOnUse" x1="0" y1="344.2" x2="0" y2="606.8"><stop offset="0.0000" stop-color="#3238a0"/><stop offset="0.0271" stop-color="#2a52c8"/><stop offset="0.0607" stop-color="#0a92f6"/><stop offset="0.0876" stop-color="#07a4c9"/><stop offset="0.1302" stop-color="#00cc66"/><stop offset="0.1663" stop-color="#0ecf69"/><stop offset="0.3139" stop-color="#3bd872"/><stop offset="0.3706" stop-color="#93e983"/><stop offset="0.4446" stop-color="#ffff99"/><stop offset="0.4460" stop-color="#fefd98"/><stop offset="0.5664" stop-color="#d7c681"/><stop offset="0.6681" stop-color="#b08f6a"/><stop offset="0.7393" stop-color="#8c5c54"/><stop offset="0.8436" stop-color="#9f7770"/><stop offset="1.0000" stop-color="#b1908b"/></linearGradient><linearGradient id="g115" gradientUnits="userSpaceOnUse" x1="0" y1="344.2" x2="0" y2="606.8"><stop offset="0.0000" stop-color="#313ba4"/><stop offset="0.0239" stop-color="#2a52c8"/><stop offset="0.0567" stop-color="#0a92f6"/><stop offset="0.0807" stop-color="#07a4c9"/><stop offset="0.1222" stop-color="#00cc66"/><stop offset="0.1581" stop-color="#0ecf69"/><stop offset="0.3093" stop-color="#3bd872"/><stop offset="0.3663" stop-color="#93e983"/><stop offset="0.4407" stop-color="#ffff99"/><stop offset="0.4422" stop-color="#fefd98"/><stop offset="0.5637" stop-color="#d7c681"/><stop offset="0.6663" stop-color="#b08f6a"/><stop offset="0.7383" stop-color="#8c5c54"/><stop offset="0.8415" stop-color="#9f7770"/><stop offset="1.0000" stop-color="#b1918c"/></linearGradient><linearGradient id="g116" gradientUnits="userSpaceOnUse" x1="0" y1="344.2" x2="0" y2="606.8"><stop offset="0.0000" stop-color="#303da9"/><stop offset="0.0208" stop-color="#2a52c8"/><stop offset="0.0528" stop-color="#0a92f6"/><stop offset="0.0739" stop-color="#07a4c9"/><stop offset="0.1142" stop-color="#00cc66"/><stop offset="0.1514" stop-color="#0ecf69"/><stop offset="0.3053" stop-color="#3bd872"/><stop offset="0.3625" stop-color="#93e983"/><stop offset="0.4366" stop-color="#ffff99"/><stop offset="0.4381" stop-color="#fefd98"/><stop offset="0.5588" stop-color="#d7c681"/><stop offset="0.6618" stop-color="#b08f6a"/><stop offset="0.7335" stop-color="#8c5c54"/><stop offset="0.8366" stop-color="#9f7770"/><stop offset="1.0000" stop-color="#b2928d"/></linearGradient><linearGradient id="g117" gradientUnits="userSpaceOnUse" x1="0" y1="344.2" x2="0" y2="606.8"><stop offset="0.0000" stop-color="#2f40ad"/><stop offset="0.0176" stop-color="#2a52c8"/><stop offset="0.0489" stop-color="#0a92f6"/><stop offset="0.0670" stop-color="#07a4c9"/><stop offset="0.1062" stop-color="#00cc66"/><stop offset="0.1454" stop-color="#0ecf69"/><stop offset="0.3018" stop-color="#3bd872"/><stop offset="0.3589" stop-color="#93e983"/><stop offset="0.4323" stop-color="#ffff99"/><stop offset="0.4338" stop-color="#fefd98"/><stop offset="0.5528" stop-color="#d7c681"/><stop offset="0.6561" stop-color="#b08f6a"/><stop offset="0.7269" stop-color="#8c5c54"/><stop offset="0.8301" stop-color="#9f7770"/><stop offset="0.9967" stop-color="#b3938e"/><stop offset="1.0000" stop-color="#b3948f"/></linearGradient><linearGradient id="g118" gradientUnits="userSpaceOnUse" x1="0" y1="344.2" x2="0" y2="606.8"><stop offset="0.0000" stop-color="#2e43b2"/><stop offset="0.0145" stop-color="#2a52c8"/><stop offset="0.0449" stop-color="#0a92f6"/><stop offset="0.0602" stop-color="#07a4c9"/><stop offset="0.0982" stop-color="#00cc66"/><stop offset="0.1393" stop-color="#0ecf69"/><stop offset="0.2982" stop-color="#3bd872"/><stop offset="0.3553" stop-color="#93e983"/><stop offset="0.4281" stop-color="#ffff99"/><stop offset="0.4296" stop-color="#fefd98"/><stop offset="0.5468" stop-color="#d7c681"/><stop offset="0.6504" stop-color="#b08f6a"/><stop offset="0.7202" stop-color="#8c5c54"/><stop offset="0.8237" stop-color="#9f7770"/><stop offset="0.9874" stop-color="#b3938e"/><stop offset="1.0000" stop-color="#b49691"/></linearGradient><linearGradient id="g119" gradientUnits="userSpaceOnUse" x1="0" y1="344.2" x2="0" y2="606.8"><stop offset="0.0000" stop-color="#2d47b7"/><stop offset="0.0107" stop-color="#2a52c8"/><stop offset="0.0411" stop-color="#0a92f6"/><stop offset="0.0564" stop-color="#07a4c9"/><stop offset="0.0925" stop-color="#00cc66"/><stop offset="0.1333" stop-color="#0ecf69"/><stop offset="0.2946" stop-color="#3bd872"/><stop offset="0.3517" stop-color="#93e983"/><stop offset="0.4238" stop-color="#ffff99"/><stop offset="0.4253" stop-color="#fefd98"/><stop offset="0.5408" stop-color="#d7c681"/><stop offset="0.6447" stop-color="#b08f6a"/><stop offset="0.7136" stop-color="#8c5c54"/><stop offset="0.8173" stop-color="#9f7770"/><stop offset="0.9781" stop-color="#b3938e"/><stop offset="1.0000" stop-color="#b59792"/></linearGradient><linearGradient id="g120" gradientUnits="userSpaceOnUse" x1="0" y1="344.2" x2="0" y2="606.8"><stop offset="0.0000" stop-color="#2c4bbd"/><stop offset="0.0069" stop-color="#2a52c8"/><stop offset="0.0373" stop-color="#0a92f6"/><stop offset="0.0526" stop-color="#07a4c9"/><stop offset="0.0868" stop-color="#00cc66"/><stop offset="0.1273" stop-color="#0ecf69"/><stop offset="0.2910" stop-color="#3bd872"/><stop offset="0.3481" stop-color="#93e983"/><stop offset="0.4195" stop-color="#ffff99"/><stop offset="0.4210" stop-color="#fefd98"/><stop offset="0.5348" stop-color="#d7c681"/><stop offset="0.6390" stop-color="#b08f6a"/><stop offset="0.7069" stop-color="#8c5c54"/><stop offset="0.8108" stop-color="#9f7770"/><stop offset="0.9688" stop-color="#b3938e"/><stop offset="1.0000" stop-color="#b79994"/></linearGradient><linearGradient id="g121" gradientUnits="userSpaceOnUse" x1="0" y1="344.2" x2="0" y2="606.8"><stop offset="0.0000" stop-color="#2b4fc3"/><stop offset="0.0030" stop-color="#2a52c8"/><stop offset="0.0335" stop-color="#0a92f6"/><stop offset="0.0487" stop-color="#07a4c9"/><stop offset="0.0811" stop-color="#00cc66"/><stop offset="0.1213" stop-color="#0ecf69"/><stop offset="0.2875" stop-color="#3bd872"/><stop offset="0.3446" stop-color="#93e983"/><stop offset="0.4153" stop-color="#ffff99"/><stop offset="0.4167" stop-color="#fefd98"/><stop offset="0.5288" stop-color="#d7c681"/><stop offset="0.6333" stop-color="#b08f6a"/><stop offset="0.7002" stop-color="#8c5c54"/><stop offset="0.8044" stop-color="#9f7770"/><stop offset="0.9596" stop-color="#b3938e"/><stop offset="1.0000" stop-color="#b89b96"/></linearGradient><linearGradient id="g122" gradientUnits="userSpaceOnUse" x1="0" y1="344.2" x2="0" y2="606.8"><stop offset="0.0000" stop-color="#2954c9"/><stop offset="0.0297" stop-color="#0a92f6"/><stop offset="0.0449" stop-color="#07a4c9"/><stop offset="0.0754" stop-color="#00cc66"/><stop offset="0.1153" stop-color="#0ecf69"/><stop offset="0.2839" stop-color="#3bd872"/><stop offset="0.3410" stop-color="#93e983"/><stop offset="0.4110" stop-color="#ffff99"/><stop offset="0.4124" stop-color="#fefd98"/><stop offset="0.5227" stop-color="#d7c681"/><stop offset="0.6276" stop-color="#b08f6a"/><stop offset="0.6936" stop-color="#8c5c54"/><stop offset="0.7980" stop-color="#9f7770"/><stop offset="0.9503" stop-color="#b3938e"/><stop offset="1.0000" stop-color="#b99d98"/></linearGradient><linearGradient id="g123" gradientUnits="userSpaceOnUse" x1="0" y1="344.2" x2="0" y2="606.8"><stop offset="0.0000" stop-color="#255ccf"/><stop offset="0.0259" stop-color="#0a92f6"/><stop offset="0.0411" stop-color="#07a4c9"/><stop offset="0.0697" stop-color="#00cc66"/><stop offset="0.1093" stop-color="#0ecf69"/><stop offset="0.2803" stop-color="#3bd872"/><stop offset="0.3374" stop-color="#93e983"/><stop offset="0.4067" stop-color="#ffff99"/><stop offset="0.4081" stop-color="#fefd98"/><stop offset="0.5167" stop-color="#d7c681"/><stop offset="0.6219" stop-color="#b08f6a"/><stop offset="0.6869" stop-color="#8c5c54"/><stop offset="0.7915" stop-color="#9f7770"/><stop offset="0.9410" stop-color="#b3938e"/><stop offset="1.0000" stop-color="#bb9f9a"/></linearGradient><linearGradient id="g124" gradientUnits="userSpaceOnUse" x1="0" y1="344.2" x2="0" y2="606.8"><stop offset="0.0000" stop-color="#2164d5"/><stop offset="0.0221" stop-color="#0a92f6"/><stop offset="0.0373" stop-color="#07a4c9"/><stop offset="0.0640" stop-color="#00cc66"/><stop offset="0.1033" stop-color="#0ecf69"/><stop offset="0.2768" stop-color="#3bd872"/><stop offset="0.3339" stop-color="#93e983"/><stop offset="0.4024" stop-color="#ffff99"/><stop offset="0.4038" stop-color="#fefd98"/><stop offset="0.5107" stop-color="#d7c681"/><stop offset="0.6161" stop-color="#b08f6a"/><stop offset="0.6802" stop-color="#8c5c54"/><stop offset="0.7851" stop-color="#9f7770"/><stop offset="0.9318" stop-color="#b3938e"/><stop offset="1.0000" stop-color="#bca19c"/></linearGradient><linearGradient id="g125" gradientUnits="userSpaceOnUse" x1="0" y1="344.2" x2="0" y2="606.8"><stop offset="0.0000" stop-color="#1d6cda"/><stop offset="0.0183" stop-color="#0a92f6"/><stop offset="0.0335" stop-color="#07a4c9"/><stop offset="0.0591" stop-color="#00cc66"/><stop offset="0.0973" stop-color="#0ecf69"/><stop offset="0.2732" stop-color="#3bd872"/><stop offset="0.3303" stop-color="#93e983"/><stop offset="0.3982" stop-color="#ffff99"/><stop offset="0.3995" stop-color="#fefd98"/><stop offset="0.5047" stop-color="#d7c681"/><stop offset="0.6104" stop-color="#b08f6a"/><stop offset="0.6736" stop-color="#8c5c54"/><stop offset="0.7787" stop-color="#9f7770"/><stop offset="0.9225" stop-color="#b3938e"/><stop offset="1.0000" stop-color="#bda39f"/></linearGradient><linearGradient id="g126" gradientUnits="userSpaceOnUse" x1="0" y1="344.2" x2="0" y2="606.8"><stop offset="0.0000" stop-color="#1974e0"/><stop offset="0.0145" stop-color="#0a92f6"/><stop offset="0.0297" stop-color="#07a4c9"/><stop offset="0.0558" stop-color="#00cc66"/><stop offset="0.0912" stop-color="#0ecf69"/><stop offset="0.2696" stop-color="#3bd872"/><stop offset="0.3267" stop-color="#93e983"/><stop offset="0.3939" stop-color="#ffff99"/><stop offset="0.3953" stop-color="#fefd98"/><stop offset="0.4987" stop-color="#d7c681"/><stop offset="0.6047" stop-color="#b08f6a"/><stop offset="0.6669" stop-color="#8c5c54"/><stop offset="0.7723" stop-color="#9f7770"/><stop offset="0.9132" stop-color="#b3938e"/><stop offset="1.0000" stop-color="#bfa5a1"/></linearGradient><linearGradient id="g127" gradientUnits="userSpaceOnUse" x1="0" y1="344.2" x2="0" y2="606.8"><stop offset="0.0000" stop-color="#157ce6"/><stop offset="0.0107" stop-color="#0a92f6"/><stop offset="0.0259" stop-color="#07a4c9"/><stop offset="0.0526" stop-color="#00cc66"/><stop offset="0.0852" stop-color="#0ecf69"/><stop offset="0.2660" stop-color="#3bd872"/><stop offset="0.3232" stop-color="#93e983"/><stop offset="0.3896" stop-color="#ffff99"/><stop offset="0.3910" stop-color="#fefd98"/><stop offset="0.4927" stop-color="#d7c681"/><stop offset="0.5990" stop-color="#b08f6a"/><stop offset="0.6602" stop-color="#8c5c54"/><stop offset="0.7658" stop-color="#9f7770"/><stop offset="0.9039" stop-color="#b3938e"/><stop offset="1.0000" stop-color="#c1a7a3"/></linearGradient><linearGradient id="g128" gradientUnits="userSpaceOnUse" x1="0" y1="344.2" x2="0" y2="606.8"><stop offset="0.0000" stop-color="#1184ec"/><stop offset="0.0069" stop-color="#0a92f6"/><stop offset="0.0221" stop-color="#07a4c9"/><stop offset="0.0493" stop-color="#00cc66"/><stop offset="0.0792" stop-color="#0ecf69"/><stop offset="0.2625" stop-color="#3bd872"/><stop offset="0.3196" stop-color="#93e983"/><stop offset="0.3854" stop-color="#ffff99"/><stop offset="0.3867" stop-color="#fefd98"/><stop offset="0.4867" stop-color="#d7c681"/><stop offset="0.5933" stop-color="#b08f6a"/><stop offset="0.6536" stop-color="#8c5c54"/><stop offset="0.7594" stop-color="#9f7770"/><stop offset="0.8946" stop-color="#b3938e"/><stop offset="1.0000" stop-color="#c2aaa6"/></linearGradient><linearGradient id="g129" gradientUnits="userSpaceOnUse" x1="0" y1="344.2" x2="0" y2="606.8"><stop offset="0.0000" stop-color="#0e8af0"/><stop offset="0.0040" stop-color="#0a92f6"/><stop offset="0.0198" stop-color="#07a4c9"/><stop offset="0.0460" stop-color="#00cc66"/><stop offset="0.0751" stop-color="#0ecf69"/><stop offset="0.2589" stop-color="#3bd872"/><stop offset="0.3160" stop-color="#93e983"/><stop offset="0.3811" stop-color="#ffff99"/><stop offset="0.3824" stop-color="#fefd98"/><stop offset="0.4821" stop-color="#d7c681"/><stop offset="0.5876" stop-color="#b08f6a"/><stop offset="0.6469" stop-color="#8c5c54"/><stop offset="0.7530" stop-color="#9f7770"/><stop offset="0.8853" stop-color="#b3938e"/><stop offset="1.0000" stop-color="#c4aca8"/></linearGradient><linearGradient id="g130" gradientUnits="userSpaceOnUse" x1="0" y1="344.2" x2="0" y2="606.8"><stop offset="0.0000" stop-color="#0b90f4"/><stop offset="0.0011" stop-color="#0a92f6"/><stop offset="0.0175" stop-color="#07a4c9"/><stop offset="0.0428" stop-color="#00cc66"/><stop offset="0.0711" stop-color="#0ecf69"/><stop offset="0.2553" stop-color="#3bd872"/><stop offset="0.3125" stop-color="#93e983"/><stop offset="0.3768" stop-color="#ffff99"/><stop offset="0.3781" stop-color="#fefd98"/><stop offset="0.4774" stop-color="#d7c681"/><stop offset="0.5819" stop-color="#b08f6a"/><stop offset="0.6403" stop-color="#8c5c54"/><stop offset="0.7466" stop-color="#9f7770"/><stop offset="0.8760" stop-color="#b3938e"/><stop offset="1.0000" stop-color="#c6afab"/></linearGradient><linearGradient id="g131" gradientUnits="userSpaceOnUse" x1="0" y1="344.2" x2="0" y2="606.8"><stop offset="0.0000" stop-color="#0a94f1"/><stop offset="0.0152" stop-color="#07a4c9"/><stop offset="0.0395" stop-color="#00cc66"/><stop offset="0.0670" stop-color="#0ecf69"/><stop offset="0.2518" stop-color="#3bd872"/><stop offset="0.3089" stop-color="#93e983"/><stop offset="0.3725" stop-color="#ffff99"/><stop offset="0.3739" stop-color="#fefd98"/><stop offset="0.4728" stop-color="#d7c681"/><stop offset="0.5762" stop-color="#b08f6a"/><stop offset="0.6336" stop-color="#8c5c54"/><stop offset="0.7401" stop-color="#9f7770"/><stop offset="0.8668" stop-color="#b3938e"/><stop offset="1.0000" stop-color="#c7b1ae"/></linearGradient><linearGradient id="g132" gradientUnits="userSpaceOnUse" x1="0" y1="344.2" x2="0" y2="606.8"><stop offset="0.0000" stop-color="#0997ea"/><stop offset="0.0129" stop-color="#07a4c9"/><stop offset="0.0362" stop-color="#00cc66"/><stop offset="0.0629" stop-color="#0ecf69"/><stop offset="0.2482" stop-color="#3bd872"/><stop offset="0.3053" stop-color="#93e983"/><stop offset="0.3683" stop-color="#ffff99"/><stop offset="0.3696" stop-color="#fefd98"/><stop offset="0.4682" stop-color="#d7c681"/><stop offset="0.5704" stop-color="#b08f6a"/><stop offset="0.6273" stop-color="#8c5c54"/><stop offset="0.7337" stop-color="#9f7770"/><stop offset="0.8575" stop-color="#b3938e"/><stop offset="1.0000" stop-color="#c9b4b1"/></linearGradient><linearGradient id="g133" gradientUnits="userSpaceOnUse" x1="0" y1="344.2" x2="0" y2="606.8"><stop offset="0.0000" stop-color="#0999e3"/><stop offset="0.0107" stop-color="#07a4c9"/><stop offset="0.0330" stop-color="#00cc66"/><stop offset="0.0588" stop-color="#0ecf69"/><stop offset="0.2446" stop-color="#3bd872"/><stop offset="0.3018" stop-color="#93e983"/><stop offset="0.3640" stop-color="#ffff99"/><stop offset="0.3653" stop-color="#fefd98"/><stop offset="0.4636" stop-color="#d7c681"/><stop offset="0.5647" stop-color="#b08f6a"/><stop offset="0.6212" stop-color="#8c5c54"/><stop offset="0.7273" stop-color="#9f7770"/><stop offset="0.8482" stop-color="#b3938e"/><stop offset="0.9882" stop-color="#c9b4b1"/><stop offset="1.0000" stop-color="#cbb6b3"/></linearGradient><linearGradient id="g134" gradientUnits="userSpaceOnUse" x1="0" y1="344.2" x2="0" y2="606.8"><stop offset="0.0000" stop-color="#089cdd"/><stop offset="0.0084" stop-color="#07a4c9"/><stop offset="0.0297" stop-color="#00cc66"/><stop offset="0.0547" stop-color="#0ecf69"/><stop offset="0.2411" stop-color="#3bd872"/><stop offset="0.2982" stop-color="#93e983"/><stop offset="0.3597" stop-color="#ffff99"/><stop offset="0.3610" stop-color="#fefd98"/><stop offset="0.4589" stop-color="#d7c681"/><stop offset="0.5590" stop-color="#b08f6a"/><stop offset="0.6152" stop-color="#8c5c54"/><stop offset="0.7209" stop-color="#9f7770"/><stop offset="0.8389" stop-color="#b3938e"/><stop offset="0.9760" stop-color="#c9b4b1"/><stop offset="1.0000" stop-color="#ccb8b5"/></linearGradient><linearGradient id="g135" gradientUnits="userSpaceOnUse" x1="0" y1="344.2" x2="0" y2="606.8"><stop offset="0.0000" stop-color="#089ed7"/><stop offset="0.0061" stop-color="#07a4c9"/><stop offset="0.0276" stop-color="#00cc66"/><stop offset="0.0506" stop-color="#0ecf69"/><stop offset="0.2375" stop-color="#3bd872"/><stop offset="0.2946" stop-color="#93e983"/><stop offset="0.3555" stop-color="#ffff99"/><stop offset="0.3567" stop-color="#fefd98"/><stop offset="0.4543" stop-color="#d7c681"/><stop offset="0.5533" stop-color="#b08f6a"/><stop offset="0.6091" stop-color="#8c5c54"/><stop offset="0.7144" stop-color="#9f7770"/><stop offset="0.8296" stop-color="#b3938e"/><stop offset="0.9639" stop-color="#c9b4b1"/><stop offset="1.0000" stop-color="#cebbb7"/></linearGradient><linearGradient id="g136" gradientUnits="userSpaceOnUse" x1="0" y1="344.2" x2="0" y2="606.8"><stop offset="0.0000" stop-color="#07a1d2"/><stop offset="0.0038" stop-color="#07a4c9"/><stop offset="0.0254" stop-color="#00cc66"/><stop offset="0.0466" stop-color="#0ecf69"/><stop offset="0.2339" stop-color="#3bd872"/><stop offset="0.2910" stop-color="#93e983"/><stop offset="0.3512" stop-color="#ffff99"/><stop offset="0.3524" stop-color="#fefd98"/><stop offset="0.4497" stop-color="#d7c681"/><stop offset="0.5476" stop-color="#b08f6a"/><stop offset="0.6030" stop-color="#8c5c54"/><stop offset="0.7080" stop-color="#9f7770"/><stop offset="0.8203" stop-color="#b3938e"/><stop offset="0.9517" stop-color="#c9b4b1"/><stop offset="1.0000" stop-color="#cfbdba"/></linearGradient><linearGradient id="g137" gradientUnits="userSpaceOnUse" x1="0" y1="344.2" x2="0" y2="606.8"><stop offset="0.0000" stop-color="#07a3cc"/><stop offset="0.0015" stop-color="#07a4c9"/><stop offset="0.0233" stop-color="#00cc66"/><stop offset="0.0425" stop-color="#0ecf69"/><stop offset="0.2304" stop-color="#3bd872"/><stop offset="0.2875" stop-color="#93e983"/><stop offset="0.3470" stop-color="#ffff99"/><stop offset="0.3481" stop-color="#fefd98"/><stop offset="0.4450" stop-color="#d7c681"/><stop offset="0.5419" stop-color="#b08f6a"/><stop offset="0.5970" stop-color="#8c5c54"/><stop offset="0.7016" stop-color="#9f7770"/><stop offset="0.8111" stop-color="#b3938e"/><stop offset="0.9396" stop-color="#c9b4b1"/><stop offset="1.0000" stop-color="#d1bfbc"/></linearGradient><linearGradient id="g138" gradientUnits="userSpaceOnUse" x1="0" y1="344.2" x2="0" y2="606.8"><stop offset="0.0000" stop-color="#07a6c5"/><stop offset="0.0211" stop-color="#00cc66"/><stop offset="0.0384" stop-color="#0ecf69"/><stop offset="0.2268" stop-color="#3bd872"/><stop offset="0.2839" stop-color="#93e983"/><stop offset="0.3427" stop-color="#ffff99"/><stop offset="0.3439" stop-color="#fefd98"/><stop offset="0.4404" stop-color="#d7c681"/><stop offset="0.5362" stop-color="#b08f6a"/><stop offset="0.5909" stop-color="#8c5c54"/><stop offset="0.6952" stop-color="#9f7770"/><stop offset="0.8018" stop-color="#b3938e"/><stop offset="0.9275" stop-color="#c9b4b1"/><stop offset="1.0000" stop-color="#d3c1bf"/></linearGradient><linearGradient id="g139" gradientUnits="userSpaceOnUse" x1="0" y1="344.2" x2="0" y2="606.8"><stop offset="0.0000" stop-color="#06aabb"/><stop offset="0.0190" stop-color="#00cc66"/><stop offset="0.0343" stop-color="#0ecf69"/><stop offset="0.2232" stop-color="#3bd872"/><stop offset="0.2803" stop-color="#93e983"/><stop offset="0.3384" stop-color="#ffff99"/><stop offset="0.3396" stop-color="#fefd98"/><stop offset="0.4358" stop-color="#d7c681"/><stop offset="0.5305" stop-color="#b08f6a"/><stop offset="0.5848" stop-color="#8c5c54"/><stop offset="0.6887" stop-color="#9f7770"/><stop offset="0.7925" stop-color="#b3938e"/><stop offset="0.9153" stop-color="#c9b4b1"/><stop offset="1.0000" stop-color="#d4c4c1"/></linearGradient><linearGradient id="g140" gradientUnits="userSpaceOnUse" x1="0" y1="344.2" x2="0" y2="606.8"><stop offset="0.0000" stop-color="#05aeb1"/><stop offset="0.0168" stop-color="#00cc66"/><stop offset="0.0302" stop-color="#0ecf69"/><stop offset="0.2196" stop-color="#3bd872"/><stop offset="0.2768" stop-color="#93e983"/><stop offset="0.3341" stop-color="#ffff99"/><stop offset="0.3353" stop-color="#fefd98"/><stop offset="0.4312" stop-color="#d7c681"/><stop offset="0.5248" stop-color="#b08f6a"/><stop offset="0.5788" stop-color="#8c5c54"/><stop offset="0.6823" stop-color="#9f7770"/><stop offset="0.7832" stop-color="#b3938e"/><stop offset="0.9032" stop-color="#c9b4b1"/><stop offset="1.0000" stop-color="#d6c6c4"/></linearGradient><linearGradient id="g141" gradientUnits="userSpaceOnUse" x1="0" y1="344.2" x2="0" y2="606.8"><stop offset="0.0000" stop-color="#05b2a7"/><stop offset="0.0147" stop-color="#00cc66"/><stop offset="0.0262" stop-color="#0ecf69"/><stop offset="0.2161" stop-color="#3bd872"/><stop offset="0.2732" stop-color="#93e983"/><stop offset="0.3299" stop-color="#ffff99"/><stop offset="0.3310" stop-color="#fefd98"/><stop offset="0.4265" stop-color="#d7c681"/><stop offset="0.5190" stop-color="#b08f6a"/><stop offset="0.5727" stop-color="#8c5c54"/><stop offset="0.6759" stop-color="#9f7770"/><stop offset="0.7740" stop-color="#b3938e"/><stop offset="0.8911" stop-color="#c9b4b1"/><stop offset="1.0000" stop-color="#d8c9c6"/></linearGradient><linearGradient id="g142" gradientUnits="userSpaceOnUse" x1="0" y1="344.2" x2="0" y2="606.8"><stop offset="0.0000" stop-color="#04b59e"/><stop offset="0.0126" stop-color="#00cc66"/><stop offset="0.0221" stop-color="#0ecf69"/><stop offset="0.2125" stop-color="#3bd872"/><stop offset="0.2696" stop-color="#93e983"/><stop offset="0.3256" stop-color="#ffff99"/><stop offset="0.3267" stop-color="#fefd98"/><stop offset="0.4219" stop-color="#d7c681"/><stop offset="0.5133" stop-color="#b08f6a"/><stop offset="0.5666" stop-color="#8c5c54"/><stop offset="0.6695" stop-color="#9f7770"/><stop offset="0.7647" stop-color="#b3938e"/><stop offset="0.8789" stop-color="#c9b4b1"/><stop offset="1.0000" stop-color="#dacbc9"/></linearGradient><linearGradient id="g143" gradientUnits="userSpaceOnUse" x1="0" y1="344.2" x2="0" y2="606.8"><stop offset="0.0000" stop-color="#03b996"/><stop offset="0.0104" stop-color="#00cc66"/><stop offset="0.0203" stop-color="#0ecf69"/><stop offset="0.2075" stop-color="#3bd872"/><stop offset="0.2659" stop-color="#93e983"/><stop offset="0.3219" stop-color="#ffff99"/><stop offset="0.3230" stop-color="#fefd98"/><stop offset="0.4192" stop-color="#d7c681"/><stop offset="0.5094" stop-color="#b08f6a"/><stop offset="0.5612" stop-color="#8c5c54"/><stop offset="0.6645" stop-color="#9f7770"/><stop offset="0.7609" stop-color="#b3938e"/><stop offset="0.8764" stop-color="#c9b4b1"/><stop offset="1.0000" stop-color="#daccc9"/></linearGradient><linearGradient id="g144" gradientUnits="userSpaceOnUse" x1="0" y1="344.2" x2="0" y2="606.8"><stop offset="0.0000" stop-color="#03bc8d"/><stop offset="0.0083" stop-color="#00cc66"/><stop offset="0.0185" stop-color="#0ecf69"/><stop offset="0.2026" stop-color="#3bd872"/><stop offset="0.2621" stop-color="#93e983"/><stop offset="0.3181" stop-color="#ffff99"/><stop offset="0.3193" stop-color="#fefd98"/><stop offset="0.4165" stop-color="#d7c681"/><stop offset="0.5054" stop-color="#b08f6a"/><stop offset="0.5557" stop-color="#8c5c54"/><stop offset="0.6595" stop-color="#9f7770"/><stop offset="0.7572" stop-color="#b3938e"/><stop offset="0.8740" stop-color="#c9b4b1"/><stop offset="1.0000" stop-color="#daccca"/></linearGradient><linearGradient id="g145" gradientUnits="userSpaceOnUse" x1="0" y1="344.2" x2="0" y2="606.8"><stop offset="0.0000" stop-color="#02c084"/><stop offset="0.0063" stop-color="#00cc66"/><stop offset="0.0167" stop-color="#0ecf69"/><stop offset="0.1976" stop-color="#3bd872"/><stop offset="0.2585" stop-color="#93e983"/><stop offset="0.3144" stop-color="#ffff99"/><stop offset="0.3156" stop-color="#fefd98"/><stop offset="0.4137" stop-color="#d7c681"/><stop offset="0.5014" stop-color="#b08f6a"/><stop offset="0.5503" stop-color="#8c5c54"/><stop offset="0.6546" stop-color="#9f7770"/><stop offset="0.7535" stop-color="#b3938e"/><stop offset="0.8714" stop-color="#c9b4b1"/><stop offset="1.0000" stop-color="#dacdca"/></linearGradient><linearGradient id="g146" gradientUnits="userSpaceOnUse" x1="0" y1="344.2" x2="0" y2="606.8"><stop offset="0.0000" stop-color="#01c37c"/><stop offset="0.0046" stop-color="#00cc66"/><stop offset="0.0149" stop-color="#0ecf69"/><stop offset="0.1926" stop-color="#3bd872"/><stop offset="0.2547" stop-color="#93e983"/><stop offset="0.3107" stop-color="#ffff99"/><stop offset="0.3118" stop-color="#fefd98"/><stop offset="0.4110" stop-color="#d7c681"/><stop offset="0.4974" stop-color="#b08f6a"/><stop offset="0.5448" stop-color="#8c5c54"/><stop offset="0.6496" stop-color="#9f7770"/><stop offset="0.7498" stop-color="#b3938e"/><stop offset="0.8690" stop-color="#c9b4b1"/><stop offset="1.0000" stop-color="#dbcdcb"/></linearGradient><linearGradient id="g147" gradientUnits="userSpaceOnUse" x1="0" y1="344.2" x2="0" y2="606.8"><stop offset="0.0000" stop-color="#01c773"/><stop offset="0.0029" stop-color="#00cc66"/><stop offset="0.0131" stop-color="#0ecf69"/><stop offset="0.1877" stop-color="#3bd872"/><stop offset="0.2510" stop-color="#93e983"/><stop offset="0.3070" stop-color="#ffff99"/><stop offset="0.3081" stop-color="#fefd98"/><stop offset="0.4083" stop-color="#d7c681"/><stop offset="0.4935" stop-color="#b08f6a"/><stop offset="0.5393" stop-color="#8c5c54"/><stop offset="0.6446" stop-color="#9f7770"/><stop offset="0.7460" stop-color="#b3938e"/><stop offset="0.8665" stop-color="#c9b4b1"/><stop offset="1.0000" stop-color="#dbcdcb"/></linearGradient><linearGradient id="g148" gradientUnits="userSpaceOnUse" x1="0" y1="344.2" x2="0" y2="606.8"><stop offset="0.0000" stop-color="#00ca6b"/><stop offset="0.0011" stop-color="#00cc66"/><stop offset="0.0113" stop-color="#0ecf69"/><stop offset="0.1827" stop-color="#3bd872"/><stop offset="0.2473" stop-color="#93e983"/><stop offset="0.3032" stop-color="#ffff99"/><stop offset="0.3044" stop-color="#fefd98"/><stop offset="0.4056" stop-color="#d7c681"/><stop offset="0.4895" stop-color="#b08f6a"/><stop offset="0.5339" stop-color="#8c5c54"/><stop offset="0.6396" stop-color="#9f7770"/><stop offset="0.7423" stop-color="#b3938e"/><stop offset="0.8640" stop-color="#c9b4b1"/><stop offset="1.0000" stop-color="#dbcecb"/></linearGradient><linearGradient id="g149" gradientUnits="userSpaceOnUse" x1="0" y1="344.2" x2="0" y2="606.8"><stop offset="0.0000" stop-color="#01cc66"/><stop offset="0.0094" stop-color="#0ecf69"/><stop offset="0.1777" stop-color="#3bd872"/><stop offset="0.2435" stop-color="#93e983"/><stop offset="0.2995" stop-color="#ffff99"/><stop offset="0.3006" stop-color="#fefd98"/><stop offset="0.4028" stop-color="#d7c681"/><stop offset="0.4855" stop-color="#b08f6a"/><stop offset="0.5284" stop-color="#8c5c54"/><stop offset="0.6347" stop-color="#9f7770"/><stop offset="0.7386" stop-color="#b3938e"/><stop offset="0.8615" stop-color="#c9b4b1"/><stop offset="1.0000" stop-color="#dbcecc"/></linearGradient><linearGradient id="g150" gradientUnits="userSpaceOnUse" x1="0" y1="344.2" x2="0" y2="606.8"><stop offset="0.0000" stop-color="#03cd67"/><stop offset="0.0077" stop-color="#0ecf69"/><stop offset="0.1728" stop-color="#3bd872"/><stop offset="0.2398" stop-color="#93e983"/><stop offset="0.2958" stop-color="#ffff99"/><stop offset="0.2969" stop-color="#fefd98"/><stop offset="0.4001" stop-color="#d7c681"/><stop offset="0.4815" stop-color="#b08f6a"/><stop offset="0.5229" stop-color="#8c5c54"/><stop offset="0.6297" stop-color="#9f7770"/><stop offset="0.7348" stop-color="#b3938e"/><stop offset="0.8590" stop-color="#c9b4b1"/><stop offset="1.0000" stop-color="#dccecc"/></linearGradient><linearGradient id="g151" gradientUnits="userSpaceOnUse" x1="0" y1="344.2" x2="0" y2="606.8"><stop offset="0.0000" stop-color="#06cd67"/><stop offset="0.0059" stop-color="#0ecf69"/><stop offset="0.1678" stop-color="#3bd872"/><stop offset="0.2361" stop-color="#93e983"/><stop offset="0.2921" stop-color="#ffff99"/><stop offset="0.2932" stop-color="#fefd98"/><stop offset="0.3973" stop-color="#d7c681"/><stop offset="0.4776" stop-color="#b08f6a"/><stop offset="0.5175" stop-color="#8c5c54"/><stop offset="0.6248" stop-color="#9f7770"/><stop offset="0.7312" stop-color="#b3938e"/><stop offset="0.8565" stop-color="#c9b4b1"/><stop offset="1.0000" stop-color="#dccfcc"/></linearGradient><linearGradient id="g152" gradientUnits="userSpaceOnUse" x1="0" y1="344.2" x2="0" y2="606.8"><stop offset="0.0000" stop-color="#08ce68"/><stop offset="0.0040" stop-color="#0ecf69"/><stop offset="0.1628" stop-color="#3bd872"/><stop offset="0.2324" stop-color="#93e983"/><stop offset="0.2883" stop-color="#ffff99"/><stop offset="0.2895" stop-color="#fefd98"/><stop offset="0.3946" stop-color="#d7c681"/><stop offset="0.4736" stop-color="#b08f6a"/><stop offset="0.5120" stop-color="#8c5c54"/><stop offset="0.6198" stop-color="#9f7770"/><stop offset="0.7274" stop-color="#b3938e"/><stop offset="0.8541" stop-color="#c9b4b1"/><stop offset="1.0000" stop-color="#dccfcd"/></linearGradient><linearGradient id="g153" gradientUnits="userSpaceOnUse" x1="0" y1="344.2" x2="0" y2="606.8"><stop offset="0.0000" stop-color="#0bce68"/><stop offset="0.0022" stop-color="#0ecf69"/><stop offset="0.1578" stop-color="#3bd872"/><stop offset="0.2286" stop-color="#93e983"/><stop offset="0.2846" stop-color="#ffff99"/><stop offset="0.2858" stop-color="#fefd98"/><stop offset="0.3919" stop-color="#d7c681"/><stop offset="0.4696" stop-color="#b08f6a"/><stop offset="0.5065" stop-color="#8c5c54"/><stop offset="0.6148" stop-color="#9f7770"/><stop offset="0.7237" stop-color="#b3938e"/><stop offset="0.8516" stop-color="#c9b4b1"/><stop offset="1.0000" stop-color="#dccfcd"/></linearGradient><linearGradient id="g154" gradientUnits="userSpaceOnUse" x1="0" y1="344.2" x2="0" y2="606.8"><stop offset="0.0000" stop-color="#0ecf69"/><stop offset="0.0005" stop-color="#0ecf69"/><stop offset="0.1529" stop-color="#3bd872"/><stop offset="0.2249" stop-color="#93e983"/><stop offset="0.2809" stop-color="#ffff99"/><stop offset="0.2820" stop-color="#fefd98"/><stop offset="0.3891" stop-color="#d7c681"/><stop offset="0.4657" stop-color="#b08f6a"/><stop offset="0.5011" stop-color="#8c5c54"/><stop offset="0.6099" stop-color="#9f7770"/><stop offset="0.7200" stop-color="#b3938e"/><stop offset="0.8491" stop-color="#c9b4b1"/><stop offset="1.0000" stop-color="#dcd0cd"/></linearGradient><linearGradient id="g155" gradientUnits="userSpaceOnUse" x1="0" y1="344.2" x2="0" y2="606.8"><stop offset="0.0000" stop-color="#0fcf69"/><stop offset="0.1479" stop-color="#3bd872"/><stop offset="0.2212" stop-color="#93e983"/><stop offset="0.2772" stop-color="#ffff99"/><stop offset="0.2783" stop-color="#fefd98"/><stop offset="0.3864" stop-color="#d7c681"/><stop offset="0.4617" stop-color="#b08f6a"/><stop offset="0.4956" stop-color="#8c5c54"/><stop offset="0.6049" stop-color="#9f7770"/><stop offset="0.7162" stop-color="#b3938e"/><stop offset="0.8466" stop-color="#c9b4b1"/><stop offset="1.0000" stop-color="#ddd0ce"/></linearGradient><linearGradient id="g156" gradientUnits="userSpaceOnUse" x1="0" y1="344.2" x2="0" y2="606.8"><stop offset="0.0000" stop-color="#0fcf69"/><stop offset="0.1430" stop-color="#3bd872"/><stop offset="0.2174" stop-color="#93e983"/><stop offset="0.2734" stop-color="#ffff99"/><stop offset="0.2746" stop-color="#fefd98"/><stop offset="0.3837" stop-color="#d7c681"/><stop offset="0.4577" stop-color="#b08f6a"/><stop offset="0.4901" stop-color="#8c5c54"/><stop offset="0.5999" stop-color="#9f7770"/><stop offset="0.7125" stop-color="#b3938e"/><stop offset="0.8441" stop-color="#c9b4b1"/><stop offset="1.0000" stop-color="#ddd0ce"/></linearGradient><linearGradient id="g157" gradientUnits="userSpaceOnUse" x1="0" y1="344.2" x2="0" y2="606.8"><stop offset="0.0000" stop-color="#10cf69"/><stop offset="0.1380" stop-color="#3bd872"/><stop offset="0.2137" stop-color="#93e983"/><stop offset="0.2697" stop-color="#ffff99"/><stop offset="0.2709" stop-color="#fefd98"/><stop offset="0.3810" stop-color="#d7c681"/><stop offset="0.4537" stop-color="#b08f6a"/><stop offset="0.4847" stop-color="#8c5c54"/><stop offset="0.5949" stop-color="#9f7770"/><stop offset="0.7088" stop-color="#b3938e"/><stop offset="0.8417" stop-color="#c9b4b1"/><stop offset="1.0000" stop-color="#ddd1ce"/></linearGradient><linearGradient id="g158" gradientUnits="userSpaceOnUse" x1="0" y1="344.2" x2="0" y2="606.8"><stop offset="0.0000" stop-color="#10cf69"/><stop offset="0.1343" stop-color="#3bd872"/><stop offset="0.2091" stop-color="#93e983"/><stop offset="0.2648" stop-color="#ffff99"/><stop offset="0.2660" stop-color="#fefd98"/><stop offset="0.3775" stop-color="#d7c681"/><stop offset="0.4502" stop-color="#b08f6a"/><stop offset="0.4811" stop-color="#8c5c54"/><stop offset="0.5919" stop-color="#9f7770"/><stop offset="0.7075" stop-color="#b3938e"/><stop offset="0.8401" stop-color="#c9b4b1"/><stop offset="1.0000" stop-color="#ddd1cf"/></linearGradient><linearGradient id="g159" gradientUnits="userSpaceOnUse" x1="0" y1="344.2" x2="0" y2="606.8"><stop offset="0.0000" stop-color="#11cf69"/><stop offset="0.1312" stop-color="#3bd872"/><stop offset="0.2040" stop-color="#93e983"/><stop offset="0.2593" stop-color="#ffff99"/><stop offset="0.2604" stop-color="#fefd98"/><stop offset="0.3736" stop-color="#d7c681"/><stop offset="0.4470" stop-color="#b08f6a"/><stop offset="0.4784" stop-color="#8c5c54"/><stop offset="0.5899" stop-color="#9f7770"/><stop offset="0.7075" stop-color="#b3938e"/><stop offset="0.8391" stop-color="#c9b4b1"/><stop offset="1.0000" stop-color="#ded1cf"/></linearGradient><linearGradient id="g160" gradientUnits="userSpaceOnUse" x1="0" y1="344.2" x2="0" y2="606.8"><stop offset="0.0000" stop-color="#11cf69"/><stop offset="0.1282" stop-color="#3bd872"/><stop offset="0.1989" stop-color="#93e983"/><stop offset="0.2538" stop-color="#ffff99"/><stop offset="0.2549" stop-color="#fefd98"/><stop offset="0.3697" stop-color="#d7c681"/><stop offset="0.4437" stop-color="#b08f6a"/><stop offset="0.4758" stop-color="#8c5c54"/><stop offset="0.5879" stop-color="#9f7770"/><stop offset="0.7075" stop-color="#b3938e"/><stop offset="0.8381" stop-color="#c9b4b1"/><stop offset="1.0000" stop-color="#ded1cf"/></linearGradient><linearGradient id="g161" gradientUnits="userSpaceOnUse" x1="0" y1="344.2" x2="0" y2="606.8"><stop offset="0.0000" stop-color="#12d06a"/><stop offset="0.1251" stop-color="#3bd872"/><stop offset="0.1938" stop-color="#93e983"/><stop offset="0.2483" stop-color="#ffff99"/><stop offset="0.2494" stop-color="#fefd98"/><stop offset="0.3658" stop-color="#d7c681"/><stop offset="0.4404" stop-color="#b08f6a"/><stop offset="0.4732" stop-color="#8c5c54"/><stop offset="0.5858" stop-color="#9f7770"/><stop offset="0.7075" stop-color="#b3938e"/><stop offset="0.8371" stop-color="#c9b4b1"/><stop offset="1.0000" stop-color="#ded2d0"/></linearGradient><linearGradient id="g162" gradientUnits="userSpaceOnUse" x1="0" y1="344.2" x2="0" y2="606.8"><stop offset="0.0000" stop-color="#12d06a"/><stop offset="0.1220" stop-color="#3bd872"/><stop offset="0.1887" stop-color="#93e983"/><stop offset="0.2428" stop-color="#ffff99"/><stop offset="0.2439" stop-color="#fefd98"/><stop offset="0.3620" stop-color="#d7c681"/><stop offset="0.4372" stop-color="#b08f6a"/><stop offset="0.4705" stop-color="#8c5c54"/><stop offset="0.5838" stop-color="#9f7770"/><stop offset="0.7075" stop-color="#b3938e"/><stop offset="0.8361" stop-color="#c9b4b1"/><stop offset="1.0000" stop-color="#ded2d0"/></linearGradient><linearGradient id="g163" gradientUnits="userSpaceOnUse" x1="0" y1="344.2" x2="0" y2="606.8"><stop offset="0.0000" stop-color="#13d06a"/><stop offset="0.1190" stop-color="#3bd872"/><stop offset="0.1836" stop-color="#93e983"/><stop offset="0.2373" stop-color="#ffff99"/><stop offset="0.2384" stop-color="#fefd98"/><stop offset="0.3581" stop-color="#d7c681"/><stop offset="0.4339" stop-color="#b08f6a"/><stop offset="0.4678" stop-color="#8c5c54"/><stop offset="0.5817" stop-color="#9f7770"/><stop offset="0.7075" stop-color="#b3938e"/><stop offset="0.8350" stop-color="#c9b4b1"/><stop offset="1.0000" stop-color="#ded2d0"/></linearGradient><linearGradient id="g164" gradientUnits="userSpaceOnUse" x1="0" y1="344.2" x2="0" y2="606.8"><stop offset="0.0000" stop-color="#14d06a"/><stop offset="0.1159" stop-color="#3bd872"/><stop offset="0.1785" stop-color="#93e983"/><stop offset="0.2318" stop-color="#ffff99"/><stop offset="0.2329" stop-color="#fefd98"/><stop offset="0.3542" stop-color="#d7c681"/><stop offset="0.4307" stop-color="#b08f6a"/><stop offset="0.4652" stop-color="#8c5c54"/><stop offset="0.5797" stop-color="#9f7770"/><stop offset="0.7075" stop-color="#b3938e"/><stop offset="0.8340" stop-color="#c9b4b1"/><stop offset="1.0000" stop-color="#dfd3d1"/></linearGradient><linearGradient id="g165" gradientUnits="userSpaceOnUse" x1="0" y1="344.2" x2="0" y2="606.8"><stop offset="0.0000" stop-color="#14d06a"/><stop offset="0.1129" stop-color="#3bd872"/><stop offset="0.1734" stop-color="#93e983"/><stop offset="0.2263" stop-color="#ffff99"/><stop offset="0.2274" stop-color="#fefd98"/><stop offset="0.3503" stop-color="#d7c681"/><stop offset="0.4274" stop-color="#b08f6a"/><stop offset="0.4625" stop-color="#8c5c54"/><stop offset="0.5776" stop-color="#9f7770"/><stop offset="0.7075" stop-color="#b3938e"/><stop offset="0.8330" stop-color="#c9b4b1"/><stop offset="1.0000" stop-color="#dfd3d1"/></linearGradient><linearGradient id="g166" gradientUnits="userSpaceOnUse" x1="0" y1="344.2" x2="0" y2="606.8"><stop offset="0.0000" stop-color="#15d06a"/><stop offset="0.1098" stop-color="#3bd872"/><stop offset="0.1683" stop-color="#93e983"/><stop offset="0.2208" stop-color="#ffff99"/><stop offset="0.2219" stop-color="#fefd98"/><stop offset="0.3465" stop-color="#d7c681"/><stop offset="0.4241" stop-color="#b08f6a"/><stop offset="0.4599" stop-color="#8c5c54"/><stop offset="0.5756" stop-color="#9f7770"/><stop offset="0.7075" stop-color="#b3938e"/><stop offset="0.8320" stop-color="#c9b4b1"/><stop offset="1.0000" stop-color="#dfd3d1"/></linearGradient><linearGradient id="g167" gradientUnits="userSpaceOnUse" x1="0" y1="344.2" x2="0" y2="606.8"><stop offset="0.0000" stop-color="#15d06a"/><stop offset="0.1067" stop-color="#3bd872"/><stop offset="0.1632" stop-color="#93e983"/><stop offset="0.2153" stop-color="#ffff99"/><stop offset="0.2164" stop-color="#fefd98"/><stop offset="0.3426" stop-color="#d7c681"/><stop offset="0.4208" stop-color="#b08f6a"/><stop offset="0.4572" stop-color="#8c5c54"/><stop offset="0.5736" stop-color="#9f7770"/><stop offset="0.7075" stop-color="#b3938e"/><stop offset="0.8310" stop-color="#c9b4b1"/><stop offset="1.0000" stop-color="#dfd4d2"/></linearGradient><linearGradient id="g168" gradientUnits="userSpaceOnUse" x1="0" y1="344.2" x2="0" y2="606.8"><stop offset="0.0000" stop-color="#16d06a"/><stop offset="0.1037" stop-color="#3bd872"/><stop offset="0.1581" stop-color="#93e983"/><stop offset="0.2098" stop-color="#ffff99"/><stop offset="0.2109" stop-color="#fefd98"/><stop offset="0.3387" stop-color="#d7c681"/><stop offset="0.4176" stop-color="#b08f6a"/><stop offset="0.4546" stop-color="#8c5c54"/><stop offset="0.5716" stop-color="#9f7770"/><stop offset="0.7075" stop-color="#b3938e"/><stop offset="0.8299" stop-color="#c9b4b1"/><stop offset="1.0000" stop-color="#dfd4d2"/></linearGradient><linearGradient id="g169" gradientUnits="userSpaceOnUse" x1="0" y1="344.2" x2="0" y2="606.8"><stop offset="0.0000" stop-color="#17d16b"/><stop offset="0.1006" stop-color="#3ad872"/><stop offset="0.1530" stop-color="#93e983"/><stop offset="0.2043" stop-color="#ffff99"/><stop offset="0.2053" stop-color="#fefd98"/><stop offset="0.3348" stop-color="#d7c681"/><stop offset="0.4143" stop-color="#b08f6a"/><stop offset="0.4519" stop-color="#8c5c54"/><stop offset="0.5695" stop-color="#9f7770"/><stop offset="0.7075" stop-color="#b3938e"/><stop offset="0.8289" stop-color="#c9b4b1"/><stop offset="1.0000" stop-color="#e0d4d2"/></linearGradient><linearGradient id="g170" gradientUnits="userSpaceOnUse" x1="0" y1="344.2" x2="0" y2="606.8"><stop offset="0.0000" stop-color="#17d16b"/><stop offset="0.0976" stop-color="#3bd872"/><stop offset="0.1479" stop-color="#93e983"/><stop offset="0.1988" stop-color="#ffff99"/><stop offset="0.1998" stop-color="#fefd98"/><stop offset="0.3310" stop-color="#d7c681"/><stop offset="0.4110" stop-color="#b08f6a"/><stop offset="0.4493" stop-color="#8c5c54"/><stop offset="0.5674" stop-color="#9f7770"/><stop offset="0.7075" stop-color="#b3938e"/><stop offset="0.8279" stop-color="#c9b4b1"/><stop offset="1.0000" stop-color="#e0d4d3"/></linearGradient><linearGradient id="g171" gradientUnits="userSpaceOnUse" x1="0" y1="344.2" x2="0" y2="606.8"><stop offset="0.0000" stop-color="#18d16b"/><stop offset="0.0945" stop-color="#3bd872"/><stop offset="0.1428" stop-color="#93e983"/><stop offset="0.1933" stop-color="#ffff99"/><stop offset="0.1943" stop-color="#fefd98"/><stop offset="0.3271" stop-color="#d7c681"/><stop offset="0.4078" stop-color="#b08f6a"/><stop offset="0.4466" stop-color="#8c5c54"/><stop offset="0.5654" stop-color="#9f7770"/><stop offset="0.7075" stop-color="#b3938e"/><stop offset="0.8269" stop-color="#c9b4b1"/><stop offset="1.0000" stop-color="#e0d5d3"/></linearGradient><linearGradient id="g172" gradientUnits="userSpaceOnUse" x1="0" y1="344.2" x2="0" y2="606.8"><stop offset="0.0000" stop-color="#19d16b"/><stop offset="0.0914" stop-color="#3bd872"/><stop offset="0.1377" stop-color="#93e983"/><stop offset="0.1878" stop-color="#ffff99"/><stop offset="0.1888" stop-color="#fefd98"/><stop offset="0.3232" stop-color="#d7c681"/><stop offset="0.4045" stop-color="#b08f6a"/><stop offset="0.4440" stop-color="#8c5c54"/><stop offset="0.5634" stop-color="#9f7770"/><stop offset="0.7075" stop-color="#b3938e"/><stop offset="0.8259" stop-color="#c9b4b1"/><stop offset="0.9998" stop-color="#e0d5d3"/><stop offset="1.0000" stop-color="#e0d5d3"/></linearGradient><linearGradient id="g173" gradientUnits="userSpaceOnUse" x1="0" y1="344.2" x2="0" y2="606.8"><stop offset="0.0000" stop-color="#1ad16b"/><stop offset="0.0884" stop-color="#3bd872"/><stop offset="0.1326" stop-color="#93e983"/><stop offset="0.1823" stop-color="#ffff99"/><stop offset="0.1833" stop-color="#fefd98"/><stop offset="0.3193" stop-color="#d7c681"/><stop offset="0.4013" stop-color="#b08f6a"/><stop offset="0.4413" stop-color="#8c5c54"/><stop offset="0.5613" stop-color="#9f7770"/><stop offset="0.7075" stop-color="#b3938e"/><stop offset="0.8248" stop-color="#c9b4b1"/><stop offset="0.9982" stop-color="#e0d5d3"/><stop offset="1.0000" stop-color="#e0d5d3"/></linearGradient><linearGradient id="g174" gradientUnits="userSpaceOnUse" x1="0" y1="344.2" x2="0" y2="606.8"><stop offset="0.0000" stop-color="#1ad16b"/><stop offset="0.0853" stop-color="#3bd872"/><stop offset="0.1275" stop-color="#93e983"/><stop offset="0.1768" stop-color="#ffff99"/><stop offset="0.1778" stop-color="#fefd98"/><stop offset="0.3155" stop-color="#d7c681"/><stop offset="0.3980" stop-color="#b08f6a"/><stop offset="0.4387" stop-color="#8c5c54"/><stop offset="0.5593" stop-color="#9f7770"/><stop offset="0.7075" stop-color="#b3938e"/><stop offset="0.8238" stop-color="#c9b4b1"/><stop offset="0.9965" stop-color="#e0d5d3"/><stop offset="1.0000" stop-color="#e0d5d3"/></linearGradient><linearGradient id="g175" gradientUnits="userSpaceOnUse" x1="0" y1="344.2" x2="0" y2="606.8"><stop offset="0.0000" stop-color="#1bd16b"/><stop offset="0.0823" stop-color="#3bd872"/><stop offset="0.1224" stop-color="#93e983"/><stop offset="0.1713" stop-color="#ffff99"/><stop offset="0.1723" stop-color="#fefd98"/><stop offset="0.3116" stop-color="#d7c681"/><stop offset="0.3947" stop-color="#b08f6a"/><stop offset="0.4360" stop-color="#8c5c54"/><stop offset="0.5573" stop-color="#9f7770"/><stop offset="0.7075" stop-color="#b3938e"/><stop offset="0.8228" stop-color="#c9b4b1"/><stop offset="0.9948" stop-color="#e0d5d3"/><stop offset="1.0000" stop-color="#e0d5d3"/></linearGradient><linearGradient id="g176" gradientUnits="userSpaceOnUse" x1="0" y1="344.2" x2="0" y2="606.8"><stop offset="0.0000" stop-color="#1cd26c"/><stop offset="0.0800" stop-color="#3bd872"/><stop offset="0.1185" stop-color="#93e983"/><stop offset="0.1672" stop-color="#ffff99"/><stop offset="0.1682" stop-color="#fefd98"/><stop offset="0.3086" stop-color="#d7c681"/><stop offset="0.3923" stop-color="#b08f6a"/><stop offset="0.4340" stop-color="#8c5c54"/><stop offset="0.5557" stop-color="#9f7770"/><stop offset="0.7075" stop-color="#b3938e"/><stop offset="0.8220" stop-color="#c9b4b1"/><stop offset="0.9936" stop-color="#e0d5d3"/><stop offset="1.0000" stop-color="#e0d5d3"/></linearGradient><clipPath id="cb"><rect x="73.50" y="344.20" width="262.50" height="262.60"/></clipPath><clipPath id="ce"><rect x="401.50" y="344.20" width="262.50" height="262.60"/></clipPath><clipPath id="cc"><rect x="73.50" y="622.60" width="262.50" height="262.20"/></clipPath><clipPath id="cf"><rect x="401.50" y="622.60" width="262.50" height="262.20"/></clipPath><filter id="blur7" x="-5%" y="-5%" width="110%" height="110%"><feGaussianBlur stdDeviation="5.5"/></filter><filter id="blur3" x="-5%" y="-5%" width="110%" height="110%"><feGaussianBlur stdDeviation="2.5"/></filter><filter id="blur4" x="-5%" y="-5%" width="110%" height="110%"><feGaussianBlur stdDeviation="4"/></filter><filter id="blur" x="-5%" y="-5%" width="110%" height="110%"><feGaussianBlur stdDeviation="3"/></filter><linearGradient id="terr" x1="0" y1="0" x2="1" y2="0"><stop offset="0.000" stop-color="#2a52c8"/><stop offset="0.025" stop-color="#1e6bda"/><stop offset="0.050" stop-color="#1184ec"/><stop offset="0.075" stop-color="#099ae3"/><stop offset="0.100" stop-color="#06abb8"/><stop offset="0.125" stop-color="#03bd8c"/><stop offset="0.150" stop-color="#03cd67"/><stop offset="0.175" stop-color="#1fd26c"/><stop offset="0.200" stop-color="#3bd872"/><stop offset="0.225" stop-color="#56dd77"/><stop offset="0.250" stop-color="#72e37d"/><stop offset="0.275" stop-color="#8de882"/><stop offset="0.300" stop-color="#a9ee88"/><stop offset="0.325" stop-color="#c4f38d"/><stop offset="0.350" stop-color="#e0f993"/><stop offset="0.375" stop-color="#fcfe98"/><stop offset="0.400" stop-color="#f3ee92"/><stop offset="0.425" stop-color="#e5da89"/><stop offset="0.450" stop-color="#d7c681"/><stop offset="0.475" stop-color="#c9b379"/><stop offset="0.500" stop-color="#bb9f70"/><stop offset="0.525" stop-color="#ad8b68"/><stop offset="0.550" stop-color="#9f7860"/><stop offset="0.575" stop-color="#926457"/><stop offset="0.600" stop-color="#90625a"/><stop offset="0.625" stop-color="#976c65"/><stop offset="0.650" stop-color="#9f7770"/><stop offset="0.675" stop-color="#a6817b"/><stop offset="0.700" stop-color="#ad8b86"/><stop offset="0.725" stop-color="#b49590"/><stop offset="0.750" stop-color="#bba09b"/><stop offset="0.775" stop-color="#c2aaa6"/><stop offset="0.800" stop-color="#c9b4b1"/><stop offset="0.825" stop-color="#d1bebb"/><stop offset="0.850" stop-color="#d8c9c6"/><stop offset="0.875" stop-color="#dfd3d1"/><stop offset="0.900" stop-color="#e6dddc"/><stop offset="0.925" stop-color="#ede8e7"/><stop offset="0.950" stop-color="#f4f2f1"/><stop offset="0.975" stop-color="#fbfbfb"/><stop offset="1.000" stop-color="#ffffff"/></linearGradient><linearGradient id="bwr" x1="0" y1="0" x2="1" y2="0"><stop offset="0.000" stop-color="#0000ff"/><stop offset="0.500" stop-color="#ffffff"/><stop offset="1.000" stop-color="#ff0000"/></linearGradient></defs><rect width="685" height="977" fill="#fff"/><g clip-path="url(#cb)"><rect x="73.50" y="344.20" width="3.60" height="262.60" fill="url(#g1)"/><rect x="76.50" y="344.20" width="3.60" height="262.60" fill="url(#g2)"/><rect x="79.50" y="344.20" width="3.60" height="262.60" fill="url(#g3)"/><rect x="82.50" y="344.20" width="3.60" height="262.60" fill="url(#g4)"/><rect x="85.50" y="344.20" width="3.60" height="262.60" fill="url(#g5)"/><rect x="88.50" y="344.20" width="3.60" height="262.60" fill="url(#g6)"/><rect x="91.50" y="344.20" width="3.60" height="262.60" fill="url(#g7)"/><rect x="94.50" y="344.20" width="3.60" height="262.60" fill="url(#g8)"/><rect x="97.50" y="344.20" width="3.60" height="262.60" fill="url(#g9)"/><rect x="100.50" y="344.20" width="3.60" height="262.60" fill="url(#g10)"/><rect x="103.50" y="344.20" width="3.60" height="262.60" fill="url(#g11)"/><rect x="106.50" y="344.20" width="3.60" height="262.60" fill="url(#g12)"/><rect x="109.50" y="344.20" width="3.60" height="262.60" fill="url(#g13)"/><rect x="112.50" y="344.20" width="3.60" height="262.60" fill="url(#g14)"/><rect x="115.50" y="344.20" width="3.60" height="262.60" fill="url(#g15)"/><rect x="118.50" y="344.20" width="3.60" height="262.60" fill="url(#g16)"/><rect x="121.50" y="344.20" width="3.60" height="262.60" fill="url(#g17)"/><rect x="124.50" y="344.20" width="3.60" height="262.60" fill="url(#g18)"/><rect x="127.50" y="344.20" width="3.60" height="262.60" fill="url(#g19)"/><rect x="130.50" y="344.20" width="3.60" height="262.60" fill="url(#g20)"/><rect x="133.50" y="344.20" width="3.60" height="262.60" fill="url(#g21)"/><rect x="136.50" y="344.20" width="3.60" height="262.60" fill="url(#g22)"/><rect x="139.50" y="344.20" width="3.60" height="262.60" fill="url(#g23)"/><rect x="142.50" y="344.20" width="3.60" height="262.60" fill="url(#g24)"/><rect x="145.50" y="344.20" width="3.60" height="262.60" fill="url(#g25)"/><rect x="148.50" y="344.20" width="3.60" height="262.60" fill="url(#g26)"/><rect x="151.50" y="344.20" width="3.60" height="262.60" fill="url(#g27)"/><rect x="154.50" y="344.20" width="3.60" height="262.60" fill="url(#g28)"/><rect x="157.50" y="344.20" width="3.60" height="262.60" fill="url(#g29)"/><rect x="160.50" y="344.20" width="3.60" height="262.60" fill="url(#g30)"/><rect x="163.50" y="344.20" width="3.60" height="262.60" fill="url(#g31)"/><rect x="166.50" y="344.20" width="3.60" height="262.60" fill="url(#g32)"/><rect x="169.50" y="344.20" width="3.60" height="262.60" fill="url(#g33)"/><rect x="172.50" y="344.20" width="3.60" height="262.60" fill="url(#g34)"/><rect x="175.50" y="344.20" width="3.60" height="262.60" fill="url(#g35)"/><rect x="178.50" y="344.20" width="3.60" height="262.60" fill="url(#g36)"/><rect x="181.50" y="344.20" width="3.60" height="262.60" fill="url(#g37)"/><rect x="184.50" y="344.20" width="3.60" height="262.60" fill="url(#g38)"/><rect x="187.50" y="344.20" width="3.60" height="262.60" fill="url(#g39)"/><rect x="190.50" y="344.20" width="3.60" height="262.60" fill="url(#g40)"/><rect x="193.50" y="344.20" width="3.60" height="262.60" fill="url(#g41)"/><rect x="196.50" y="344.20" width="3.60" height="262.60" fill="url(#g42)"/><rect x="199.50" y="344.20" width="3.60" height="262.60" fill="url(#g43)"/><rect x="202.50" y="344.20" width="3.60" height="262.60" fill="url(#g44)"/><rect x="205.50" y="344.20" width="3.60" height="262.60" fill="url(#g45)"/><rect x="208.50" y="344.20" width="3.60" height="262.60" fill="url(#g46)"/><rect x="211.50" y="344.20" width="3.60" height="262.60" fill="url(#g47)"/><rect x="214.50" y="344.20" width="3.60" height="262.60" fill="url(#g48)"/><rect x="217.50" y="344.20" width="3.60" height="262.60" fill="url(#g49)"/><rect x="220.50" y="344.20" width="3.60" height="262.60" fill="url(#g50)"/><rect x="223.50" y="344.20" width="3.60" height="262.60" fill="url(#g51)"/><rect x="226.50" y="344.20" width="3.60" height="262.60" fill="url(#g52)"/><rect x="229.50" y="344.20" width="3.60" height="262.60" fill="url(#g53)"/><rect x="232.50" y="344.20" width="3.60" height="262.60" fill="url(#g54)"/><rect x="235.50" y="344.20" width="3.60" height="262.60" fill="url(#g55)"/><rect x="238.50" y="344.20" width="3.60" height="262.60" fill="url(#g56)"/><rect x="241.50" y="344.20" width="3.60" height="262.60" fill="url(#g57)"/><rect x="244.50" y="344.20" width="3.60" height="262.60" fill="url(#g58)"/><rect x="247.50" y="344.20" width="3.60" height="262.60" fill="url(#g59)"/><rect x="250.50" y="344.20" width="3.60" height="262.60" fill="url(#g60)"/><rect x="253.50" y="344.20" width="3.60" height="262.60" fill="url(#g61)"/><rect x="256.50" y="344.20" width="3.60" height="262.60" fill="url(#g62)"/><rect x="259.50" y="344.20" width="3.60" height="262.60" fill="url(#g63)"/><rect x="262.50" y="344.20" width="3.60" height="262.60" fill="url(#g64)"/><rect x="265.50" y="344.20" width="3.60" height="262.60" fill="url(#g65)"/><rect x="268.50" y="344.20" width="3.60" height="262.60" fill="url(#g66)"/><rect x="271.50" y="344.20" width="3.60" height="262.60" fill="url(#g67)"/><rect x="274.50" y="344.20" width="3.60" height="262.60" fill="url(#g68)"/><rect x="277.50" y="344.20" width="3.60" height="262.60" fill="url(#g69)"/><rect x="280.50" y="344.20" width="3.60" height="262.60" fill="url(#g70)"/><rect x="283.50" y="344.20" width="3.60" height="262.60" fill="url(#g71)"/><rect x="286.50" y="344.20" width="3.60" height="262.60" fill="url(#g72)"/><rect x="289.50" y="344.20" width="3.60" height="262.60" fill="url(#g73)"/><rect x="292.50" y="344.20" width="3.60" height="262.60" fill="url(#g74)"/><rect x="295.50" y="344.20" width="3.60" height="262.60" fill="url(#g75)"/><rect x="298.50" y="344.20" width="3.60" height="262.60" fill="url(#g76)"/><rect x="301.50" y="344.20" width="3.60" height="262.60" fill="url(#g77)"/><rect x="304.50" y="344.20" width="3.60" height="262.60" fill="url(#g78)"/><rect x="307.50" y="344.20" width="3.60" height="262.60" fill="url(#g79)"/><rect x="310.50" y="344.20" width="3.60" height="262.60" fill="url(#g80)"/><rect x="313.50" y="344.20" width="3.60" height="262.60" fill="url(#g81)"/><rect x="316.50" y="344.20" width="3.60" height="262.60" fill="url(#g82)"/><rect x="319.50" y="344.20" width="3.60" height="262.60" fill="url(#g83)"/><rect x="322.50" y="344.20" width="3.60" height="262.60" fill="url(#g84)"/><rect x="325.50" y="344.20" width="3.60" height="262.60" fill="url(#g85)"/><rect x="328.50" y="344.20" width="3.60" height="262.60" fill="url(#g86)"/><rect x="331.50" y="344.20" width="3.60" height="262.60" fill="url(#g87)"/><rect x="334.50" y="344.20" width="2.10" height="262.60" fill="url(#g88)"/></g><g clip-path="url(#ce)"><rect x="401.50" y="344.20" width="3.60" height="262.60" fill="url(#g89)"/><rect x="404.50" y="344.20" width="3.60" height="262.60" fill="url(#g90)"/><rect x="407.50" y="344.20" width="3.60" height="262.60" fill="url(#g91)"/><rect x="410.50" y="344.20" width="3.60" height="262.60" fill="url(#g92)"/><rect x="413.50" y="344.20" width="3.60" height="262.60" fill="url(#g93)"/><rect x="416.50" y="344.20" width="3.60" height="262.60" fill="url(#g94)"/><rect x="419.50" y="344.20" width="3.60" height="262.60" fill="url(#g95)"/><rect x="422.50" y="344.20" width="3.60" height="262.60" fill="url(#g96)"/><rect x="425.50" y="344.20" width="3.60" height="262.60" fill="url(#g97)"/><rect x="428.50" y="344.20" width="3.60" height="262.60" fill="url(#g98)"/><rect x="431.50" y="344.20" width="3.60" height="262.60" fill="url(#g99)"/><rect x="434.50" y="344.20" width="3.60" height="262.60" fill="url(#g100)"/><rect x="437.50" y="344.20" width="3.60" height="262.60" fill="url(#g101)"/><rect x="440.50" y="344.20" width="3.60" height="262.60" fill="url(#g102)"/><rect x="443.50" y="344.20" width="3.60" height="262.60" fill="url(#g103)"/><rect x="446.50" y="344.20" width="3.60" height="262.60" fill="url(#g104)"/><rect x="449.50" y="344.20" width="3.60" height="262.60" fill="url(#g105)"/><rect x="452.50" y="344.20" width="3.60" height="262.60" fill="url(#g106)"/><rect x="455.50" y="344.20" width="3.60" height="262.60" fill="url(#g107)"/><rect x="458.50" y="344.20" width="3.60" height="262.60" fill="url(#g108)"/><rect x="461.50" y="344.20" width="3.60" height="262.60" fill="url(#g109)"/><rect x="464.50" y="344.20" width="3.60" height="262.60" fill="url(#g110)"/><rect x="467.50" y="344.20" width="3.60" height="262.60" fill="url(#g111)"/><rect x="470.50" y="344.20" width="3.60" height="262.60" fill="url(#g112)"/><rect x="473.50" y="344.20" width="3.60" height="262.60" fill="url(#g113)"/><rect x="476.50" y="344.20" width="3.60" height="262.60" fill="url(#g114)"/><rect x="479.50" y="344.20" width="3.60" height="262.60" fill="url(#g115)"/><rect x="482.50" y="344.20" width="3.60" height="262.60" fill="url(#g116)"/><rect x="485.50" y="344.20" width="3.60" height="262.60" fill="url(#g117)"/><rect x="488.50" y="344.20" width="3.60" height="262.60" fill="url(#g118)"/><rect x="491.50" y="344.20" width="3.60" height="262.60" fill="url(#g119)"/><rect x="494.50" y="344.20" width="3.60" height="262.60" fill="url(#g120)"/><rect x="497.50" y="344.20" width="3.60" height="262.60" fill="url(#g121)"/><rect x="500.50" y="344.20" width="3.60" height="262.60" fill="url(#g122)"/><rect x="503.50" y="344.20" width="3.60" height="262.60" fill="url(#g123)"/><rect x="506.50" y="344.20" width="3.60" height="262.60" fill="url(#g124)"/><rect x="509.50" y="344.20" width="3.60" height="262.60" fill="url(#g125)"/><rect x="512.50" y="344.20" width="3.60" height="262.60" fill="url(#g126)"/><rect x="515.50" y="344.20" width="3.60" height="262.60" fill="url(#g127)"/><rect x="518.50" y="344.20" width="3.60" height="262.60" fill="url(#g128)"/><rect x="521.50" y="344.20" width="3.60" height="262.60" fill="url(#g129)"/><rect x="524.50" y="344.20" width="3.60" height="262.60" fill="url(#g130)"/><rect x="527.50" y="344.20" width="3.60" height="262.60" fill="url(#g131)"/><rect x="530.50" y="344.20" width="3.60" height="262.60" fill="url(#g132)"/><rect x="533.50" y="344.20" width="3.60" height="262.60" fill="url(#g133)"/><rect x="536.50" y="344.20" width="3.60" height="262.60" fill="url(#g134)"/><rect x="539.50" y="344.20" width="3.60" height="262.60" fill="url(#g135)"/><rect x="542.50" y="344.20" width="3.60" height="262.60" fill="url(#g136)"/><rect x="545.50" y="344.20" width="3.60" height="262.60" fill="url(#g137)"/><rect x="548.50" y="344.20" width="3.60" height="262.60" fill="url(#g138)"/><rect x="551.50" y="344.20" width="3.60" height="262.60" fill="url(#g139)"/><rect x="554.50" y="344.20" width="3.60" height="262.60" fill="url(#g140)"/><rect x="557.50" y="344.20" width="3.60" height="262.60" fill="url(#g141)"/><rect x="560.50" y="344.20" width="3.60" height="262.60" fill="url(#g142)"/><rect x="563.50" y="344.20" width="3.60" height="262.60" fill="url(#g143)"/><rect x="566.50" y="344.20" width="3.60" height="262.60" fill="url(#g144)"/><rect x="569.50" y="344.20" width="3.60" height="262.60" fill="url(#g145)"/><rect x="572.50" y="344.20" width="3.60" height="262.60" fill="url(#g146)"/><rect x="575.50" y="344.20" width="3.60" height="262.60" fill="url(#g147)"/><rect x="578.50" y="344.20" width="3.60" height="262.60" fill="url(#g148)"/><rect x="581.50" y="344.20" width="3.60" height="262.60" fill="url(#g149)"/><rect x="584.50" y="344.20" width="3.60" height="262.60" fill="url(#g150)"/><rect x="587.50" y="344.20" width="3.60" height="262.60" fill="url(#g151)"/><rect x="590.50" y="344.20" width="3.60" height="262.60" fill="url(#g152)"/><rect x="593.50" y="344.20" width="3.60" height="262.60" fill="url(#g153)"/><rect x="596.50" y="344.20" width="3.60" height="262.60" fill="url(#g154)"/><rect x="599.50" y="344.20" width="3.60" height="262.60" fill="url(#g155)"/><rect x="602.50" y="344.20" width="3.60" height="262.60" fill="url(#g156)"/><rect x="605.50" y="344.20" width="3.60" height="262.60" fill="url(#g157)"/><rect x="608.50" y="344.20" width="3.60" height="262.60" fill="url(#g158)"/><rect x="611.50" y="344.20" width="3.60" height="262.60" fill="url(#g159)"/><rect x="614.50" y="344.20" width="3.60" height="262.60" fill="url(#g160)"/><rect x="617.50" y="344.20" width="3.60" height="262.60" fill="url(#g161)"/><rect x="620.50" y="344.20" width="3.60" height="262.60" fill="url(#g162)"/><rect x="623.50" y="344.20" width="3.60" height="262.60" fill="url(#g163)"/><rect x="626.50" y="344.20" width="3.60" height="262.60" fill="url(#g164)"/><rect x="629.50" y="344.20" width="3.60" height="262.60" fill="url(#g165)"/><rect x="632.50" y="344.20" width="3.60" height="262.60" fill="url(#g166)"/><rect x="635.50" y="344.20" width="3.60" height="262.60" fill="url(#g167)"/><rect x="638.50" y="344.20" width="3.60" height="262.60" fill="url(#g168)"/><rect x="641.50" y="344.20" width="3.60" height="262.60" fill="url(#g169)"/><rect x="644.50" y="344.20" width="3.60" height="262.60" fill="url(#g170)"/><rect x="647.50" y="344.20" width="3.60" height="262.60" fill="url(#g171)"/><rect x="650.50" y="344.20" width="3.60" height="262.60" fill="url(#g172)"/><rect x="653.50" y="344.20" width="3.60" height="262.60" fill="url(#g173)"/><rect x="656.50" y="344.20" width="3.60" height="262.60" fill="url(#g174)"/><rect x="659.50" y="344.20" width="3.60" height="262.60" fill="url(#g175)"/><rect x="662.50" y="344.20" width="2.10" height="262.60" fill="url(#g176)"/></g><g clip-path="url(#cc)"><g filter="url(#blur)"><rect x="60" y="610" width="290" height="290" fill="#f88080"/><polygon points="60.0,610.0 160.0,610.0 140.0,626.0 104.0,637.0 60.0,648.0" fill="#f65a5a"/><polyline points="66.0,655.0 104.0,643.0 133.0,634.0 165.0,624.0 190.0,616.0" fill="none" stroke="#9aa2f0" stroke-width="16.0" stroke-linecap="round" stroke-linejoin="round"/><polyline points="125.0,637.0 165.0,624.0 200.0,614.0" fill="none" stroke="#e8eaff" stroke-width="7.0" stroke-linecap="round" stroke-linejoin="round"/><polyline points="66.0,667.0 159.0,650.0 250.0,630.0 295.0,618.0" fill="none" stroke="#f86a6a" stroke-width="6.0" stroke-linecap="round" stroke-linejoin="round"/><polyline points="66.0,675.0 159.0,660.0 250.0,641.0 305.0,625.0" fill="none" stroke="#fff4f4" stroke-width="7.0" stroke-linecap="round" stroke-linejoin="round"/><polyline points="66.0,690.0 159.0,673.0 250.0,655.0 310.0,640.0" fill="none" stroke="#f23838" stroke-width="15.0" stroke-linecap="round" stroke-linejoin="round"/><polyline points="66.0,701.0 125.0,693.0" fill="none" stroke="#ffffff" stroke-width="5.0" stroke-linecap="round" stroke-linejoin="round"/><polyline points="178.0,651.0 197.0,649.0" fill="none" stroke="#eef0ff" stroke-width="5.0" stroke-linecap="round" stroke-linejoin="round"/><polyline points="250.0,633.0 272.0,627.0 305.0,620.0" fill="none" stroke="#fff0f0" stroke-width="7.0" stroke-linecap="round" stroke-linejoin="round"/><polyline points="250.0,651.0 280.0,641.0 308.0,632.0" fill="none" stroke="#ffd6d6" stroke-width="6.0" stroke-linecap="round" stroke-linejoin="round"/><polyline points="62.0,720.0 159.0,692.0" fill="none" stroke="#ff0000" stroke-width="23.0" stroke-linecap="round" stroke-linejoin="round"/><polyline points="159.0,690.0 245.0,667.0 300.0,652.0 345.0,638.0" fill="none" stroke="#ff0000" stroke-width="18.0" stroke-linecap="round" stroke-linejoin="round"/><polygon points="295.0,608.0 350.0,608.0 350.0,655.0 300.0,655.0 312.0,632.0" fill="#ff0000"/><polyline points="62.0,733.0 115.0,725.0" fill="none" stroke="#e6e8fc" stroke-width="8.0" stroke-linecap="round" stroke-linejoin="round"/><polyline points="112.0,725.0 159.0,708.0 245.0,684.0 298.0,668.0" fill="none" stroke="#ffffff" stroke-width="15.0" stroke-linecap="round" stroke-linejoin="round"/><polyline points="122.0,721.0 159.0,706.0 200.0,694.0 245.0,682.0 290.0,668.0" fill="none" stroke="#4a58ee" stroke-width="10.0" stroke-linecap="round" stroke-linejoin="round"/><polyline points="302.0,665.0 345.0,651.0" fill="none" stroke="#fff2f2" stroke-width="8.0" stroke-linecap="round" stroke-linejoin="round"/><polygon points="60.0,740.0 240.0,700.0 240.0,900.0 60.0,900.0" fill="#f78a8a"/><polyline points="62.0,745.0 120.0,731.0 165.0,720.0 200.0,711.0 245.0,700.0 290.0,688.0 320.0,680.0" fill="none" stroke="#f01010" stroke-width="14.0" stroke-linecap="round" stroke-linejoin="round"/><polyline points="62.0,754.0 159.0,735.0 200.0,727.0" fill="none" stroke="#fff2f2" stroke-width="5.0" stroke-linecap="round" stroke-linejoin="round"/><polyline points="70.0,763.0 120.0,756.0 170.0,745.0" fill="none" stroke="#f45050" stroke-width="18.0" stroke-linecap="round" stroke-linejoin="round"/><polyline points="96.0,778.0 131.0,770.0" fill="none" stroke="#ffe4e4" stroke-width="8.0" stroke-linecap="round" stroke-linejoin="round"/><polyline points="68.0,794.0 143.0,782.0 190.0,770.0" fill="none" stroke="#f46a6a" stroke-width="16.0" stroke-linecap="round" stroke-linejoin="round"/><polyline points="62.0,808.0 100.0,804.0" fill="none" stroke="#ffe8e8" stroke-width="8.0" stroke-linecap="round" stroke-linejoin="round"/><polyline points="70.0,820.0 120.0,817.0" fill="none" stroke="#f45454" stroke-width="14.0" stroke-linecap="round" stroke-linejoin="round"/><polyline points="100.0,833.0 150.0,828.0" fill="none" stroke="#fff0f0" stroke-width="6.0" stroke-linecap="round" stroke-linejoin="round"/><ellipse cx="116.0" cy="855.0" rx="16.0" ry="13.0" fill="#f44848" transform="rotate(-30.0 116.0 855.0)"/><ellipse cx="156.0" cy="829.0" rx="18.0" ry="11.0" fill="#f45050" transform="rotate(-35.0 156.0 829.0)"/><polygon points="60.0,860.0 100.0,872.0 105.0,900.0 60.0,900.0" fill="#ffdede"/><polyline points="133.0,737.0 156.0,733.0" fill="none" stroke="#d6dafc" stroke-width="7.0" stroke-linecap="round" stroke-linejoin="round"/><polyline points="138.0,772.0 150.0,767.0 168.0,759.0" fill="none" stroke="#c4c8f8" stroke-width="7.0" stroke-linecap="round" stroke-linejoin="round"/><polyline points="189.0,761.0 203.0,753.0" fill="none" stroke="#c4c8f8" stroke-width="7.0" stroke-linecap="round" stroke-linejoin="round"/><polyline points="215.0,750.0 232.0,740.0" fill="none" stroke="#c4c8f8" stroke-width="8.0" stroke-linecap="round" stroke-linejoin="round"/><polyline points="186.0,806.0 205.0,780.0" fill="none" stroke="#bcc0f6" stroke-width="8.0" stroke-linecap="round" stroke-linejoin="round"/><polyline points="122.0,824.0 136.0,818.0 150.0,812.0" fill="none" stroke="#c8ccf8" stroke-width="8.0" stroke-linecap="round" stroke-linejoin="round"/><polyline points="152.0,858.0 167.0,847.0" fill="none" stroke="#c4c8f8" stroke-width="7.0" stroke-linecap="round" stroke-linejoin="round"/><polyline points="219.0,835.0 226.0,823.0" fill="none" stroke="#c8ccf8" stroke-width="6.0" stroke-linecap="round" stroke-linejoin="round"/><polyline points="194.0,722.0 203.0,721.0" fill="none" stroke="#d8dcfc" stroke-width="4.0" stroke-linecap="round" stroke-linejoin="round"/><polyline points="211.0,720.0 219.0,717.0" fill="none" stroke="#c8ccf8" stroke-width="6.0" stroke-linecap="round" stroke-linejoin="round"/><polyline points="197.0,733.0 219.0,733.0 245.0,727.0" fill="none" stroke="#f24040" stroke-width="7.0" stroke-linecap="round" stroke-linejoin="round"/><polyline points="70.0,785.0 76.0,835.0" fill="none" stroke="#ffe6e6" stroke-width="10.0" stroke-linecap="round" stroke-linejoin="round"/><polyline points="100.0,836.0 150.0,826.0" fill="none" stroke="#fff0f0" stroke-width="8.0" stroke-linecap="round" stroke-linejoin="round"/><polyline points="90.0,785.0 140.0,775.0" fill="none" stroke="#ffe8e8" stroke-width="8.0" stroke-linecap="round" stroke-linejoin="round"/><polyline points="75.0,880.0 110.0,878.0" fill="none" stroke="#ffe4e4" stroke-width="10.0" stroke-linecap="round" stroke-linejoin="round"/><polyline points="292.0,668.0 270.0,690.0 250.0,731.0 222.0,770.0 206.0,809.0 196.0,835.0 188.0,854.0 176.0,890.0" fill="none" stroke="#ff0000" stroke-width="18.0" stroke-linecap="round" stroke-linejoin="round"/><polyline points="222.0,790.0 210.0,809.0 198.0,835.0 186.0,858.0 172.0,890.0" fill="none" stroke="#ff0000" stroke-width="26.0" stroke-linecap="round" stroke-linejoin="round"/><polyline points="290.0,688.0 264.0,731.0 240.0,770.0 228.0,800.0 222.0,835.0 212.0,854.0 204.0,890.0" fill="none" stroke="#fff2f2" stroke-width="8.0" stroke-linecap="round" stroke-linejoin="round"/><polyline points="312.0,676.0 296.0,705.0 279.0,731.0 260.0,770.0 248.0,809.0 236.0,835.0 225.0,854.0 216.0,890.0" fill="none" stroke="#ff0000" stroke-width="20.0" stroke-linecap="round" stroke-linejoin="round"/><polyline points="318.0,690.0 297.0,731.0 285.0,770.0 270.0,809.0 256.0,830.0" fill="none" stroke="#ffdede" stroke-width="10.0" stroke-linecap="round" stroke-linejoin="round"/><polyline points="256.0,830.0 248.0,842.0 240.0,856.0 230.0,876.0" fill="none" stroke="#8c92f2" stroke-width="9.0" stroke-linecap="round" stroke-linejoin="round"/><polyline points="328.0,700.0 316.0,716.0 305.0,738.0 298.0,755.0" fill="none" stroke="#f4f4ff" stroke-width="13.0" stroke-linecap="round" stroke-linejoin="round"/><polyline points="325.0,716.0 311.0,737.0 300.0,753.0" fill="none" stroke="#a4a8f2" stroke-width="9.0" stroke-linecap="round" stroke-linejoin="round"/><polyline points="345.0,700.0 331.0,731.0 322.0,770.0 310.0,800.0 295.0,825.0 272.0,855.0 256.0,880.0 250.0,892.0" fill="none" stroke="#ff0000" stroke-width="18.0" stroke-linecap="round" stroke-linejoin="round"/><polyline points="340.0,762.0 326.0,778.0" fill="none" stroke="#ffffff" stroke-width="8.0" stroke-linecap="round" stroke-linejoin="round"/><polyline points="336.0,772.0 319.0,809.0 306.0,836.0 293.0,859.0 279.0,882.0" fill="none" stroke="#eef0ff" stroke-width="14.0" stroke-linecap="round" stroke-linejoin="round"/><polyline points="333.0,780.0 319.0,809.0 306.0,836.0 293.0,859.0 279.0,882.0" fill="none" stroke="#8a90f0" stroke-width="9.0" stroke-linecap="round" stroke-linejoin="round"/><polygon points="322.0,815.0 340.0,790.0 340.0,900.0 292.0,900.0" fill="#fcb0b0"/></g></g><g clip-path="url(#cf)"><g filter="url(#blur7)"><rect x="379.6" y="600.8" width="22.4" height="22.3" fill="#ff9898"/><rect x="401.5" y="600.8" width="22.4" height="22.3" fill="#ff9898"/><rect x="423.4" y="600.8" width="22.4" height="22.3" fill="#ff1414"/><rect x="445.2" y="600.8" width="22.4" height="22.3" fill="#ff5e5e"/><rect x="467.1" y="600.8" width="22.4" height="22.3" fill="#ff1414"/><rect x="489.0" y="600.8" width="22.4" height="22.3" fill="#e3e3ff"/><rect x="510.9" y="600.8" width="22.4" height="22.3" fill="#e3e3ff"/><rect x="532.8" y="600.8" width="22.4" height="22.3" fill="#ff6c6c"/><rect x="554.6" y="600.8" width="22.4" height="22.3" fill="#ff4f4f"/><rect x="576.5" y="600.8" width="22.4" height="22.3" fill="#ff4040"/><rect x="598.4" y="600.8" width="22.4" height="22.3" fill="#f1f1ff"/><rect x="620.2" y="600.8" width="22.4" height="22.3" fill="#ff7b7b"/><rect x="642.1" y="600.8" width="22.4" height="22.3" fill="#ff0606"/><rect x="664.0" y="600.8" width="22.4" height="22.3" fill="#ff0606"/><rect x="379.6" y="622.6" width="22.4" height="22.3" fill="#ff9898"/><rect x="401.5" y="622.6" width="22.4" height="22.3" fill="#ff9898"/><rect x="423.4" y="622.6" width="22.4" height="22.3" fill="#ff1414"/><rect x="445.2" y="622.6" width="22.4" height="22.3" fill="#ff5e5e"/><rect x="467.1" y="622.6" width="22.4" height="22.3" fill="#ff1414"/><rect x="489.0" y="622.6" width="22.4" height="22.3" fill="#e3e3ff"/><rect x="510.9" y="622.6" width="22.4" height="22.3" fill="#e3e3ff"/><rect x="532.8" y="622.6" width="22.4" height="22.3" fill="#ff6c6c"/><rect x="554.6" y="622.6" width="22.4" height="22.3" fill="#ff4f4f"/><rect x="576.5" y="622.6" width="22.4" height="22.3" fill="#ff4040"/><rect x="598.4" y="622.6" width="22.4" height="22.3" fill="#f1f1ff"/><rect x="620.2" y="622.6" width="22.4" height="22.3" fill="#ff7b7b"/><rect x="642.1" y="622.6" width="22.4" height="22.3" fill="#ff0606"/><rect x="664.0" y="622.6" width="22.4" height="22.3" fill="#ff0606"/><rect x="379.6" y="644.5" width="22.4" height="22.3" fill="#ffc4c4"/><rect x="401.5" y="644.5" width="22.4" height="22.3" fill="#ffc4c4"/><rect x="423.4" y="644.5" width="22.4" height="22.3" fill="#ff5e5e"/><rect x="445.2" y="644.5" width="22.4" height="22.3" fill="#ff4040"/><rect x="467.1" y="644.5" width="22.4" height="22.3" fill="#ff6c6c"/><rect x="489.0" y="644.5" width="22.4" height="22.3" fill="#ffd3d3"/><rect x="510.9" y="644.5" width="22.4" height="22.3" fill="#ff9898"/><rect x="532.8" y="644.5" width="22.4" height="22.3" fill="#ffc4c4"/><rect x="554.6" y="644.5" width="22.4" height="22.3" fill="#ffa7a7"/><rect x="576.5" y="644.5" width="22.4" height="22.3" fill="#ff3232"/><rect x="598.4" y="644.5" width="22.4" height="22.3" fill="#ff7b7b"/><rect x="620.2" y="644.5" width="22.4" height="22.3" fill="#ff7b7b"/><rect x="642.1" y="644.5" width="22.4" height="22.3" fill="#ff1414"/><rect x="664.0" y="644.5" width="22.4" height="22.3" fill="#ff1414"/><rect x="379.6" y="666.3" width="22.4" height="22.3" fill="#ff8a8a"/><rect x="401.5" y="666.3" width="22.4" height="22.3" fill="#ff8a8a"/><rect x="423.4" y="666.3" width="22.4" height="22.3" fill="#ff3232"/><rect x="445.2" y="666.3" width="22.4" height="22.3" fill="#ff4f4f"/><rect x="467.1" y="666.3" width="22.4" height="22.3" fill="#ff5e5e"/><rect x="489.0" y="666.3" width="22.4" height="22.3" fill="#ff6c6c"/><rect x="510.9" y="666.3" width="22.4" height="22.3" fill="#ff7b7b"/><rect x="532.8" y="666.3" width="22.4" height="22.3" fill="#e3e3ff"/><rect x="554.6" y="666.3" width="22.4" height="22.3" fill="#ff6c6c"/><rect x="576.5" y="666.3" width="22.4" height="22.3" fill="#ff5e5e"/><rect x="598.4" y="666.3" width="22.4" height="22.3" fill="#ff7b7b"/><rect x="620.2" y="666.3" width="22.4" height="22.3" fill="#ffa7a7"/><rect x="642.1" y="666.3" width="22.4" height="22.3" fill="#ff8a8a"/><rect x="664.0" y="666.3" width="22.4" height="22.3" fill="#ff8a8a"/><rect x="379.6" y="688.1" width="22.4" height="22.3" fill="#ff6c6c"/><rect x="401.5" y="688.1" width="22.4" height="22.3" fill="#ff6c6c"/><rect x="423.4" y="688.1" width="22.4" height="22.3" fill="#ff4040"/><rect x="445.2" y="688.1" width="22.4" height="22.3" fill="#ff4f4f"/><rect x="467.1" y="688.1" width="22.4" height="22.3" fill="#ff7b7b"/><rect x="489.0" y="688.1" width="22.4" height="22.3" fill="#ff0606"/><rect x="510.9" y="688.1" width="22.4" height="22.3" fill="#ffa7a7"/><rect x="532.8" y="688.1" width="22.4" height="22.3" fill="#f1f1ff"/><rect x="554.6" y="688.1" width="22.4" height="22.3" fill="#ffa7a7"/><rect x="576.5" y="688.1" width="22.4" height="22.3" fill="#ff7b7b"/><rect x="598.4" y="688.1" width="22.4" height="22.3" fill="#ffa7a7"/><rect x="620.2" y="688.1" width="22.4" height="22.3" fill="#ff4f4f"/><rect x="642.1" y="688.1" width="22.4" height="22.3" fill="#ff6c6c"/><rect x="664.0" y="688.1" width="22.4" height="22.3" fill="#ff6c6c"/><rect x="379.6" y="710.0" width="22.4" height="22.3" fill="#ff5e5e"/><rect x="401.5" y="710.0" width="22.4" height="22.3" fill="#ff5e5e"/><rect x="423.4" y="710.0" width="22.4" height="22.3" fill="#ff3232"/><rect x="445.2" y="710.0" width="22.4" height="22.3" fill="#ff4f4f"/><rect x="467.1" y="710.0" width="22.4" height="22.3" fill="#ff8a8a"/><rect x="489.0" y="710.0" width="22.4" height="22.3" fill="#ff3232"/><rect x="510.9" y="710.0" width="22.4" height="22.3" fill="#fff0f0"/><rect x="532.8" y="710.0" width="22.4" height="22.3" fill="#ffa7a7"/><rect x="554.6" y="710.0" width="22.4" height="22.3" fill="#ffa7a7"/><rect x="576.5" y="710.0" width="22.4" height="22.3" fill="#ff9898"/><rect x="598.4" y="710.0" width="22.4" height="22.3" fill="#ff4040"/><rect x="620.2" y="710.0" width="22.4" height="22.3" fill="#ff1414"/><rect x="642.1" y="710.0" width="22.4" height="22.3" fill="#ffb6b6"/><rect x="664.0" y="710.0" width="22.4" height="22.3" fill="#ffb6b6"/><rect x="379.6" y="731.9" width="22.4" height="22.3" fill="#ff6c6c"/><rect x="401.5" y="731.9" width="22.4" height="22.3" fill="#ff6c6c"/><rect x="423.4" y="731.9" width="22.4" height="22.3" fill="#ff0606"/><rect x="445.2" y="731.9" width="22.4" height="22.3" fill="#ff7b7b"/><rect x="467.1" y="731.9" width="22.4" height="22.3" fill="#ff5e5e"/><rect x="489.0" y="731.9" width="22.4" height="22.3" fill="#ffa7a7"/><rect x="510.9" y="731.9" width="22.4" height="22.3" fill="#ffb6b6"/><rect x="532.8" y="731.9" width="22.4" height="22.3" fill="#ff4f4f"/><rect x="554.6" y="731.9" width="22.4" height="22.3" fill="#e3e3ff"/><rect x="576.5" y="731.9" width="22.4" height="22.3" fill="#ff9898"/><rect x="598.4" y="731.9" width="22.4" height="22.3" fill="#ff4f4f"/><rect x="620.2" y="731.9" width="22.4" height="22.3" fill="#ff5e5e"/><rect x="642.1" y="731.9" width="22.4" height="22.3" fill="#ffe2e2"/><rect x="664.0" y="731.9" width="22.4" height="22.3" fill="#ffe2e2"/><rect x="379.6" y="753.7" width="22.4" height="22.3" fill="#ff6c6c"/><rect x="401.5" y="753.7" width="22.4" height="22.3" fill="#ff6c6c"/><rect x="423.4" y="753.7" width="22.4" height="22.3" fill="#ff5e5e"/><rect x="445.2" y="753.7" width="22.4" height="22.3" fill="#ff3232"/><rect x="467.1" y="753.7" width="22.4" height="22.3" fill="#c7c7ff"/><rect x="489.0" y="753.7" width="22.4" height="22.3" fill="#ffa7a7"/><rect x="510.9" y="753.7" width="22.4" height="22.3" fill="#ff4f4f"/><rect x="532.8" y="753.7" width="22.4" height="22.3" fill="#ff4040"/><rect x="554.6" y="753.7" width="22.4" height="22.3" fill="#b9b9ff"/><rect x="576.5" y="753.7" width="22.4" height="22.3" fill="#ff2323"/><rect x="598.4" y="753.7" width="22.4" height="22.3" fill="#ffa7a7"/><rect x="620.2" y="753.7" width="22.4" height="22.3" fill="#ffb6b6"/><rect x="642.1" y="753.7" width="22.4" height="22.3" fill="#ff8a8a"/><rect x="664.0" y="753.7" width="22.4" height="22.3" fill="#ff8a8a"/><rect x="379.6" y="775.5" width="22.4" height="22.3" fill="#ff7b7b"/><rect x="401.5" y="775.5" width="22.4" height="22.3" fill="#ff7b7b"/><rect x="423.4" y="775.5" width="22.4" height="22.3" fill="#ff4040"/><rect x="445.2" y="775.5" width="22.4" height="22.3" fill="#ffe2e2"/><rect x="467.1" y="775.5" width="22.4" height="22.3" fill="#b9b9ff"/><rect x="489.0" y="775.5" width="22.4" height="22.3" fill="#ff1414"/><rect x="510.9" y="775.5" width="22.4" height="22.3" fill="#ff4f4f"/><rect x="532.8" y="775.5" width="22.4" height="22.3" fill="#c7c7ff"/><rect x="554.6" y="775.5" width="22.4" height="22.3" fill="#ffc4c4"/><rect x="576.5" y="775.5" width="22.4" height="22.3" fill="#ff3232"/><rect x="598.4" y="775.5" width="22.4" height="22.3" fill="#ffb6b6"/><rect x="620.2" y="775.5" width="22.4" height="22.3" fill="#ff8a8a"/><rect x="642.1" y="775.5" width="22.4" height="22.3" fill="#ff8a8a"/><rect x="664.0" y="775.5" width="22.4" height="22.3" fill="#ff8a8a"/><rect x="379.6" y="797.4" width="22.4" height="22.3" fill="#ff4f4f"/><rect x="401.5" y="797.4" width="22.4" height="22.3" fill="#ff4f4f"/><rect x="423.4" y="797.4" width="22.4" height="22.3" fill="#ff5e5e"/><rect x="445.2" y="797.4" width="22.4" height="22.3" fill="#e3e3ff"/><rect x="467.1" y="797.4" width="22.4" height="22.3" fill="#ffa7a7"/><rect x="489.0" y="797.4" width="22.4" height="22.3" fill="#ff0606"/><rect x="510.9" y="797.4" width="22.4" height="22.3" fill="#ff5e5e"/><rect x="532.8" y="797.4" width="22.4" height="22.3" fill="#9d9dff"/><rect x="554.6" y="797.4" width="22.4" height="22.3" fill="#ff8a8a"/><rect x="576.5" y="797.4" width="22.4" height="22.3" fill="#ff5e5e"/><rect x="598.4" y="797.4" width="22.4" height="22.3" fill="#9d9dff"/><rect x="620.2" y="797.4" width="22.4" height="22.3" fill="#ff7b7b"/><rect x="642.1" y="797.4" width="22.4" height="22.3" fill="#ff7b7b"/><rect x="664.0" y="797.4" width="22.4" height="22.3" fill="#ff7b7b"/><rect x="379.6" y="819.2" width="22.4" height="22.3" fill="#ff5e5e"/><rect x="401.5" y="819.2" width="22.4" height="22.3" fill="#ff5e5e"/><rect x="423.4" y="819.2" width="22.4" height="22.3" fill="#ffe2e2"/><rect x="445.2" y="819.2" width="22.4" height="22.3" fill="#ffa7a7"/><rect x="467.1" y="819.2" width="22.4" height="22.3" fill="#ff7b7b"/><rect x="489.0" y="819.2" width="22.4" height="22.3" fill="#ff3232"/><rect x="510.9" y="819.2" width="22.4" height="22.3" fill="#ffc4c4"/><rect x="532.8" y="819.2" width="22.4" height="22.3" fill="#ffc4c4"/><rect x="554.6" y="819.2" width="22.4" height="22.3" fill="#ff4f4f"/><rect x="576.5" y="819.2" width="22.4" height="22.3" fill="#ff4f4f"/><rect x="598.4" y="819.2" width="22.4" height="22.3" fill="#e3e3ff"/><rect x="620.2" y="819.2" width="22.4" height="22.3" fill="#ff4f4f"/><rect x="642.1" y="819.2" width="22.4" height="22.3" fill="#ff8a8a"/><rect x="664.0" y="819.2" width="22.4" height="22.3" fill="#ff8a8a"/><rect x="379.6" y="841.1" width="22.4" height="22.3" fill="#ffa7a7"/><rect x="401.5" y="841.1" width="22.4" height="22.3" fill="#ffa7a7"/><rect x="423.4" y="841.1" width="22.4" height="22.3" fill="#8f8fff"/><rect x="445.2" y="841.1" width="22.4" height="22.3" fill="#ffa7a7"/><rect x="467.1" y="841.1" width="22.4" height="22.3" fill="#ff7b7b"/><rect x="489.0" y="841.1" width="22.4" height="22.3" fill="#ff6c6c"/><rect x="510.9" y="841.1" width="22.4" height="22.3" fill="#c7c7ff"/><rect x="532.8" y="841.1" width="22.4" height="22.3" fill="#ff6c6c"/><rect x="554.6" y="841.1" width="22.4" height="22.3" fill="#ff3232"/><rect x="576.5" y="841.1" width="22.4" height="22.3" fill="#ffb6b6"/><rect x="598.4" y="841.1" width="22.4" height="22.3" fill="#ff4f4f"/><rect x="620.2" y="841.1" width="22.4" height="22.3" fill="#ff4040"/><rect x="642.1" y="841.1" width="22.4" height="22.3" fill="#ffe2e2"/><rect x="664.0" y="841.1" width="22.4" height="22.3" fill="#ffe2e2"/><rect x="379.6" y="862.9" width="22.4" height="22.3" fill="#ababff"/><rect x="401.5" y="862.9" width="22.4" height="22.3" fill="#ababff"/><rect x="423.4" y="862.9" width="22.4" height="22.3" fill="#ffc4c4"/><rect x="445.2" y="862.9" width="22.4" height="22.3" fill="#ff7b7b"/><rect x="467.1" y="862.9" width="22.4" height="22.3" fill="#ff6c6c"/><rect x="489.0" y="862.9" width="22.4" height="22.3" fill="#ff7b7b"/><rect x="510.9" y="862.9" width="22.4" height="22.3" fill="#e3e3ff"/><rect x="532.8" y="862.9" width="22.4" height="22.3" fill="#ff8a8a"/><rect x="554.6" y="862.9" width="22.4" height="22.3" fill="#ff1414"/><rect x="576.5" y="862.9" width="22.4" height="22.3" fill="#c7c7ff"/><rect x="598.4" y="862.9" width="22.4" height="22.3" fill="#ff4040"/><rect x="620.2" y="862.9" width="22.4" height="22.3" fill="#ff4f4f"/><rect x="642.1" y="862.9" width="22.4" height="22.3" fill="#d5d5ff"/><rect x="664.0" y="862.9" width="22.4" height="22.3" fill="#d5d5ff"/><rect x="379.6" y="884.8" width="22.4" height="22.3" fill="#ababff"/><rect x="401.5" y="884.8" width="22.4" height="22.3" fill="#ababff"/><rect x="423.4" y="884.8" width="22.4" height="22.3" fill="#ffc4c4"/><rect x="445.2" y="884.8" width="22.4" height="22.3" fill="#ff7b7b"/><rect x="467.1" y="884.8" width="22.4" height="22.3" fill="#ff6c6c"/><rect x="489.0" y="884.8" width="22.4" height="22.3" fill="#ff7b7b"/><rect x="510.9" y="884.8" width="22.4" height="22.3" fill="#e3e3ff"/><rect x="532.8" y="884.8" width="22.4" height="22.3" fill="#ff8a8a"/><rect x="554.6" y="884.8" width="22.4" height="22.3" fill="#ff1414"/><rect x="576.5" y="884.8" width="22.4" height="22.3" fill="#c7c7ff"/><rect x="598.4" y="884.8" width="22.4" height="22.3" fill="#ff4040"/><rect x="620.2" y="884.8" width="22.4" height="22.3" fill="#ff4f4f"/><rect x="642.1" y="884.8" width="22.4" height="22.3" fill="#d5d5ff"/><rect x="664.0" y="884.8" width="22.4" height="22.3" fill="#d5d5ff"/></g><g filter="url(#blur3)"><polyline points="588.0,745.0 575.0,812.0 564.0,841.0 552.0,890.0" fill="none" stroke="#f01818" stroke-width="16.0" stroke-linecap="round" stroke-linejoin="round" stroke-opacity="0.60"/><polyline points="632.0,812.0 620.0,845.0 612.0,890.0" fill="none" stroke="#f02020" stroke-width="16.0" stroke-linecap="round" stroke-linejoin="round" stroke-opacity="0.50"/><polyline points="500.0,755.0 486.0,812.0 474.0,870.0 470.0,892.0" fill="none" stroke="#f00c0c" stroke-width="18.0" stroke-linecap="round" stroke-linejoin="round" stroke-opacity="0.60"/><polyline points="514.0,690.0 499.0,707.0 486.0,722.0" fill="none" stroke="#f00808" stroke-width="16.0" stroke-linecap="round" stroke-linejoin="round" stroke-opacity="0.70"/><polyline points="568.0,640.0 545.0,705.0" fill="none" stroke="#f6f0f6" stroke-width="22.0" stroke-linecap="round" stroke-linejoin="round" stroke-opacity="0.60"/><polyline points="562.0,651.0 545.0,699.0" fill="none" stroke="#7c82ec" stroke-width="11.0" stroke-linecap="round" stroke-linejoin="round" stroke-opacity="0.85"/><polyline points="570.0,748.0 552.0,787.0 542.0,804.0 538.0,822.0" fill="none" stroke="#f6f0f6" stroke-width="22.0" stroke-linecap="round" stroke-linejoin="round" stroke-opacity="0.60"/><polyline points="565.0,760.0 552.0,787.0 542.0,804.0 540.0,816.0" fill="none" stroke="#7c84ec" stroke-width="10.0" stroke-linecap="round" stroke-linejoin="round" stroke-opacity="0.80"/><polyline points="614.0,798.0 604.0,827.0" fill="none" stroke="#7c84ec" stroke-width="9.0" stroke-linecap="round" stroke-linejoin="round" stroke-opacity="0.80"/><polyline points="575.0,862.0 568.0,878.0" fill="none" stroke="#8c90ee" stroke-width="9.0" stroke-linecap="round" stroke-linejoin="round" stroke-opacity="0.80"/><polyline points="482.0,742.0 472.0,758.0 449.0,802.0 428.0,841.0 414.0,877.0 408.0,892.0" fill="none" stroke="#eeeefc" stroke-width="24.0" stroke-linecap="round" stroke-linejoin="round" stroke-opacity="0.60"/><polyline points="482.0,742.0 472.0,758.0 449.0,802.0 428.0,841.0 414.0,877.0 408.0,892.0" fill="none" stroke="#8c90f0" stroke-width="14.0" stroke-linecap="round" stroke-linejoin="round" stroke-opacity="0.80"/><polyline points="521.0,818.0 505.0,873.5" fill="none" stroke="#9094f0" stroke-width="9.0" stroke-linecap="round" stroke-linejoin="round" stroke-opacity="0.70"/><polyline points="514.0,615.0 500.0,635.0 485.0,655.0 476.0,680.0" fill="none" stroke="#fff0f0" stroke-width="12.0" stroke-linecap="round" stroke-linejoin="round" stroke-opacity="0.60"/><polyline points="486.0,750.0 500.0,741.0 517.0,725.0 530.0,710.0 545.0,699.0" fill="none" stroke="#fff0f0" stroke-width="14.0" stroke-linecap="round" stroke-linejoin="round" stroke-opacity="0.50"/></g></g><rect x="175.0" y="64.8" width="25.8" height="262.5" fill="#7676fe"/><rect x="424.0" y="64.8" width="18.5" height="262.5" fill="#7676fe"/><rect x="509.4" y="64.8" width="23.6" height="262.5" fill="#7676fe"/><rect x="595.2" y="64.8" width="18.4" height="262.5" fill="#7676fe"/><path d="M74.10 323.10C75.47 322.92 79.58 322.68 82.30 322.00C85.02 321.32 87.33 320.18 90.40 319.00C93.47 317.82 97.28 316.78 100.70 314.90C104.12 313.02 107.85 310.43 110.90 307.70C113.95 304.97 116.28 302.07 119.00 298.50C121.72 294.93 124.47 290.72 127.20 286.30C129.93 281.88 133.02 276.43 135.40 272.00C137.78 267.57 139.45 264.47 141.50 259.70C143.55 254.93 145.32 248.68 147.70 243.40C150.08 238.12 153.08 232.95 155.80 228.00C158.52 223.05 161.62 217.27 164.00 213.70C166.38 210.13 168.22 208.13 170.10 206.60C171.98 205.07 173.42 204.50 175.30 204.50C177.18 204.50 178.85 205.30 181.40 206.60C183.95 207.90 187.53 210.87 190.60 212.30C193.67 213.73 197.22 215.03 199.80 215.20C202.38 215.37 204.02 214.47 206.10 213.30C208.18 212.13 209.92 210.08 212.30 208.20C214.68 206.32 217.33 205.07 220.40 202.00C223.47 198.93 227.28 193.88 230.70 189.80C234.12 185.72 237.50 181.58 240.90 177.50C244.30 173.42 248.03 168.20 251.10 165.30C254.17 162.40 256.58 162.15 259.30 160.10C262.02 158.05 264.68 155.72 267.40 153.00C270.12 150.28 273.22 147.03 275.60 143.80C277.98 140.57 279.32 136.50 281.70 133.60C284.08 130.70 286.83 128.97 289.90 126.40C292.97 123.83 297.37 120.92 300.10 118.20C302.83 115.48 304.25 113.50 306.30 110.10C308.35 106.70 310.37 102.07 312.40 97.80C314.43 93.53 316.45 88.25 318.50 84.50C320.55 80.75 322.65 77.85 324.70 75.30C326.75 72.75 328.93 70.73 330.80 69.20C332.67 67.67 335.05 66.62 335.90 66.10" fill="none" stroke="#e02424" stroke-width="1.5" stroke-linejoin="round"/><path d="M401.10 315.90C401.95 314.53 404.33 310.60 406.20 307.70C408.07 304.80 410.27 301.90 412.30 298.50C414.33 295.10 416.53 290.12 418.40 287.30C420.27 284.48 421.97 282.45 423.50 281.60C425.03 280.75 426.07 281.08 427.60 282.20C429.13 283.32 430.98 286.08 432.70 288.30C434.42 290.52 436.18 293.70 437.90 295.50C439.62 297.30 441.13 298.77 443.00 299.10C444.87 299.43 446.72 298.45 449.10 297.50C451.48 296.55 454.58 294.58 457.30 293.40C460.02 292.22 463.02 291.75 465.40 290.40C467.78 289.05 469.55 287.68 471.60 285.30C473.65 282.92 475.67 279.85 477.70 276.10C479.73 272.35 481.75 267.58 483.80 262.80C485.85 258.02 487.95 252.52 490.00 247.40C492.05 242.28 494.07 236.68 496.10 232.10C498.13 227.52 500.15 223.30 502.20 219.90C504.25 216.50 506.18 213.17 508.40 211.70C510.62 210.23 513.12 210.87 515.50 211.10C517.88 211.33 520.15 212.77 522.70 213.10C525.25 213.43 528.90 213.23 530.80 213.10C532.70 212.97 532.53 212.95 534.10 212.30C535.67 211.65 538.33 210.92 540.20 209.20C542.07 207.48 543.60 204.55 545.30 202.00C547.00 199.45 548.52 196.78 550.40 193.90C552.28 191.02 554.72 186.65 556.60 184.70C558.48 182.75 560.00 183.57 561.70 182.20C563.40 180.83 564.93 179.50 566.80 176.50C568.67 173.50 570.87 168.63 572.90 164.20C574.93 159.77 576.95 154.67 579.00 149.90C581.05 145.13 583.15 139.00 585.20 135.60C587.25 132.20 589.60 130.87 591.30 129.50C593.00 128.13 593.70 127.47 595.40 127.40C597.10 127.33 599.45 128.58 601.50 129.10C603.55 129.62 606.00 130.27 607.70 130.50C609.40 130.73 610.35 130.83 611.70 130.50C613.05 130.17 614.08 130.72 615.80 128.50C617.52 126.28 619.95 121.30 622.00 117.20C624.05 113.10 626.07 107.98 628.10 103.90C630.13 99.82 632.15 95.58 634.20 92.70C636.25 89.82 638.68 87.97 640.40 86.60C642.12 85.23 643.15 85.70 644.50 84.50C645.85 83.30 646.80 81.27 648.50 79.40C650.20 77.53 652.65 75.17 654.70 73.30C656.75 71.43 659.27 69.57 660.80 68.20C662.33 66.83 663.38 65.62 663.90 65.10" fill="none" stroke="#111" stroke-width="1.5" stroke-linejoin="round"/><line x1="73.5" y1="420.3" x2="336.0" y2="420.3" stroke="#e8281c" stroke-width="2.2" stroke-dasharray="12 11.66"/><line x1="401.5" y1="556.4" x2="664.0" y2="556.4" stroke="#111" stroke-width="2.2" stroke-dasharray="11.7 11.93" stroke-dashoffset="-1.9"/><rect x="73.5" y="892.6" width="262.5" height="12.3" fill="url(#bwr)" stroke="#1a1a1a" stroke-width="1.5"/><rect x="401.5" y="892.6" width="262.5" height="12.3" fill="url(#bwr)" stroke="#1a1a1a" stroke-width="1.5"/><path d="M73.5 904.9V911.5M204.6 904.9V911.5M336.0 904.9V911.5M401.5 904.9V911.5M533 904.9V911.5M664.0 904.9V911.5" stroke="#1a1a1a" stroke-width="1.5"/><rect x="73.50" y="64.80" width="262.50" height="262.50" fill="none" stroke="#1a1a1a" stroke-width="1.5"/><rect x="401.50" y="64.80" width="262.50" height="262.50" fill="none" stroke="#1a1a1a" stroke-width="1.5"/><rect x="73.50" y="344.20" width="262.50" height="262.60" fill="none" stroke="#1a1a1a" stroke-width="1.5"/><rect x="401.50" y="344.20" width="262.50" height="262.60" fill="none" stroke="#1a1a1a" stroke-width="1.5"/><rect x="73.50" y="622.60" width="262.50" height="262.20" fill="none" stroke="#1a1a1a" stroke-width="1.5"/><rect x="401.50" y="622.60" width="262.50" height="262.20" fill="none" stroke="#1a1a1a" stroke-width="1.5"/><path d="M123.00 64.80V71.30M123.00 327.30V320.80M205.00 64.80V71.30M205.00 327.30V320.80M287.00 64.80V71.30M287.00 327.30V320.80M448.40 64.80V71.30M448.40 327.30V320.80M532.40 64.80V71.30M532.40 327.30V320.80M616.40 64.80V71.30M616.40 327.30V320.80M120.40 344.20V350.70M120.40 606.80V600.30M204.40 344.20V350.70M204.40 606.80V600.30M288.40 344.20V350.70M288.40 606.80V600.30M448.40 344.20V350.70M448.40 606.80V600.30M532.40 344.20V350.70M532.40 606.80V600.30M616.40 344.20V350.70M616.40 606.80V600.30M120.40 622.60V629.10M120.40 884.80V878.30M204.40 622.60V629.10M204.40 884.80V878.30M288.40 622.60V629.10M288.40 884.80V878.30M448.40 622.60V629.10M448.40 884.80V878.30M532.40 622.60V629.10M532.40 884.80V878.30M616.40 622.60V629.10M616.40 884.80V878.30M73.50 277.00H80.00M336.00 277.00H329.50M73.50 223.30H80.00M336.00 223.30H329.50M73.50 169.60H80.00M336.00 169.60H329.50M73.50 115.90H80.00M336.00 115.90H329.50M401.50 280.60H408.00M664.00 280.60H657.50M401.50 223.50H408.00M664.00 223.50H657.50M401.50 166.40H408.00M664.00 166.40H657.50M401.50 109.30H408.00M664.00 109.30H657.50M73.50 394.50H80.00M336.00 394.50H329.50M73.50 448.10H80.00M336.00 448.10H329.50M73.50 501.70H80.00M336.00 501.70H329.50M73.50 555.30H80.00M336.00 555.30H329.50M401.50 395.00H408.00M664.00 395.00H657.50M401.50 448.60H408.00M664.00 448.60H657.50M401.50 502.20H408.00M664.00 502.20H657.50M401.50 555.80H408.00M664.00 555.80H657.50M73.50 672.90H80.00M336.00 672.90H329.50M73.50 726.50H80.00M336.00 726.50H329.50M73.50 780.10H80.00M336.00 780.10H329.50M73.50 833.70H80.00M336.00 833.70H329.50M401.50 673.40H408.00M664.00 673.40H657.50M401.50 727.00H408.00M664.00 727.00H657.50M401.50 780.60H408.00M664.00 780.60H657.50M401.50 834.20H408.00M664.00 834.20H657.50" stroke="#1a1a1a" stroke-width="1.5" fill="none"/><rect x="217.4" y="593.9" width="118.6" height="12.9" fill="url(#terr)" stroke="#1a1a1a" stroke-width="1.5"/><rect x="544.9" y="594.6" width="119.1" height="12.2" fill="url(#terr)" stroke="#1a1a1a" stroke-width="1.5"/><path d="M264.1 593.9V587.8M314.5 593.9V587.8M553.5 594.6V588.5M617.5 594.6V588.5" stroke="#1a1a1a" stroke-width="1.5"/><text x="167.3" y="23.5" font-size="26"><tspan font-style="italic">V</tspan><tspan font-style="italic" font-size="18" dy="6">tip</tspan><tspan dy="-6"> [V]</tspan></text><text x="494.9" y="23.5" font-size="26"><tspan font-style="italic">V</tspan><tspan font-style="italic" font-size="18" dy="6">tip</tspan><tspan dy="-6"> [V]</tspan></text><text x="123.0" y="56.7" font-size="20.0" text-anchor="middle">-5</text><text x="448.4" y="56.7" font-size="20.0" text-anchor="middle">-5</text><text x="205.0" y="56.7" font-size="20.0" text-anchor="middle">0</text><text x="532.4" y="56.7" font-size="20.0" text-anchor="middle">0</text><text x="287.0" y="56.7" font-size="20.0" text-anchor="middle">5</text><text x="616.4" y="56.7" font-size="20.0" text-anchor="middle">5</text><text x="65.1" y="277.0" font-size="20.0" text-anchor="middle" transform="rotate(-90 65.1 277.0)">0.8</text><text x="65.1" y="223.3" font-size="20.0" text-anchor="middle" transform="rotate(-90 65.1 223.3)">1.0</text><text x="65.1" y="169.6" font-size="20.0" text-anchor="middle" transform="rotate(-90 65.1 169.6)">1.2</text><text x="65.1" y="115.9" font-size="20.0" text-anchor="middle" transform="rotate(-90 65.1 115.9)">1.4</text><text x="392.5" y="280.6" font-size="20.0" text-anchor="middle" transform="rotate(-90 392.5 280.6)">3.00</text><text x="392.5" y="223.5" font-size="20.0" text-anchor="middle" transform="rotate(-90 392.5 223.5)">3.05</text><text x="392.5" y="166.4" font-size="20.0" text-anchor="middle" transform="rotate(-90 392.5 166.4)">3.10</text><text x="392.5" y="109.3" font-size="20.0" text-anchor="middle" transform="rotate(-90 392.5 109.3)">3.15</text><text x="65.1" y="394.5" font-size="20.0" text-anchor="middle" transform="rotate(-90 65.1 394.5)">2.0</text><text x="65.1" y="672.9" font-size="20.0" text-anchor="middle" transform="rotate(-90 65.1 672.9)">2.0</text><text x="65.1" y="448.1" font-size="20.0" text-anchor="middle" transform="rotate(-90 65.1 448.1)">2.2</text><text x="65.1" y="726.5" font-size="20.0" text-anchor="middle" transform="rotate(-90 65.1 726.5)">2.2</text><text x="65.1" y="501.7" font-size="20.0" text-anchor="middle" transform="rotate(-90 65.1 501.7)">2.4</text><text x="65.1" y="780.1" font-size="20.0" text-anchor="middle" transform="rotate(-90 65.1 780.1)">2.4</text><text x="65.1" y="555.3" font-size="20.0" text-anchor="middle" transform="rotate(-90 65.1 555.3)">2.6</text><text x="65.1" y="833.7" font-size="20.0" text-anchor="middle" transform="rotate(-90 65.1 833.7)">2.6</text><text x="392.5" y="395.0" font-size="20.0" text-anchor="middle" transform="rotate(-90 392.5 395.0)">3.2</text><text x="392.5" y="673.4" font-size="20.0" text-anchor="middle" transform="rotate(-90 392.5 673.4)">3.2</text><text x="392.5" y="448.6" font-size="20.0" text-anchor="middle" transform="rotate(-90 392.5 448.6)">3.4</text><text x="392.5" y="727.0" font-size="20.0" text-anchor="middle" transform="rotate(-90 392.5 727.0)">3.4</text><text x="392.5" y="502.2" font-size="20.0" text-anchor="middle" transform="rotate(-90 392.5 502.2)">3.6</text><text x="392.5" y="780.6" font-size="20.0" text-anchor="middle" transform="rotate(-90 392.5 780.6)">3.6</text><text x="392.5" y="555.8" font-size="20.0" text-anchor="middle" transform="rotate(-90 392.5 555.8)">3.8</text><text x="392.5" y="834.2" font-size="20.0" text-anchor="middle" transform="rotate(-90 392.5 834.2)">3.8</text><text transform="translate(34.5 197) rotate(-90)" font-size="26" text-anchor="middle"><tspan font-style="italic">G</tspan> [2e<tspan font-size="18" dx="1.5" dy="-18">2</tspan><tspan dx="1.5" dy="18">/h]</tspan></text><text transform="translate(32 474.5) rotate(-90)" font-size="26" text-anchor="middle"><tspan font-style="italic">V</tspan><tspan font-style="italic" font-size="18" dy="6">BG</tspan><tspan dy="-6"> [V]</tspan></text><text transform="translate(32 752.9) rotate(-90)" font-size="26" text-anchor="middle"><tspan font-style="italic">V</tspan><tspan font-style="italic" font-size="18" dy="6">BG</tspan><tspan dy="-6"> [V]</tspan></text><text x="85.5" y="91.3" font-size="21.5" text-anchor="start">a)</text><text x="413.5" y="91.0" font-size="21.5" text-anchor="start">d)</text><text x="85.5" y="371.5" font-size="21.5" text-anchor="start">b)</text><text x="413.5" y="372" font-size="21.5" fill="#fff">e)</text><text x="85.5" y="649.0" font-size="21.5" text-anchor="start">c)</text><text x="413.5" y="649.0" font-size="21.5" text-anchor="start">f)</text><text x="96.1" y="594.2" font-size="25"><tspan font-style="italic">G</tspan> [2e<tspan font-size="18" dx="1.5" dy="-17">2</tspan><tspan dx="1.5" dy="17">/h]</tspan></text><text x="424.6" y="594.2" font-size="25"><tspan font-style="italic">G</tspan> [2e<tspan font-size="18" dx="1.5" dy="-17">2</tspan><tspan dx="1.5" dy="17">/h]</tspan></text><text x="264.1" y="579.5" font-size="18.0" text-anchor="middle">1</text><text x="314.5" y="579.5" font-size="18.0" text-anchor="middle">2</text><text x="553.5" y="579.7" font-size="18.0" text-anchor="middle">2.5</text><text x="617.5" y="579.7" font-size="18.0" text-anchor="middle">3.0</text><text x="74.7" y="932.6" font-size="19.3" text-anchor="middle">-0.1</text><text x="204.4" y="932.6" font-size="19.3" text-anchor="middle">0.0</text><text x="334.2" y="932.6" font-size="19.3" text-anchor="middle">0.1</text><text x="402.7" y="932.6" font-size="19.3" text-anchor="middle">-0.05</text><text x="532.7" y="932.6" font-size="19.3" text-anchor="middle">0.00</text><text x="662.5" y="932.6" font-size="19.3" text-anchor="middle">0.05</text><text x="160.5" y="962.7" font-size="25" font-style="italic">dG/dV<tspan font-size="18" dy="6.5">tip</tspan></text><text x="488.5" y="962.7" font-size="25" font-style="italic">dG/dV<tspan font-size="18" dy="6.5">tip</tspan></text><line x1="73.5" y1="729.5" x2="336" y2="648.2" stroke="#111" stroke-width="2.2" stroke-dasharray="12 12" stroke-dashoffset="13.2"/><text x="132.5" y="704.4" font-size="26" transform="rotate(-20 132.5 704.4)">Slope 1</text><line x1="268.4" y1="882" x2="333.7" y2="775.3" stroke="#111" stroke-width="2.2" stroke-dasharray="12 12"/><text x="267" y="865" font-size="24.5" transform="rotate(-57.5 267 865)">Slope 2</text><line x1="421.3" y1="881.3" x2="500" y2="752.8" stroke="#111" stroke-width="2.2" stroke-dasharray="12 12"/><text x="436.3" y="831" font-size="25" transform="rotate(-55.5 436.3 831)">Slope 2</text></svg></body></html>
